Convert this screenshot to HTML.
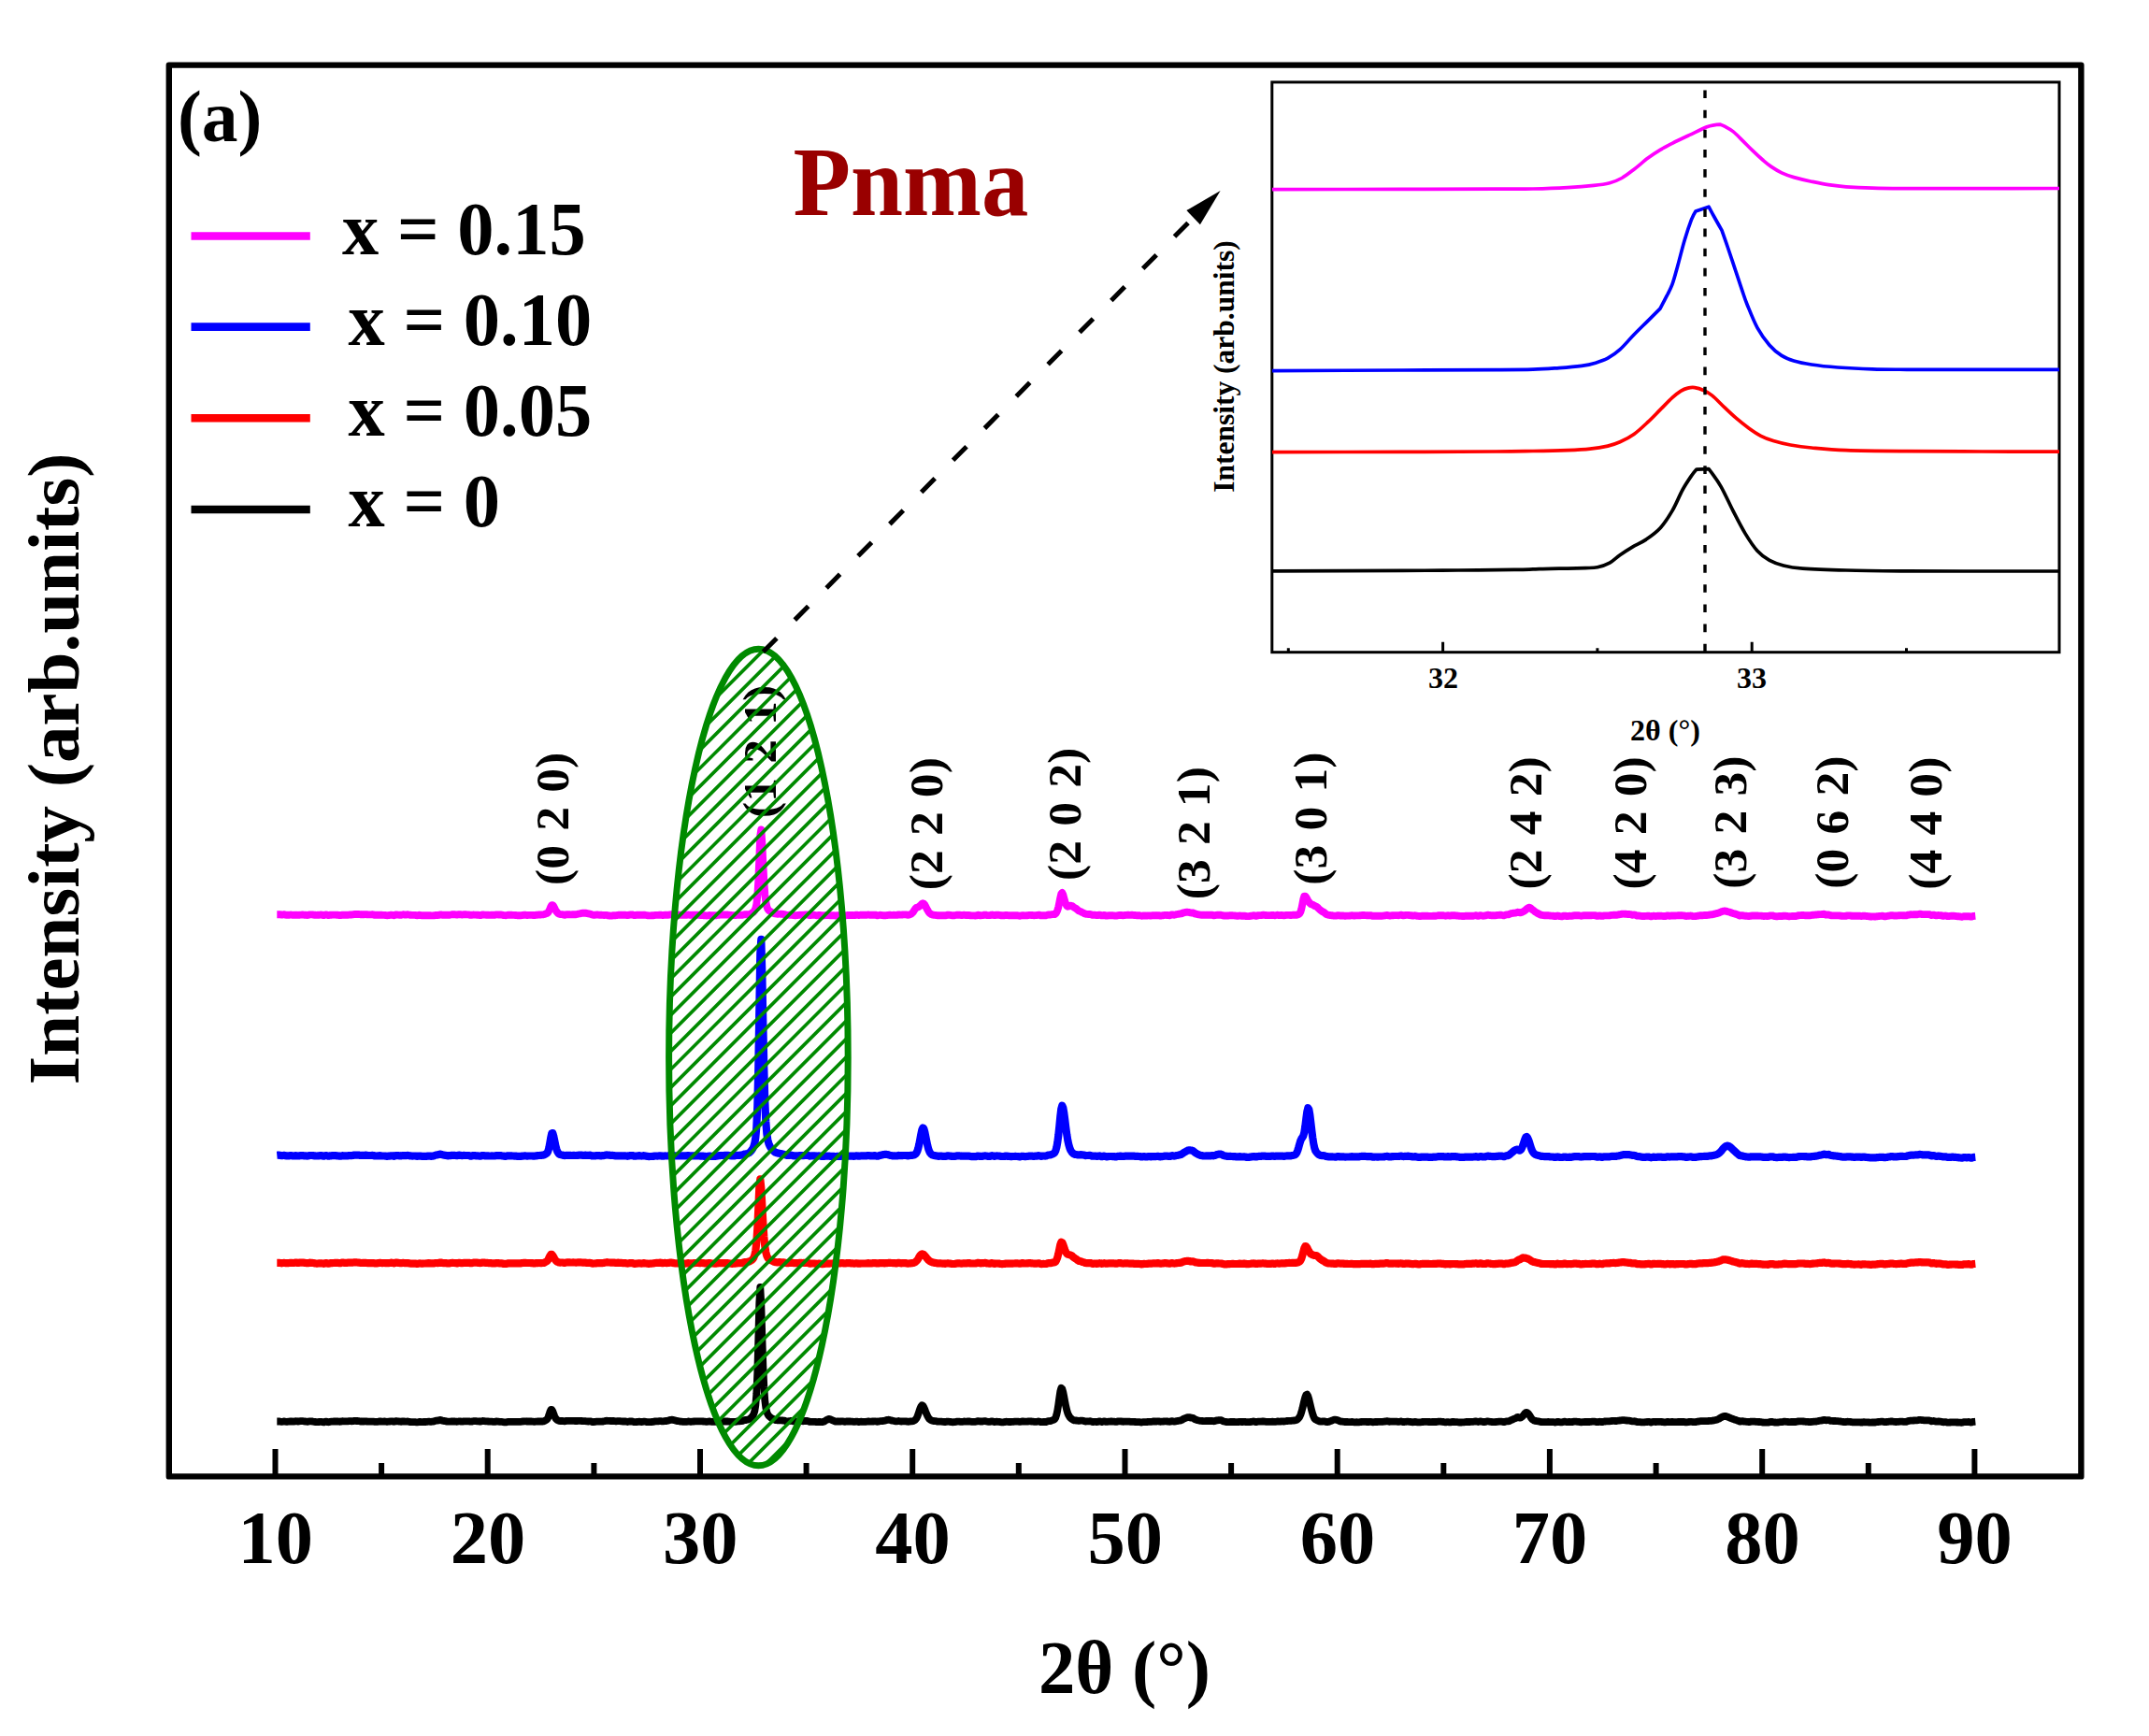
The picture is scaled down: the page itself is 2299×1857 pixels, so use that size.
<!DOCTYPE html>
<html lang="en"><head><meta charset="utf-8"><title>XRD patterns - Pnma</title>
<style>
html,body{margin:0;padding:0;background:#fff;}
body{width:2299px;height:1857px;overflow:hidden;}
svg{display:block;}
text{font-family:"Liberation Serif","Times New Roman",Times,serif;font-weight:bold;fill:#000;}
</style></head><body>
<svg width="2299" height="1857" viewBox="0 0 2299 1857" role="img" aria-label="XRD patterns with inset">
<rect x="0" y="0" width="2299" height="1857" fill="#fff"/>
<g font-size="51.6" word-spacing="2.3">
<text transform="translate(608.3 947.0) rotate(-90)" x="0" y="0">(0 2 0)</text>
<text transform="translate(830.3 874.9) rotate(-90)" x="0" y="0">(1 2 1)</text>
<text transform="translate(1008.3 952.3) rotate(-90)" x="0" y="0">(2 2 0)</text>
<text transform="translate(1156.2 942.0) rotate(-90)" x="0" y="0">(2 0 2)</text>
<text transform="translate(1293.6 962.3) rotate(-90)" x="0" y="0">(3 2 1)</text>
<text transform="translate(1419.1 946.7) rotate(-90)" x="0" y="0">(3 0 1)</text>
<text transform="translate(1648.7 951.4) rotate(-90)" x="0" y="0">(2 4 2)</text>
<text transform="translate(1760.6 951.4) rotate(-90)" x="0" y="0">(4 2 0)</text>
<text transform="translate(1868.2 950.7) rotate(-90)" x="0" y="0">(3 2 3)</text>
<text transform="translate(1976.5 950.7) rotate(-90)" x="0" y="0">(0 6 2)</text>
<text transform="translate(2076.8 951.8) rotate(-90)" x="0" y="0">(4 4 0)</text>
</g>
<path d="M296.3 1520.5 L297.3 1520.5 L298.3 1520.5 L299.3 1520.5 L300.3 1520.7 L301.3 1520.9 L302.3 1520.7 L303.3 1520.5 L304.3 1520.5 L305.3 1520.7 L306.3 1520.8 L307.3 1520.8 L308.3 1520.7 L309.3 1520.6 L310.3 1520.5 L311.3 1520.4 L312.3 1520.5 L313.3 1520.6 L314.3 1520.6 L315.3 1520.4 L316.3 1520.2 L317.3 1520.3 L318.3 1520.5 L319.3 1520.5 L320.3 1520.3 L321.3 1520.2 L322.3 1520.2 L323.3 1520.2 L324.3 1520.2 L325.3 1520.4 L326.3 1520.5 L327.3 1520.6 L328.3 1520.8 L329.3 1520.8 L330.3 1520.5 L331.3 1520.3 L332.3 1520.4 L333.3 1520.4 L334.3 1520.5 L335.3 1520.7 L336.3 1520.9 L337.3 1521.0 L338.3 1521.2 L339.3 1521.2 L340.3 1521.1 L341.3 1521.0 L342.3 1520.9 L343.3 1520.9 L344.3 1520.9 L345.3 1521.2 L346.3 1521.4 L347.3 1521.1 L348.3 1520.7 L349.3 1520.7 L350.3 1521.1 L351.3 1521.3 L352.3 1521.1 L353.3 1520.8 L354.3 1520.7 L355.3 1520.7 L356.3 1520.6 L357.3 1520.5 L358.3 1520.5 L359.3 1520.5 L360.3 1520.5 L361.3 1520.5 L362.3 1520.6 L363.3 1520.8 L364.3 1520.7 L365.3 1520.4 L366.3 1520.2 L367.3 1520.3 L368.3 1520.4 L369.3 1520.4 L370.3 1520.4 L371.3 1520.4 L372.3 1520.3 L373.3 1520.2 L374.3 1520.2 L375.3 1520.2 L376.3 1520.3 L377.3 1520.2 L378.3 1520.0 L379.3 1519.9 L380.3 1519.9 L381.3 1520.0 L382.3 1520.0 L383.3 1520.1 L384.3 1520.2 L385.3 1520.4 L386.3 1520.6 L387.3 1520.5 L388.3 1520.5 L389.3 1520.5 L390.3 1520.4 L391.3 1520.4 L392.3 1520.5 L393.3 1520.7 L394.3 1520.7 L395.3 1520.7 L396.3 1520.6 L397.3 1520.6 L398.3 1520.6 L399.3 1520.6 L400.3 1520.8 L401.3 1520.9 L402.3 1520.9 L403.3 1520.8 L404.3 1520.8 L405.3 1520.6 L406.3 1520.4 L407.3 1520.5 L408.3 1520.6 L409.3 1520.6 L410.3 1520.6 L411.3 1520.5 L412.3 1520.6 L413.3 1520.8 L414.3 1520.8 L415.3 1520.7 L416.3 1520.6 L417.3 1520.5 L418.3 1520.3 L419.3 1520.3 L420.3 1520.6 L421.3 1520.8 L422.3 1520.6 L423.3 1520.2 L424.3 1520.2 L425.3 1520.3 L426.3 1520.4 L427.3 1520.6 L428.3 1520.7 L429.3 1520.8 L430.3 1520.5 L431.3 1520.4 L432.3 1520.5 L433.3 1520.7 L434.3 1520.7 L435.3 1520.6 L436.3 1520.5 L437.3 1520.7 L438.3 1521.0 L439.3 1521.1 L440.3 1521.2 L441.3 1521.2 L442.3 1521.2 L443.3 1521.1 L444.3 1521.2 L445.3 1521.3 L446.3 1521.4 L447.3 1521.2 L448.3 1521.0 L449.3 1520.9 L450.3 1521.1 L451.3 1521.2 L452.3 1521.1 L453.3 1521.0 L454.3 1521.0 L455.3 1521.0 L456.3 1520.9 L457.3 1520.8 L458.3 1520.7 L459.3 1520.7 L460.3 1520.8 L461.3 1520.8 L462.3 1520.7 L463.3 1520.6 L464.3 1520.4 L465.3 1520.0 L466.3 1519.7 L467.3 1519.6 L468.3 1519.5 L469.3 1519.4 L470.3 1519.1 L471.3 1518.9 L472.3 1519.2 L473.3 1519.7 L474.3 1519.9 L475.3 1520.0 L476.3 1520.1 L477.3 1520.4 L478.3 1520.6 L479.3 1520.7 L480.3 1520.7 L481.3 1520.7 L482.3 1520.6 L483.3 1520.4 L484.3 1520.4 L485.3 1520.5 L486.3 1520.5 L487.3 1520.6 L488.3 1520.8 L489.3 1520.7 L490.3 1520.5 L491.3 1520.3 L492.3 1520.4 L493.3 1520.6 L494.3 1520.7 L495.3 1520.5 L496.3 1520.4 L497.3 1520.4 L498.3 1520.4 L499.3 1520.4 L500.3 1520.3 L501.3 1520.3 L502.3 1520.4 L503.3 1520.7 L504.3 1520.7 L505.3 1520.4 L506.3 1520.2 L507.3 1520.2 L508.3 1520.2 L509.3 1520.2 L510.3 1520.3 L511.3 1520.3 L512.3 1520.4 L513.3 1520.6 L514.3 1520.5 L515.3 1520.2 L516.3 1520.0 L517.3 1520.1 L518.3 1520.2 L519.3 1520.3 L520.3 1520.3 L521.3 1520.4 L522.3 1520.5 L523.3 1520.7 L524.3 1520.7 L525.3 1520.7 L526.3 1520.7 L527.3 1520.8 L528.3 1520.9 L529.3 1520.9 L530.3 1520.6 L531.3 1520.5 L532.3 1520.6 L533.3 1520.7 L534.3 1520.8 L535.3 1520.8 L536.3 1520.8 L537.3 1521.0 L538.3 1521.2 L539.3 1521.3 L540.3 1521.4 L541.3 1521.4 L542.3 1521.2 L543.3 1520.8 L544.3 1520.8 L545.3 1520.8 L546.3 1520.8 L547.3 1520.8 L548.3 1520.8 L549.3 1520.8 L550.3 1520.8 L551.3 1520.8 L552.3 1520.8 L553.3 1520.9 L554.3 1520.9 L555.3 1520.9 L556.3 1520.9 L557.3 1520.8 L558.3 1520.6 L559.3 1520.5 L560.3 1520.4 L561.3 1520.3 L562.3 1520.3 L563.3 1520.5 L564.3 1520.5 L565.3 1520.5 L566.3 1520.4 L567.3 1520.5 L568.3 1520.5 L569.3 1520.6 L570.3 1520.7 L571.3 1520.8 L572.3 1520.8 L573.3 1520.6 L574.3 1520.6 L575.3 1520.5 L576.3 1520.5 L577.3 1520.5 L578.3 1520.5 L579.3 1520.5 L580.3 1520.5 L581.3 1520.4 L582.3 1520.1 L583.3 1519.5 L584.3 1519.0 L585.3 1518.2 L586.3 1516.5 L587.3 1513.6 L588.3 1510.3 L589.3 1508.0 L590.3 1507.9 L591.3 1509.7 L592.3 1512.4 L593.3 1515.0 L594.3 1517.0 L595.3 1518.3 L596.3 1519.1 L597.3 1519.6 L598.3 1519.9 L599.3 1520.0 L600.3 1519.9 L601.3 1519.9 L602.3 1520.1 L603.3 1520.3 L604.3 1520.3 L605.3 1520.0 L606.3 1519.9 L607.3 1519.9 L608.3 1519.8 L609.3 1519.8 L610.3 1519.9 L611.3 1519.9 L612.3 1519.9 L613.3 1519.9 L614.3 1519.9 L615.3 1520.0 L616.3 1520.0 L617.3 1520.0 L618.3 1519.9 L619.3 1519.9 L620.3 1519.9 L621.3 1519.9 L622.3 1520.0 L623.3 1520.1 L624.3 1520.1 L625.3 1520.1 L626.3 1520.2 L627.3 1520.3 L628.3 1520.4 L629.3 1520.5 L630.3 1520.4 L631.3 1520.3 L632.3 1520.6 L633.3 1521.0 L634.3 1521.1 L635.3 1521.0 L636.3 1520.9 L637.3 1520.8 L638.3 1520.6 L639.3 1520.6 L640.3 1520.7 L641.3 1520.7 L642.3 1520.7 L643.3 1520.6 L644.3 1520.6 L645.3 1520.5 L646.3 1520.3 L647.3 1520.1 L648.3 1519.8 L649.3 1519.7 L650.3 1519.9 L651.3 1519.9 L652.3 1519.9 L653.3 1520.0 L654.3 1520.1 L655.3 1520.0 L656.3 1520.0 L657.3 1520.1 L658.3 1520.3 L659.3 1520.3 L660.3 1520.2 L661.3 1520.2 L662.3 1520.2 L663.3 1520.2 L664.3 1520.3 L665.3 1520.4 L666.3 1520.5 L667.3 1520.5 L668.3 1520.5 L669.3 1520.5 L670.3 1520.8 L671.3 1521.0 L672.3 1520.8 L673.3 1520.5 L674.3 1520.5 L675.3 1520.5 L676.3 1520.5 L677.3 1520.8 L678.3 1521.2 L679.3 1521.2 L680.3 1521.1 L681.3 1521.0 L682.3 1520.9 L683.3 1520.7 L684.3 1520.7 L685.3 1520.9 L686.3 1521.0 L687.3 1520.9 L688.3 1520.7 L689.3 1520.6 L690.3 1520.8 L691.3 1521.0 L692.3 1521.1 L693.3 1521.2 L694.3 1521.2 L695.3 1521.1 L696.3 1521.1 L697.3 1521.0 L698.3 1520.9 L699.3 1520.8 L700.3 1520.5 L701.3 1520.4 L702.3 1520.3 L703.3 1520.3 L704.3 1520.3 L705.3 1520.2 L706.3 1520.1 L707.3 1520.2 L708.3 1520.4 L709.3 1520.4 L710.3 1520.2 L711.3 1520.1 L712.3 1520.0 L713.3 1520.0 L714.3 1519.8 L715.3 1519.4 L716.3 1519.1 L717.3 1518.9 L718.3 1518.7 L719.3 1518.7 L720.3 1518.9 L721.3 1519.2 L722.3 1519.4 L723.3 1519.7 L724.3 1520.0 L725.3 1520.1 L726.3 1520.3 L727.3 1520.5 L728.3 1520.6 L729.3 1520.7 L730.3 1520.8 L731.3 1520.9 L732.3 1520.9 L733.3 1520.9 L734.3 1520.9 L735.3 1520.7 L736.3 1520.5 L737.3 1520.6 L738.3 1520.8 L739.3 1520.8 L740.3 1520.7 L741.3 1520.6 L742.3 1520.5 L743.3 1520.4 L744.3 1520.3 L745.3 1520.3 L746.3 1520.3 L747.3 1520.4 L748.3 1520.4 L749.3 1520.4 L750.3 1520.4 L751.3 1520.4 L752.3 1520.5 L753.3 1520.6 L754.3 1520.7 L755.3 1520.8 L756.3 1520.8 L757.3 1520.7 L758.3 1520.5 L759.3 1520.5 L760.3 1520.7 L761.3 1520.8 L762.3 1520.8 L763.3 1520.9 L764.3 1520.9 L765.3 1520.9 L766.3 1520.9 L767.3 1520.8 L768.3 1520.5 L769.3 1520.5 L770.3 1520.4 L771.3 1520.4 L772.3 1520.5 L773.3 1520.5 L774.3 1520.5 L775.3 1520.5 L776.3 1520.5 L777.3 1520.5 L778.3 1520.5 L779.3 1520.6 L780.3 1520.7 L781.3 1520.9 L782.3 1520.9 L783.3 1521.0 L784.3 1521.0 L785.3 1520.9 L786.3 1520.9 L787.3 1520.7 L788.3 1520.5 L789.3 1520.4 L790.3 1520.4 L791.3 1520.3 L792.3 1520.2 L793.3 1520.2 L794.3 1520.0 L795.3 1519.5 L796.3 1519.1 L797.3 1519.0 L798.3 1519.0 L799.3 1518.8 L800.3 1518.5 L801.3 1518.1 L802.3 1517.5 L803.3 1516.8 L804.3 1515.8 L805.3 1514.5 L806.3 1512.7 L807.3 1509.5 L808.3 1503.4 L809.3 1491.1 L810.3 1468.2 L811.3 1432.7 L812.3 1393.4 L813.3 1376.8 L814.3 1395.0 L815.3 1428.5 L816.3 1460.2 L817.3 1483.4 L818.3 1497.9 L819.3 1505.9 L820.3 1510.4 L821.3 1512.9 L822.3 1514.4 L823.3 1515.3 L824.3 1516.2 L825.3 1516.9 L826.3 1517.4 L827.3 1518.0 L828.3 1518.6 L829.3 1519.0 L830.3 1519.1 L831.3 1519.3 L832.3 1519.3 L833.3 1519.2 L834.3 1519.3 L835.3 1519.4 L836.3 1519.4 L837.3 1519.5 L838.3 1519.6 L839.3 1519.7 L840.3 1520.1 L841.3 1520.3 L842.3 1520.3 L843.3 1520.3 L844.3 1520.2 L845.3 1520.0 L846.3 1519.8 L847.3 1520.0 L848.3 1520.3 L849.3 1520.4 L850.3 1520.4 L851.3 1520.5 L852.3 1520.4 L853.3 1520.3 L854.3 1520.2 L855.3 1520.1 L856.3 1520.1 L857.3 1520.1 L858.3 1520.2 L859.3 1520.3 L860.3 1520.1 L861.3 1520.0 L862.3 1520.0 L863.3 1520.0 L864.3 1520.1 L865.3 1520.6 L866.3 1520.9 L867.3 1520.9 L868.3 1520.8 L869.3 1520.8 L870.3 1520.8 L871.3 1520.8 L872.3 1520.9 L873.3 1521.1 L874.3 1521.2 L875.3 1521.0 L876.3 1520.9 L877.3 1521.0 L878.3 1521.2 L879.3 1521.1 L880.3 1521.0 L881.3 1520.8 L882.3 1520.3 L883.3 1519.5 L884.3 1518.9 L885.3 1518.4 L886.3 1518.0 L887.3 1517.9 L888.3 1518.2 L889.3 1518.7 L890.3 1519.2 L891.3 1519.6 L892.3 1520.1 L893.3 1520.5 L894.3 1520.6 L895.3 1520.5 L896.3 1520.5 L897.3 1520.5 L898.3 1520.6 L899.3 1520.5 L900.3 1520.4 L901.3 1520.3 L902.3 1520.5 L903.3 1520.8 L904.3 1520.8 L905.3 1520.6 L906.3 1520.4 L907.3 1520.4 L908.3 1520.5 L909.3 1520.5 L910.3 1520.6 L911.3 1520.6 L912.3 1520.7 L913.3 1520.9 L914.3 1520.9 L915.3 1520.7 L916.3 1520.6 L917.3 1520.7 L918.3 1521.0 L919.3 1521.0 L920.3 1520.8 L921.3 1520.7 L922.3 1520.8 L923.3 1520.8 L924.3 1520.8 L925.3 1520.8 L926.3 1520.8 L927.3 1520.7 L928.3 1520.5 L929.3 1520.5 L930.3 1520.6 L931.3 1520.7 L932.3 1520.6 L933.3 1520.5 L934.3 1520.5 L935.3 1520.4 L936.3 1520.3 L937.3 1520.5 L938.3 1520.8 L939.3 1520.7 L940.3 1520.4 L941.3 1520.2 L942.3 1520.2 L943.3 1520.2 L944.3 1520.0 L945.3 1519.9 L946.3 1519.7 L947.3 1519.4 L948.3 1519.1 L949.3 1518.9 L950.3 1518.7 L951.3 1518.8 L952.3 1519.0 L953.3 1519.4 L954.3 1519.6 L955.3 1519.8 L956.3 1520.0 L957.3 1520.2 L958.3 1520.4 L959.3 1520.4 L960.3 1520.2 L961.3 1520.0 L962.3 1520.2 L963.3 1520.4 L964.3 1520.5 L965.3 1520.4 L966.3 1520.3 L967.3 1520.3 L968.3 1520.4 L969.3 1520.4 L970.3 1520.6 L971.3 1520.8 L972.3 1520.7 L973.3 1520.5 L974.3 1520.4 L975.3 1520.4 L976.3 1520.2 L977.3 1519.9 L978.3 1519.5 L979.3 1518.7 L980.3 1517.4 L981.3 1515.5 L982.3 1512.9 L983.3 1509.8 L984.3 1506.8 L985.3 1504.4 L986.3 1503.2 L987.3 1503.6 L988.3 1505.2 L989.3 1507.5 L990.3 1510.2 L991.3 1512.7 L992.3 1514.9 L993.3 1516.7 L994.3 1518.0 L995.3 1518.8 L996.3 1519.3 L997.3 1519.7 L998.3 1519.9 L999.3 1520.1 L1000.3 1520.1 L1001.3 1520.2 L1002.3 1520.4 L1003.3 1520.7 L1004.3 1520.7 L1005.3 1520.7 L1006.3 1520.6 L1007.3 1520.7 L1008.3 1520.8 L1009.3 1520.9 L1010.3 1521.0 L1011.3 1521.0 L1012.3 1520.9 L1013.3 1520.6 L1014.3 1520.6 L1015.3 1520.8 L1016.3 1520.9 L1017.3 1521.0 L1018.3 1521.2 L1019.3 1521.3 L1020.3 1521.2 L1021.3 1521.2 L1022.3 1521.0 L1023.3 1520.7 L1024.3 1520.7 L1025.3 1520.7 L1026.3 1520.7 L1027.3 1520.8 L1028.3 1520.9 L1029.3 1520.9 L1030.3 1520.7 L1031.3 1520.5 L1032.3 1520.6 L1033.3 1520.6 L1034.3 1520.6 L1035.3 1520.5 L1036.3 1520.4 L1037.3 1520.5 L1038.3 1520.7 L1039.3 1520.8 L1040.3 1520.8 L1041.3 1520.8 L1042.3 1520.8 L1043.3 1520.8 L1044.3 1520.7 L1045.3 1520.3 L1046.3 1520.1 L1047.3 1520.3 L1048.3 1520.5 L1049.3 1520.5 L1050.3 1520.5 L1051.3 1520.5 L1052.3 1520.3 L1053.3 1520.1 L1054.3 1520.2 L1055.3 1520.5 L1056.3 1520.7 L1057.3 1520.8 L1058.3 1520.8 L1059.3 1520.8 L1060.3 1520.5 L1061.3 1520.4 L1062.3 1520.6 L1063.3 1521.0 L1064.3 1521.0 L1065.3 1520.8 L1066.3 1520.7 L1067.3 1520.8 L1068.3 1520.8 L1069.3 1520.9 L1070.3 1521.2 L1071.3 1521.3 L1072.3 1521.3 L1073.3 1521.3 L1074.3 1521.2 L1075.3 1520.9 L1076.3 1520.7 L1077.3 1520.8 L1078.3 1520.9 L1079.3 1521.0 L1080.3 1521.0 L1081.3 1521.0 L1082.3 1520.9 L1083.3 1520.8 L1084.3 1520.8 L1085.3 1520.7 L1086.3 1520.6 L1087.3 1520.6 L1088.3 1520.7 L1089.3 1520.7 L1090.3 1520.8 L1091.3 1520.9 L1092.3 1520.7 L1093.3 1520.4 L1094.3 1520.4 L1095.3 1520.6 L1096.3 1520.7 L1097.3 1520.7 L1098.3 1520.6 L1099.3 1520.6 L1100.3 1520.4 L1101.3 1520.3 L1102.3 1520.4 L1103.3 1520.5 L1104.3 1520.6 L1105.3 1520.7 L1106.3 1520.8 L1107.3 1520.8 L1108.3 1520.8 L1109.3 1520.8 L1110.3 1520.6 L1111.3 1520.5 L1112.3 1520.7 L1113.3 1521.1 L1114.3 1521.2 L1115.3 1521.1 L1116.3 1521.0 L1117.3 1521.0 L1118.3 1521.1 L1119.3 1521.0 L1120.3 1520.5 L1121.3 1520.2 L1122.3 1520.1 L1123.3 1520.1 L1124.3 1519.9 L1125.3 1519.5 L1126.3 1519.1 L1127.3 1518.8 L1128.3 1518.1 L1129.3 1516.4 L1130.3 1513.3 L1131.3 1508.7 L1132.3 1502.4 L1133.3 1495.1 L1134.3 1488.3 L1135.3 1484.8 L1136.3 1485.7 L1137.3 1489.1 L1138.3 1494.1 L1139.3 1499.4 L1140.3 1504.4 L1141.3 1508.6 L1142.3 1511.9 L1143.3 1514.1 L1144.3 1515.8 L1145.3 1516.9 L1146.3 1517.7 L1147.3 1518.4 L1148.3 1519.1 L1149.3 1519.4 L1150.3 1519.4 L1151.3 1519.5 L1152.3 1519.6 L1153.3 1519.8 L1154.3 1519.9 L1155.3 1519.7 L1156.3 1519.6 L1157.3 1519.7 L1158.3 1519.7 L1159.3 1519.9 L1160.3 1520.2 L1161.3 1520.5 L1162.3 1520.4 L1163.3 1520.4 L1164.3 1520.4 L1165.3 1520.3 L1166.3 1520.2 L1167.3 1520.5 L1168.3 1520.9 L1169.3 1521.0 L1170.3 1520.9 L1171.3 1520.8 L1172.3 1520.9 L1173.3 1521.0 L1174.3 1520.9 L1175.3 1520.6 L1176.3 1520.4 L1177.3 1520.6 L1178.3 1521.0 L1179.3 1521.0 L1180.3 1520.6 L1181.3 1520.4 L1182.3 1520.6 L1183.3 1520.9 L1184.3 1520.9 L1185.3 1520.7 L1186.3 1520.6 L1187.3 1520.6 L1188.3 1520.5 L1189.3 1520.5 L1190.3 1520.6 L1191.3 1520.6 L1192.3 1520.7 L1193.3 1520.9 L1194.3 1520.9 L1195.3 1520.6 L1196.3 1520.4 L1197.3 1520.4 L1198.3 1520.4 L1199.3 1520.4 L1200.3 1520.6 L1201.3 1520.8 L1202.3 1520.7 L1203.3 1520.6 L1204.3 1520.6 L1205.3 1520.6 L1206.3 1520.6 L1207.3 1520.7 L1208.3 1520.7 L1209.3 1520.8 L1210.3 1520.8 L1211.3 1520.8 L1212.3 1520.8 L1213.3 1520.9 L1214.3 1521.0 L1215.3 1521.1 L1216.3 1521.1 L1217.3 1521.1 L1218.3 1521.1 L1219.3 1521.2 L1220.3 1521.4 L1221.3 1521.5 L1222.3 1521.3 L1223.3 1521.1 L1224.3 1521.1 L1225.3 1521.1 L1226.3 1521.2 L1227.3 1521.0 L1228.3 1520.9 L1229.3 1520.8 L1230.3 1520.9 L1231.3 1520.9 L1232.3 1520.7 L1233.3 1520.5 L1234.3 1520.5 L1235.3 1520.5 L1236.3 1520.6 L1237.3 1520.5 L1238.3 1520.3 L1239.3 1520.3 L1240.3 1520.6 L1241.3 1520.8 L1242.3 1520.7 L1243.3 1520.6 L1244.3 1520.6 L1245.3 1520.4 L1246.3 1520.3 L1247.3 1520.3 L1248.3 1520.5 L1249.3 1520.5 L1250.3 1520.7 L1251.3 1520.8 L1252.3 1520.6 L1253.3 1520.2 L1254.3 1520.2 L1255.3 1520.5 L1256.3 1520.7 L1257.3 1520.5 L1258.3 1520.2 L1259.3 1520.1 L1260.3 1519.9 L1261.3 1519.7 L1262.3 1519.6 L1263.3 1519.4 L1264.3 1519.0 L1265.3 1518.3 L1266.3 1517.7 L1267.3 1517.3 L1268.3 1516.9 L1269.3 1516.5 L1270.3 1516.2 L1271.3 1516.1 L1272.3 1516.1 L1273.3 1516.4 L1274.3 1516.6 L1275.3 1516.7 L1276.3 1516.9 L1277.3 1517.5 L1278.3 1518.2 L1279.3 1518.6 L1280.3 1519.0 L1281.3 1519.3 L1282.3 1519.5 L1283.3 1519.7 L1284.3 1519.9 L1285.3 1519.9 L1286.3 1520.0 L1287.3 1520.1 L1288.3 1520.1 L1289.3 1520.1 L1290.3 1520.0 L1291.3 1519.9 L1292.3 1520.0 L1293.3 1520.0 L1294.3 1520.0 L1295.3 1520.0 L1296.3 1519.9 L1297.3 1520.1 L1298.3 1520.3 L1299.3 1520.2 L1300.3 1519.8 L1301.3 1519.5 L1302.3 1519.4 L1303.3 1519.2 L1304.3 1519.1 L1305.3 1519.1 L1306.3 1519.2 L1307.3 1519.6 L1308.3 1520.2 L1309.3 1520.5 L1310.3 1520.7 L1311.3 1520.9 L1312.3 1521.1 L1313.3 1521.1 L1314.3 1521.2 L1315.3 1521.1 L1316.3 1521.0 L1317.3 1521.0 L1318.3 1521.0 L1319.3 1521.0 L1320.3 1521.0 L1321.3 1521.1 L1322.3 1521.1 L1323.3 1521.1 L1324.3 1521.1 L1325.3 1521.0 L1326.3 1520.8 L1327.3 1520.9 L1328.3 1521.0 L1329.3 1521.0 L1330.3 1520.9 L1331.3 1520.8 L1332.3 1520.9 L1333.3 1521.2 L1334.3 1521.2 L1335.3 1521.2 L1336.3 1521.2 L1337.3 1521.1 L1338.3 1520.9 L1339.3 1520.8 L1340.3 1520.6 L1341.3 1520.5 L1342.3 1520.7 L1343.3 1521.1 L1344.3 1521.1 L1345.3 1520.8 L1346.3 1520.6 L1347.3 1520.6 L1348.3 1520.7 L1349.3 1520.7 L1350.3 1520.5 L1351.3 1520.4 L1352.3 1520.6 L1353.3 1520.7 L1354.3 1520.8 L1355.3 1520.9 L1356.3 1520.9 L1357.3 1520.9 L1358.3 1520.9 L1359.3 1520.9 L1360.3 1520.8 L1361.3 1520.7 L1362.3 1520.8 L1363.3 1520.9 L1364.3 1520.9 L1365.3 1520.7 L1366.3 1520.5 L1367.3 1520.5 L1368.3 1520.6 L1369.3 1520.6 L1370.3 1520.5 L1371.3 1520.4 L1372.3 1520.4 L1373.3 1520.5 L1374.3 1520.4 L1375.3 1520.2 L1376.3 1520.0 L1377.3 1520.0 L1378.3 1519.9 L1379.3 1519.8 L1380.3 1519.9 L1381.3 1519.8 L1382.3 1519.7 L1383.3 1519.6 L1384.3 1519.5 L1385.3 1519.4 L1386.3 1519.2 L1387.3 1518.8 L1388.3 1518.1 L1389.3 1517.1 L1390.3 1515.7 L1391.3 1513.5 L1392.3 1510.5 L1393.3 1506.8 L1394.3 1502.5 L1395.3 1498.2 L1396.3 1494.4 L1397.3 1492.0 L1398.3 1491.6 L1399.3 1493.4 L1400.3 1496.6 L1401.3 1500.8 L1402.3 1505.2 L1403.3 1509.2 L1404.3 1512.6 L1405.3 1515.4 L1406.3 1517.5 L1407.3 1518.5 L1408.3 1518.9 L1409.3 1519.4 L1410.3 1520.0 L1411.3 1520.4 L1412.3 1520.5 L1413.3 1520.6 L1414.3 1520.6 L1415.3 1520.4 L1416.3 1520.3 L1417.3 1520.6 L1418.3 1520.9 L1419.3 1521.0 L1420.3 1521.0 L1421.3 1520.9 L1422.3 1520.6 L1423.3 1520.2 L1424.3 1519.8 L1425.3 1519.4 L1426.3 1519.0 L1427.3 1518.6 L1428.3 1518.6 L1429.3 1518.8 L1430.3 1518.9 L1431.3 1519.2 L1432.3 1519.7 L1433.3 1520.2 L1434.3 1520.5 L1435.3 1520.6 L1436.3 1520.7 L1437.3 1520.8 L1438.3 1521.0 L1439.3 1521.0 L1440.3 1521.0 L1441.3 1521.0 L1442.3 1521.1 L1443.3 1521.1 L1444.3 1521.1 L1445.3 1521.1 L1446.3 1521.0 L1447.3 1521.1 L1448.3 1521.3 L1449.3 1521.3 L1450.3 1521.3 L1451.3 1521.2 L1452.3 1521.3 L1453.3 1521.3 L1454.3 1521.3 L1455.3 1521.1 L1456.3 1521.0 L1457.3 1520.9 L1458.3 1520.9 L1459.3 1520.9 L1460.3 1520.9 L1461.3 1520.9 L1462.3 1521.0 L1463.3 1521.1 L1464.3 1521.0 L1465.3 1520.9 L1466.3 1520.8 L1467.3 1521.0 L1468.3 1521.3 L1469.3 1521.3 L1470.3 1521.1 L1471.3 1521.0 L1472.3 1521.0 L1473.3 1521.0 L1474.3 1520.9 L1475.3 1520.9 L1476.3 1520.8 L1477.3 1520.8 L1478.3 1520.8 L1479.3 1520.8 L1480.3 1520.7 L1481.3 1520.6 L1482.3 1520.4 L1483.3 1520.2 L1484.3 1520.2 L1485.3 1520.5 L1486.3 1520.8 L1487.3 1520.7 L1488.3 1520.7 L1489.3 1520.7 L1490.3 1520.6 L1491.3 1520.6 L1492.3 1520.6 L1493.3 1520.7 L1494.3 1520.7 L1495.3 1520.8 L1496.3 1520.9 L1497.3 1520.7 L1498.3 1520.5 L1499.3 1520.5 L1500.3 1520.9 L1501.3 1521.1 L1502.3 1521.0 L1503.3 1520.8 L1504.3 1520.8 L1505.3 1520.7 L1506.3 1520.7 L1507.3 1520.8 L1508.3 1520.9 L1509.3 1521.0 L1510.3 1521.2 L1511.3 1521.3 L1512.3 1521.2 L1513.3 1520.9 L1514.3 1520.9 L1515.3 1521.2 L1516.3 1521.3 L1517.3 1521.3 L1518.3 1521.4 L1519.3 1521.4 L1520.3 1521.2 L1521.3 1521.0 L1522.3 1521.0 L1523.3 1520.9 L1524.3 1520.9 L1525.3 1520.9 L1526.3 1520.9 L1527.3 1520.9 L1528.3 1521.0 L1529.3 1521.0 L1530.3 1521.1 L1531.3 1521.1 L1532.3 1521.0 L1533.3 1521.0 L1534.3 1521.0 L1535.3 1521.0 L1536.3 1521.0 L1537.3 1520.9 L1538.3 1520.7 L1539.3 1520.6 L1540.3 1520.7 L1541.3 1520.7 L1542.3 1520.8 L1543.3 1520.9 L1544.3 1521.0 L1545.3 1521.2 L1546.3 1521.4 L1547.3 1521.3 L1548.3 1521.1 L1549.3 1521.2 L1550.3 1521.3 L1551.3 1521.4 L1552.3 1521.3 L1553.3 1521.0 L1554.3 1521.0 L1555.3 1521.0 L1556.3 1521.1 L1557.3 1521.1 L1558.3 1521.2 L1559.3 1521.2 L1560.3 1521.4 L1561.3 1521.5 L1562.3 1521.5 L1563.3 1521.5 L1564.3 1521.4 L1565.3 1521.4 L1566.3 1521.3 L1567.3 1521.2 L1568.3 1521.0 L1569.3 1520.9 L1570.3 1521.0 L1571.3 1521.0 L1572.3 1521.0 L1573.3 1520.9 L1574.3 1520.8 L1575.3 1520.8 L1576.3 1520.8 L1577.3 1520.6 L1578.3 1520.5 L1579.3 1520.5 L1580.3 1520.8 L1581.3 1521.0 L1582.3 1520.8 L1583.3 1520.5 L1584.3 1520.5 L1585.3 1520.8 L1586.3 1521.0 L1587.3 1521.0 L1588.3 1521.0 L1589.3 1520.9 L1590.3 1520.5 L1591.3 1520.3 L1592.3 1520.5 L1593.3 1520.7 L1594.3 1520.8 L1595.3 1520.9 L1596.3 1521.1 L1597.3 1521.1 L1598.3 1521.2 L1599.3 1521.2 L1600.3 1521.0 L1601.3 1520.9 L1602.3 1520.8 L1603.3 1520.7 L1604.3 1520.7 L1605.3 1520.7 L1606.3 1520.7 L1607.3 1520.8 L1608.3 1521.1 L1609.3 1521.1 L1610.3 1520.7 L1611.3 1520.4 L1612.3 1520.4 L1613.3 1520.4 L1614.3 1520.2 L1615.3 1519.7 L1616.3 1519.2 L1617.3 1518.8 L1618.3 1518.5 L1619.3 1517.9 L1620.3 1517.5 L1621.3 1517.1 L1622.3 1516.5 L1623.3 1515.9 L1624.3 1515.9 L1625.3 1516.4 L1626.3 1516.7 L1627.3 1516.3 L1628.3 1515.5 L1629.3 1514.5 L1630.3 1513.3 L1631.3 1512.0 L1632.3 1511.1 L1633.3 1510.9 L1634.3 1511.5 L1635.3 1512.5 L1636.3 1513.9 L1637.3 1515.5 L1638.3 1517.2 L1639.3 1518.3 L1640.3 1519.0 L1641.3 1519.6 L1642.3 1519.9 L1643.3 1520.0 L1644.3 1520.2 L1645.3 1520.3 L1646.3 1520.4 L1647.3 1520.7 L1648.3 1521.0 L1649.3 1521.1 L1650.3 1521.1 L1651.3 1521.2 L1652.3 1521.1 L1653.3 1521.1 L1654.3 1521.1 L1655.3 1521.1 L1656.3 1521.0 L1657.3 1521.1 L1658.3 1521.2 L1659.3 1521.2 L1660.3 1521.2 L1661.3 1521.1 L1662.3 1521.3 L1663.3 1521.5 L1664.3 1521.4 L1665.3 1521.0 L1666.3 1520.8 L1667.3 1520.9 L1668.3 1521.2 L1669.3 1521.3 L1670.3 1521.3 L1671.3 1521.3 L1672.3 1521.0 L1673.3 1520.7 L1674.3 1520.7 L1675.3 1521.0 L1676.3 1521.2 L1677.3 1521.1 L1678.3 1521.0 L1679.3 1521.0 L1680.3 1521.1 L1681.3 1521.1 L1682.3 1521.0 L1683.3 1520.7 L1684.3 1520.7 L1685.3 1520.7 L1686.3 1520.7 L1687.3 1520.8 L1688.3 1520.8 L1689.3 1520.9 L1690.3 1521.2 L1691.3 1521.3 L1692.3 1521.3 L1693.3 1521.1 L1694.3 1521.1 L1695.3 1521.0 L1696.3 1520.9 L1697.3 1521.0 L1698.3 1521.0 L1699.3 1521.0 L1700.3 1521.0 L1701.3 1520.9 L1702.3 1520.8 L1703.3 1520.7 L1704.3 1520.7 L1705.3 1520.7 L1706.3 1520.7 L1707.3 1520.9 L1708.3 1521.2 L1709.3 1521.2 L1710.3 1520.9 L1711.3 1520.7 L1712.3 1520.9 L1713.3 1521.1 L1714.3 1521.1 L1715.3 1520.7 L1716.3 1520.5 L1717.3 1520.5 L1718.3 1520.4 L1719.3 1520.4 L1720.3 1520.4 L1721.3 1520.4 L1722.3 1520.3 L1723.3 1520.1 L1724.3 1520.0 L1725.3 1519.9 L1726.3 1519.9 L1727.3 1519.9 L1728.3 1520.1 L1729.3 1520.0 L1730.3 1519.8 L1731.3 1519.7 L1732.3 1519.6 L1733.3 1519.4 L1734.3 1519.3 L1735.3 1519.2 L1736.3 1519.1 L1737.3 1519.1 L1738.3 1519.3 L1739.3 1519.4 L1740.3 1519.5 L1741.3 1519.7 L1742.3 1519.7 L1743.3 1519.7 L1744.3 1519.9 L1745.3 1520.2 L1746.3 1520.4 L1747.3 1520.4 L1748.3 1520.2 L1749.3 1520.4 L1750.3 1520.8 L1751.3 1521.1 L1752.3 1521.1 L1753.3 1521.1 L1754.3 1521.1 L1755.3 1521.3 L1756.3 1521.4 L1757.3 1521.4 L1758.3 1521.4 L1759.3 1521.3 L1760.3 1521.2 L1761.3 1521.1 L1762.3 1521.0 L1763.3 1520.8 L1764.3 1520.9 L1765.3 1521.2 L1766.3 1521.5 L1767.3 1521.2 L1768.3 1520.8 L1769.3 1520.8 L1770.3 1520.9 L1771.3 1521.0 L1772.3 1520.9 L1773.3 1520.9 L1774.3 1520.8 L1775.3 1520.8 L1776.3 1520.8 L1777.3 1520.9 L1778.3 1521.1 L1779.3 1521.2 L1780.3 1521.3 L1781.3 1521.4 L1782.3 1521.2 L1783.3 1520.9 L1784.3 1520.9 L1785.3 1521.1 L1786.3 1521.2 L1787.3 1521.1 L1788.3 1521.0 L1789.3 1521.0 L1790.3 1521.1 L1791.3 1521.2 L1792.3 1521.2 L1793.3 1521.2 L1794.3 1521.1 L1795.3 1521.0 L1796.3 1521.0 L1797.3 1521.0 L1798.3 1521.0 L1799.3 1521.0 L1800.3 1521.0 L1801.3 1521.0 L1802.3 1521.1 L1803.3 1521.4 L1804.3 1521.4 L1805.3 1521.2 L1806.3 1521.1 L1807.3 1520.9 L1808.3 1520.8 L1809.3 1520.8 L1810.3 1521.0 L1811.3 1521.2 L1812.3 1521.2 L1813.3 1521.1 L1814.3 1521.1 L1815.3 1520.8 L1816.3 1520.6 L1817.3 1520.5 L1818.3 1520.3 L1819.3 1520.2 L1820.3 1520.2 L1821.3 1520.2 L1822.3 1520.2 L1823.3 1520.1 L1824.3 1520.1 L1825.3 1520.2 L1826.3 1520.2 L1827.3 1520.1 L1828.3 1519.9 L1829.3 1519.9 L1830.3 1519.8 L1831.3 1519.8 L1832.3 1519.6 L1833.3 1519.4 L1834.3 1519.2 L1835.3 1519.0 L1836.3 1518.7 L1837.3 1518.4 L1838.3 1518.0 L1839.3 1517.5 L1840.3 1516.8 L1841.3 1516.3 L1842.3 1515.7 L1843.3 1515.2 L1844.3 1514.9 L1845.3 1514.9 L1846.3 1515.0 L1847.3 1515.3 L1848.3 1515.7 L1849.3 1516.1 L1850.3 1516.4 L1851.3 1516.9 L1852.3 1517.3 L1853.3 1517.7 L1854.3 1518.1 L1855.3 1518.4 L1856.3 1518.7 L1857.3 1519.1 L1858.3 1519.4 L1859.3 1519.7 L1860.3 1520.2 L1861.3 1520.6 L1862.3 1520.5 L1863.3 1520.2 L1864.3 1520.2 L1865.3 1520.5 L1866.3 1520.6 L1867.3 1520.7 L1868.3 1520.8 L1869.3 1520.8 L1870.3 1521.0 L1871.3 1521.1 L1872.3 1520.9 L1873.3 1520.6 L1874.3 1520.6 L1875.3 1520.7 L1876.3 1520.7 L1877.3 1520.7 L1878.3 1520.8 L1879.3 1520.8 L1880.3 1520.9 L1881.3 1521.0 L1882.3 1521.0 L1883.3 1521.1 L1884.3 1521.2 L1885.3 1521.4 L1886.3 1521.6 L1887.3 1521.6 L1888.3 1521.6 L1889.3 1521.6 L1890.3 1521.6 L1891.3 1521.7 L1892.3 1521.4 L1893.3 1521.1 L1894.3 1521.0 L1895.3 1521.0 L1896.3 1521.0 L1897.3 1521.2 L1898.3 1521.5 L1899.3 1521.5 L1900.3 1521.6 L1901.3 1521.6 L1902.3 1521.5 L1903.3 1521.3 L1904.3 1521.2 L1905.3 1521.2 L1906.3 1521.2 L1907.3 1521.0 L1908.3 1520.7 L1909.3 1520.6 L1910.3 1520.8 L1911.3 1520.8 L1912.3 1520.9 L1913.3 1521.1 L1914.3 1521.1 L1915.3 1521.1 L1916.3 1521.0 L1917.3 1521.0 L1918.3 1521.0 L1919.3 1521.0 L1920.3 1521.0 L1921.3 1521.0 L1922.3 1520.8 L1923.3 1520.5 L1924.3 1520.4 L1925.3 1520.4 L1926.3 1520.4 L1927.3 1520.4 L1928.3 1520.4 L1929.3 1520.5 L1930.3 1520.6 L1931.3 1520.8 L1932.3 1520.8 L1933.3 1520.9 L1934.3 1520.9 L1935.3 1521.1 L1936.3 1521.1 L1937.3 1521.0 L1938.3 1520.9 L1939.3 1520.8 L1940.3 1520.7 L1941.3 1520.6 L1942.3 1520.6 L1943.3 1520.5 L1944.3 1520.3 L1945.3 1520.1 L1946.3 1519.8 L1947.3 1519.7 L1948.3 1519.6 L1949.3 1519.4 L1950.3 1519.1 L1951.3 1518.9 L1952.3 1519.0 L1953.3 1519.3 L1954.3 1519.3 L1955.3 1519.1 L1956.3 1519.1 L1957.3 1519.4 L1958.3 1519.8 L1959.3 1519.9 L1960.3 1519.9 L1961.3 1520.0 L1962.3 1520.0 L1963.3 1520.0 L1964.3 1520.1 L1965.3 1520.1 L1966.3 1520.2 L1967.3 1520.3 L1968.3 1520.4 L1969.3 1520.5 L1970.3 1520.7 L1971.3 1520.9 L1972.3 1521.0 L1973.3 1521.1 L1974.3 1521.1 L1975.3 1520.9 L1976.3 1520.7 L1977.3 1520.8 L1978.3 1520.8 L1979.3 1520.9 L1980.3 1521.1 L1981.3 1521.3 L1982.3 1521.3 L1983.3 1521.4 L1984.3 1521.4 L1985.3 1521.4 L1986.3 1521.4 L1987.3 1521.3 L1988.3 1521.3 L1989.3 1521.3 L1990.3 1521.5 L1991.3 1521.6 L1992.3 1521.5 L1993.3 1521.2 L1994.3 1521.2 L1995.3 1521.3 L1996.3 1521.4 L1997.3 1521.4 L1998.3 1521.4 L1999.3 1521.5 L2000.3 1521.6 L2001.3 1521.7 L2002.3 1521.6 L2003.3 1521.4 L2004.3 1521.4 L2005.3 1521.5 L2006.3 1521.5 L2007.3 1521.3 L2008.3 1521.1 L2009.3 1521.0 L2010.3 1520.9 L2011.3 1520.8 L2012.3 1520.7 L2013.3 1520.7 L2014.3 1520.7 L2015.3 1521.0 L2016.3 1521.2 L2017.3 1521.1 L2018.3 1521.0 L2019.3 1520.9 L2020.3 1520.8 L2021.3 1520.6 L2022.3 1520.6 L2023.3 1520.4 L2024.3 1520.5 L2025.3 1520.7 L2026.3 1520.8 L2027.3 1520.9 L2028.3 1521.0 L2029.3 1520.9 L2030.3 1520.8 L2031.3 1520.8 L2032.3 1520.7 L2033.3 1520.6 L2034.3 1520.6 L2035.3 1520.7 L2036.3 1520.8 L2037.3 1520.8 L2038.3 1520.9 L2039.3 1520.8 L2040.3 1520.4 L2041.3 1520.1 L2042.3 1519.9 L2043.3 1519.7 L2044.3 1519.6 L2045.3 1519.6 L2046.3 1519.6 L2047.3 1519.5 L2048.3 1519.4 L2049.3 1519.3 L2050.3 1519.3 L2051.3 1519.3 L2052.3 1519.1 L2053.3 1518.8 L2054.3 1518.8 L2055.3 1519.0 L2056.3 1519.2 L2057.3 1519.2 L2058.3 1519.3 L2059.3 1519.3 L2060.3 1519.3 L2061.3 1519.3 L2062.3 1519.4 L2063.3 1519.3 L2064.3 1519.5 L2065.3 1519.9 L2066.3 1520.3 L2067.3 1520.2 L2068.3 1520.0 L2069.3 1520.1 L2070.3 1520.5 L2071.3 1520.7 L2072.3 1520.7 L2073.3 1520.5 L2074.3 1520.5 L2075.3 1520.6 L2076.3 1520.7 L2077.3 1520.9 L2078.3 1521.2 L2079.3 1521.3 L2080.3 1521.2 L2081.3 1521.1 L2082.3 1521.3 L2083.3 1521.7 L2084.3 1521.7 L2085.3 1521.6 L2086.3 1521.5 L2087.3 1521.4 L2088.3 1521.3 L2089.3 1521.3 L2090.3 1521.3 L2091.3 1521.3 L2092.3 1521.4 L2093.3 1521.5 L2094.3 1521.5 L2095.3 1521.6 L2096.3 1521.6 L2097.3 1521.7 L2098.3 1521.8 L2099.3 1521.7 L2100.3 1521.3 L2101.3 1521.1 L2102.3 1521.1 L2103.3 1521.2 L2104.3 1521.2 L2105.3 1521.1 L2106.3 1521.0 L2107.3 1521.2 L2108.3 1521.5 L2109.3 1521.4 L2110.3 1521.1 L2111.3 1520.8 L2112.3 1520.8 L2113.3 1520.7" fill="none" stroke="#000000" stroke-width="7.8" stroke-linejoin="round" stroke-linecap="butt"/>
<path d="M296.3 1350.9 L297.3 1350.9 L298.3 1350.9 L299.3 1350.9 L300.3 1351.1 L301.3 1351.3 L302.3 1351.1 L303.3 1350.9 L304.3 1350.9 L305.3 1351.1 L306.3 1351.2 L307.3 1351.2 L308.3 1351.1 L309.3 1351.0 L310.3 1350.9 L311.3 1350.8 L312.3 1350.9 L313.3 1351.0 L314.3 1351.0 L315.3 1350.8 L316.3 1350.6 L317.3 1350.7 L318.3 1350.9 L319.3 1350.9 L320.3 1350.7 L321.3 1350.6 L322.3 1350.6 L323.3 1350.6 L324.3 1350.6 L325.3 1350.8 L326.3 1350.9 L327.3 1351.0 L328.3 1351.2 L329.3 1351.2 L330.3 1350.9 L331.3 1350.7 L332.3 1350.8 L333.3 1350.9 L334.3 1350.9 L335.3 1351.1 L336.3 1351.3 L337.3 1351.4 L338.3 1351.6 L339.3 1351.6 L340.3 1351.5 L341.3 1351.4 L342.3 1351.4 L343.3 1351.3 L344.3 1351.4 L345.3 1351.6 L346.3 1351.8 L347.3 1351.6 L348.3 1351.2 L349.3 1351.1 L350.3 1351.5 L351.3 1351.7 L352.3 1351.5 L353.3 1351.2 L354.3 1351.2 L355.3 1351.1 L356.3 1351.0 L357.3 1351.0 L358.3 1350.9 L359.3 1350.9 L360.3 1350.9 L361.3 1350.9 L362.3 1351.0 L363.3 1351.2 L364.3 1351.2 L365.3 1350.8 L366.3 1350.6 L367.3 1350.7 L368.3 1350.8 L369.3 1350.8 L370.3 1350.8 L371.3 1350.8 L372.3 1350.7 L373.3 1350.6 L374.3 1350.6 L375.3 1350.7 L376.3 1350.7 L377.3 1350.6 L378.3 1350.4 L379.3 1350.4 L380.3 1350.4 L381.3 1350.4 L382.3 1350.5 L383.3 1350.6 L384.3 1350.6 L385.3 1350.9 L386.3 1351.0 L387.3 1351.0 L388.3 1350.9 L389.3 1350.9 L390.3 1350.9 L391.3 1350.9 L392.3 1351.0 L393.3 1351.1 L394.3 1351.2 L395.3 1351.1 L396.3 1351.1 L397.3 1351.1 L398.3 1351.0 L399.3 1351.0 L400.3 1351.2 L401.3 1351.4 L402.3 1351.3 L403.3 1351.3 L404.3 1351.2 L405.3 1351.0 L406.3 1350.9 L407.3 1350.9 L408.3 1351.1 L409.3 1351.1 L410.3 1351.0 L411.3 1351.0 L412.3 1351.1 L413.3 1351.2 L414.3 1351.2 L415.3 1351.1 L416.3 1351.1 L417.3 1350.9 L418.3 1350.7 L419.3 1350.8 L420.3 1351.1 L421.3 1351.3 L422.3 1351.0 L423.3 1350.7 L424.3 1350.6 L425.3 1350.8 L426.3 1350.9 L427.3 1351.0 L428.3 1351.2 L429.3 1351.2 L430.3 1351.0 L431.3 1350.9 L432.3 1351.0 L433.3 1351.2 L434.3 1351.2 L435.3 1351.1 L436.3 1351.0 L437.3 1351.2 L438.3 1351.5 L439.3 1351.6 L440.3 1351.7 L441.3 1351.7 L442.3 1351.7 L443.3 1351.6 L444.3 1351.6 L445.3 1351.8 L446.3 1351.9 L447.3 1351.7 L448.3 1351.5 L449.3 1351.4 L450.3 1351.6 L451.3 1351.7 L452.3 1351.6 L453.3 1351.5 L454.3 1351.5 L455.3 1351.5 L456.3 1351.4 L457.3 1351.3 L458.3 1351.2 L459.3 1351.2 L460.3 1351.4 L461.3 1351.4 L462.3 1351.4 L463.3 1351.4 L464.3 1351.4 L465.3 1351.1 L466.3 1351.0 L467.3 1351.0 L468.3 1351.1 L469.3 1351.0 L470.3 1350.7 L471.3 1350.6 L472.3 1350.7 L473.3 1351.0 L474.3 1351.1 L475.3 1351.0 L476.3 1351.0 L477.3 1351.2 L478.3 1351.3 L479.3 1351.4 L480.3 1351.3 L481.3 1351.3 L482.3 1351.1 L483.3 1350.9 L484.3 1350.9 L485.3 1351.0 L486.3 1351.0 L487.3 1351.1 L488.3 1351.3 L489.3 1351.3 L490.3 1351.0 L491.3 1350.8 L492.3 1351.0 L493.3 1351.1 L494.3 1351.2 L495.3 1351.0 L496.3 1350.9 L497.3 1350.9 L498.3 1350.9 L499.3 1350.8 L500.3 1350.8 L501.3 1350.8 L502.3 1350.9 L503.3 1351.2 L504.3 1351.2 L505.3 1350.9 L506.3 1350.7 L507.3 1350.7 L508.3 1350.7 L509.3 1350.7 L510.3 1350.7 L511.3 1350.8 L512.3 1350.9 L513.3 1351.1 L514.3 1351.0 L515.3 1350.7 L516.3 1350.5 L517.3 1350.6 L518.3 1350.7 L519.3 1350.8 L520.3 1350.8 L521.3 1350.9 L522.3 1351.0 L523.3 1351.2 L524.3 1351.2 L525.3 1351.2 L526.3 1351.3 L527.3 1351.3 L528.3 1351.4 L529.3 1351.4 L530.3 1351.2 L531.3 1351.0 L532.3 1351.1 L533.3 1351.2 L534.3 1351.3 L535.3 1351.3 L536.3 1351.3 L537.3 1351.5 L538.3 1351.8 L539.3 1351.8 L540.3 1351.9 L541.3 1351.9 L542.3 1351.7 L543.3 1351.4 L544.3 1351.3 L545.3 1351.3 L546.3 1351.3 L547.3 1351.3 L548.3 1351.3 L549.3 1351.3 L550.3 1351.3 L551.3 1351.3 L552.3 1351.3 L553.3 1351.4 L554.3 1351.4 L555.3 1351.4 L556.3 1351.4 L557.3 1351.3 L558.3 1351.1 L559.3 1351.0 L560.3 1350.9 L561.3 1350.8 L562.3 1350.9 L563.3 1351.0 L564.3 1351.0 L565.3 1351.0 L566.3 1351.0 L567.3 1351.0 L568.3 1351.1 L569.3 1351.1 L570.3 1351.3 L571.3 1351.4 L572.3 1351.3 L573.3 1351.2 L574.3 1351.2 L575.3 1351.1 L576.3 1351.0 L577.3 1351.0 L578.3 1351.1 L579.3 1351.1 L580.3 1351.0 L581.3 1351.0 L582.3 1350.7 L583.3 1350.1 L584.3 1349.6 L585.3 1349.0 L586.3 1347.7 L587.3 1345.6 L588.3 1343.4 L589.3 1341.9 L590.3 1341.8 L591.3 1343.0 L592.3 1344.8 L593.3 1346.6 L594.3 1348.1 L595.3 1349.1 L596.3 1349.8 L597.3 1350.2 L598.3 1350.5 L599.3 1350.6 L600.3 1350.5 L601.3 1350.5 L602.3 1350.6 L603.3 1350.9 L604.3 1350.9 L605.3 1350.6 L606.3 1350.4 L607.3 1350.4 L608.3 1350.4 L609.3 1350.4 L610.3 1350.5 L611.3 1350.5 L612.3 1350.5 L613.3 1350.4 L614.3 1350.5 L615.3 1350.5 L616.3 1350.6 L617.3 1350.5 L618.3 1350.4 L619.3 1350.4 L620.3 1350.4 L621.3 1350.4 L622.3 1350.5 L623.3 1350.6 L624.3 1350.7 L625.3 1350.7 L626.3 1350.7 L627.3 1350.8 L628.3 1351.0 L629.3 1351.0 L630.3 1350.9 L631.3 1350.9 L632.3 1351.1 L633.3 1351.5 L634.3 1351.6 L635.3 1351.5 L636.3 1351.5 L637.3 1351.4 L638.3 1351.2 L639.3 1351.2 L640.3 1351.2 L641.3 1351.2 L642.3 1351.2 L643.3 1351.2 L644.3 1351.1 L645.3 1351.0 L646.3 1350.9 L647.3 1350.6 L648.3 1350.4 L649.3 1350.2 L650.3 1350.4 L651.3 1350.5 L652.3 1350.5 L653.3 1350.6 L654.3 1350.6 L655.3 1350.5 L656.3 1350.5 L657.3 1350.7 L658.3 1350.8 L659.3 1350.9 L660.3 1350.8 L661.3 1350.7 L662.3 1350.8 L663.3 1350.8 L664.3 1350.8 L665.3 1351.0 L666.3 1351.1 L667.3 1351.1 L668.3 1351.0 L669.3 1351.1 L670.3 1351.4 L671.3 1351.6 L672.3 1351.4 L673.3 1351.1 L674.3 1351.1 L675.3 1351.1 L676.3 1351.1 L677.3 1351.3 L678.3 1351.8 L679.3 1351.8 L680.3 1351.7 L681.3 1351.6 L682.3 1351.5 L683.3 1351.3 L684.3 1351.3 L685.3 1351.5 L686.3 1351.6 L687.3 1351.5 L688.3 1351.2 L689.3 1351.2 L690.3 1351.4 L691.3 1351.5 L692.3 1351.6 L693.3 1351.8 L694.3 1351.8 L695.3 1351.7 L696.3 1351.7 L697.3 1351.6 L698.3 1351.4 L699.3 1351.4 L700.3 1351.1 L701.3 1351.0 L702.3 1350.9 L703.3 1351.0 L704.3 1350.9 L705.3 1350.8 L706.3 1350.7 L707.3 1350.8 L708.3 1351.1 L709.3 1351.1 L710.3 1351.0 L711.3 1350.9 L712.3 1351.0 L713.3 1351.1 L714.3 1351.0 L715.3 1350.9 L716.3 1350.7 L717.3 1350.7 L718.3 1350.7 L719.3 1350.8 L720.3 1351.1 L721.3 1351.2 L722.3 1351.3 L723.3 1351.4 L724.3 1351.5 L725.3 1351.4 L726.3 1351.4 L727.3 1351.5 L728.3 1351.5 L729.3 1351.5 L730.3 1351.5 L731.3 1351.6 L732.3 1351.6 L733.3 1351.6 L734.3 1351.5 L735.3 1351.3 L736.3 1351.2 L737.3 1351.3 L738.3 1351.4 L739.3 1351.4 L740.3 1351.3 L741.3 1351.3 L742.3 1351.2 L743.3 1351.0 L744.3 1351.0 L745.3 1351.0 L746.3 1350.9 L747.3 1351.0 L748.3 1351.1 L749.3 1351.1 L750.3 1351.0 L751.3 1351.0 L752.3 1351.1 L753.3 1351.3 L754.3 1351.3 L755.3 1351.4 L756.3 1351.5 L757.3 1351.3 L758.3 1351.1 L759.3 1351.1 L760.3 1351.3 L761.3 1351.5 L762.3 1351.5 L763.3 1351.5 L764.3 1351.6 L765.3 1351.6 L766.3 1351.6 L767.3 1351.4 L768.3 1351.2 L769.3 1351.2 L770.3 1351.1 L771.3 1351.1 L772.3 1351.1 L773.3 1351.2 L774.3 1351.2 L775.3 1351.2 L776.3 1351.2 L777.3 1351.2 L778.3 1351.2 L779.3 1351.3 L780.3 1351.5 L781.3 1351.6 L782.3 1351.7 L783.3 1351.8 L784.3 1351.7 L785.3 1351.7 L786.3 1351.6 L787.3 1351.5 L788.3 1351.3 L789.3 1351.2 L790.3 1351.2 L791.3 1351.2 L792.3 1351.1 L793.3 1351.1 L794.3 1350.9 L795.3 1350.4 L796.3 1350.1 L797.3 1350.1 L798.3 1350.1 L799.3 1349.9 L800.3 1349.8 L801.3 1349.5 L802.3 1349.1 L803.3 1348.5 L804.3 1347.8 L805.3 1346.8 L806.3 1345.4 L807.3 1342.8 L808.3 1338.0 L809.3 1329.1 L810.3 1313.9 L811.3 1292.3 L812.3 1270.2 L813.3 1261.4 L814.3 1270.8 L815.3 1289.0 L816.3 1307.7 L817.3 1322.8 L818.3 1333.2 L819.3 1339.5 L820.3 1343.2 L821.3 1345.4 L822.3 1346.6 L823.3 1347.2 L824.3 1347.9 L825.3 1348.4 L826.3 1348.8 L827.3 1349.3 L828.3 1349.8 L829.3 1350.1 L830.3 1350.2 L831.3 1350.3 L832.3 1350.3 L833.3 1350.2 L834.3 1350.2 L835.3 1350.3 L836.3 1350.3 L837.3 1350.4 L838.3 1350.4 L839.3 1350.5 L840.3 1350.9 L841.3 1351.1 L842.3 1351.1 L843.3 1351.1 L844.3 1351.0 L845.3 1350.7 L846.3 1350.6 L847.3 1350.7 L848.3 1351.0 L849.3 1351.1 L850.3 1351.2 L851.3 1351.2 L852.3 1351.1 L853.3 1351.0 L854.3 1351.0 L855.3 1350.9 L856.3 1350.8 L857.3 1350.9 L858.3 1351.0 L859.3 1351.0 L860.3 1350.8 L861.3 1350.8 L862.3 1350.8 L863.3 1350.8 L864.3 1350.9 L865.3 1351.3 L866.3 1351.6 L867.3 1351.6 L868.3 1351.5 L869.3 1351.5 L870.3 1351.5 L871.3 1351.5 L872.3 1351.7 L873.3 1351.9 L874.3 1351.9 L875.3 1351.8 L876.3 1351.6 L877.3 1351.8 L878.3 1352.0 L879.3 1352.1 L880.3 1352.1 L881.3 1352.0 L882.3 1351.9 L883.3 1351.6 L884.3 1351.6 L885.3 1351.6 L886.3 1351.6 L887.3 1351.6 L888.3 1351.5 L889.3 1351.5 L890.3 1351.5 L891.3 1351.4 L892.3 1351.5 L893.3 1351.6 L894.3 1351.6 L895.3 1351.4 L896.3 1351.3 L897.3 1351.3 L898.3 1351.3 L899.3 1351.3 L900.3 1351.1 L901.3 1351.0 L902.3 1351.2 L903.3 1351.5 L904.3 1351.5 L905.3 1351.3 L906.3 1351.1 L907.3 1351.2 L908.3 1351.2 L909.3 1351.2 L910.3 1351.3 L911.3 1351.3 L912.3 1351.4 L913.3 1351.6 L914.3 1351.6 L915.3 1351.4 L916.3 1351.3 L917.3 1351.5 L918.3 1351.7 L919.3 1351.7 L920.3 1351.6 L921.3 1351.5 L922.3 1351.5 L923.3 1351.5 L924.3 1351.5 L925.3 1351.5 L926.3 1351.5 L927.3 1351.4 L928.3 1351.2 L929.3 1351.2 L930.3 1351.4 L931.3 1351.5 L932.3 1351.4 L933.3 1351.2 L934.3 1351.2 L935.3 1351.1 L936.3 1351.0 L937.3 1351.2 L938.3 1351.5 L939.3 1351.5 L940.3 1351.2 L941.3 1351.0 L942.3 1351.0 L943.3 1351.1 L944.3 1351.1 L945.3 1351.2 L946.3 1351.3 L947.3 1351.2 L948.3 1351.1 L949.3 1351.1 L950.3 1350.9 L951.3 1350.9 L952.3 1350.9 L953.3 1351.0 L954.3 1351.0 L955.3 1351.1 L956.3 1351.1 L957.3 1351.2 L958.3 1351.3 L959.3 1351.3 L960.3 1351.0 L961.3 1350.8 L962.3 1351.0 L963.3 1351.2 L964.3 1351.3 L965.3 1351.2 L966.3 1351.1 L967.3 1351.1 L968.3 1351.2 L969.3 1351.2 L970.3 1351.5 L971.3 1351.6 L972.3 1351.5 L973.3 1351.4 L974.3 1351.3 L975.3 1351.2 L976.3 1351.1 L977.3 1350.9 L978.3 1350.5 L979.3 1349.9 L980.3 1349.0 L981.3 1347.9 L982.3 1346.4 L983.3 1344.6 L984.3 1343.0 L985.3 1341.9 L986.3 1341.4 L987.3 1341.5 L988.3 1342.1 L989.3 1343.1 L990.3 1344.3 L991.3 1345.6 L992.3 1346.8 L993.3 1347.9 L994.3 1348.8 L995.3 1349.4 L996.3 1349.9 L997.3 1350.3 L998.3 1350.6 L999.3 1350.8 L1000.3 1350.9 L1001.3 1351.0 L1002.3 1351.2 L1003.3 1351.4 L1004.3 1351.5 L1005.3 1351.4 L1006.3 1351.4 L1007.3 1351.5 L1008.3 1351.6 L1009.3 1351.7 L1010.3 1351.7 L1011.3 1351.8 L1012.3 1351.6 L1013.3 1351.4 L1014.3 1351.4 L1015.3 1351.5 L1016.3 1351.6 L1017.3 1351.8 L1018.3 1352.0 L1019.3 1352.0 L1020.3 1352.0 L1021.3 1352.0 L1022.3 1351.8 L1023.3 1351.5 L1024.3 1351.4 L1025.3 1351.4 L1026.3 1351.4 L1027.3 1351.5 L1028.3 1351.6 L1029.3 1351.6 L1030.3 1351.4 L1031.3 1351.3 L1032.3 1351.3 L1033.3 1351.3 L1034.3 1351.3 L1035.3 1351.2 L1036.3 1351.1 L1037.3 1351.2 L1038.3 1351.5 L1039.3 1351.5 L1040.3 1351.5 L1041.3 1351.5 L1042.3 1351.5 L1043.3 1351.5 L1044.3 1351.4 L1045.3 1351.1 L1046.3 1350.8 L1047.3 1351.0 L1048.3 1351.2 L1049.3 1351.3 L1050.3 1351.2 L1051.3 1351.2 L1052.3 1351.1 L1053.3 1350.9 L1054.3 1350.9 L1055.3 1351.2 L1056.3 1351.5 L1057.3 1351.5 L1058.3 1351.6 L1059.3 1351.6 L1060.3 1351.3 L1061.3 1351.1 L1062.3 1351.4 L1063.3 1351.7 L1064.3 1351.8 L1065.3 1351.6 L1066.3 1351.5 L1067.3 1351.5 L1068.3 1351.6 L1069.3 1351.7 L1070.3 1351.9 L1071.3 1352.1 L1072.3 1352.1 L1073.3 1352.0 L1074.3 1352.0 L1075.3 1351.7 L1076.3 1351.5 L1077.3 1351.6 L1078.3 1351.7 L1079.3 1351.7 L1080.3 1351.7 L1081.3 1351.7 L1082.3 1351.7 L1083.3 1351.6 L1084.3 1351.5 L1085.3 1351.5 L1086.3 1351.4 L1087.3 1351.4 L1088.3 1351.4 L1089.3 1351.5 L1090.3 1351.6 L1091.3 1351.7 L1092.3 1351.5 L1093.3 1351.2 L1094.3 1351.1 L1095.3 1351.4 L1096.3 1351.5 L1097.3 1351.5 L1098.3 1351.4 L1099.3 1351.4 L1100.3 1351.2 L1101.3 1351.1 L1102.3 1351.2 L1103.3 1351.3 L1104.3 1351.4 L1105.3 1351.5 L1106.3 1351.6 L1107.3 1351.6 L1108.3 1351.6 L1109.3 1351.6 L1110.3 1351.4 L1111.3 1351.3 L1112.3 1351.6 L1113.3 1352.0 L1114.3 1352.1 L1115.3 1352.0 L1116.3 1351.9 L1117.3 1352.0 L1118.3 1352.0 L1119.3 1351.9 L1120.3 1351.5 L1121.3 1351.2 L1122.3 1351.2 L1123.3 1351.2 L1124.3 1351.1 L1125.3 1350.8 L1126.3 1350.6 L1127.3 1350.5 L1128.3 1350.3 L1129.3 1349.5 L1130.3 1347.7 L1131.3 1345.0 L1132.3 1341.1 L1133.3 1336.2 L1134.3 1331.4 L1135.3 1328.8 L1136.3 1329.1 L1137.3 1331.2 L1138.3 1334.3 L1139.3 1337.2 L1140.3 1339.5 L1141.3 1341.0 L1142.3 1341.8 L1143.3 1342.0 L1144.3 1342.2 L1145.3 1342.6 L1146.3 1343.0 L1147.3 1343.8 L1148.3 1344.8 L1149.3 1345.6 L1150.3 1346.2 L1151.3 1346.8 L1152.3 1347.6 L1153.3 1348.3 L1154.3 1348.9 L1155.3 1349.1 L1156.3 1349.3 L1157.3 1349.7 L1158.3 1350.0 L1159.3 1350.2 L1160.3 1350.7 L1161.3 1351.0 L1162.3 1351.1 L1163.3 1351.1 L1164.3 1351.1 L1165.3 1351.0 L1166.3 1351.0 L1167.3 1351.3 L1168.3 1351.7 L1169.3 1351.8 L1170.3 1351.7 L1171.3 1351.6 L1172.3 1351.7 L1173.3 1351.8 L1174.3 1351.7 L1175.3 1351.4 L1176.3 1351.2 L1177.3 1351.4 L1178.3 1351.8 L1179.3 1351.7 L1180.3 1351.4 L1181.3 1351.2 L1182.3 1351.4 L1183.3 1351.7 L1184.3 1351.7 L1185.3 1351.5 L1186.3 1351.4 L1187.3 1351.3 L1188.3 1351.3 L1189.3 1351.3 L1190.3 1351.4 L1191.3 1351.4 L1192.3 1351.5 L1193.3 1351.7 L1194.3 1351.7 L1195.3 1351.4 L1196.3 1351.2 L1197.3 1351.2 L1198.3 1351.2 L1199.3 1351.2 L1200.3 1351.4 L1201.3 1351.6 L1202.3 1351.5 L1203.3 1351.4 L1204.3 1351.5 L1205.3 1351.4 L1206.3 1351.4 L1207.3 1351.5 L1208.3 1351.6 L1209.3 1351.6 L1210.3 1351.6 L1211.3 1351.6 L1212.3 1351.7 L1213.3 1351.8 L1214.3 1351.8 L1215.3 1351.9 L1216.3 1351.9 L1217.3 1351.9 L1218.3 1351.9 L1219.3 1352.0 L1220.3 1352.2 L1221.3 1352.3 L1222.3 1352.2 L1223.3 1351.9 L1224.3 1351.9 L1225.3 1352.0 L1226.3 1352.0 L1227.3 1351.9 L1228.3 1351.7 L1229.3 1351.6 L1230.3 1351.7 L1231.3 1351.7 L1232.3 1351.6 L1233.3 1351.4 L1234.3 1351.3 L1235.3 1351.4 L1236.3 1351.4 L1237.3 1351.3 L1238.3 1351.2 L1239.3 1351.2 L1240.3 1351.5 L1241.3 1351.6 L1242.3 1351.6 L1243.3 1351.5 L1244.3 1351.4 L1245.3 1351.2 L1246.3 1351.1 L1247.3 1351.2 L1248.3 1351.3 L1249.3 1351.4 L1250.3 1351.6 L1251.3 1351.7 L1252.3 1351.5 L1253.3 1351.1 L1254.3 1351.1 L1255.3 1351.4 L1256.3 1351.6 L1257.3 1351.4 L1258.3 1351.2 L1259.3 1351.1 L1260.3 1351.0 L1261.3 1350.9 L1262.3 1350.8 L1263.3 1350.7 L1264.3 1350.4 L1265.3 1349.9 L1266.3 1349.5 L1267.3 1349.3 L1268.3 1349.1 L1269.3 1348.9 L1270.3 1348.9 L1271.3 1348.9 L1272.3 1349.0 L1273.3 1349.3 L1274.3 1349.4 L1275.3 1349.3 L1276.3 1349.3 L1277.3 1349.7 L1278.3 1350.2 L1279.3 1350.4 L1280.3 1350.5 L1281.3 1350.7 L1282.3 1350.8 L1283.3 1350.9 L1284.3 1351.0 L1285.3 1351.0 L1286.3 1351.0 L1287.3 1351.0 L1288.3 1351.0 L1289.3 1351.0 L1290.3 1351.0 L1291.3 1350.9 L1292.3 1350.9 L1293.3 1351.0 L1294.3 1351.0 L1295.3 1351.0 L1296.3 1351.1 L1297.3 1351.3 L1298.3 1351.6 L1299.3 1351.7 L1300.3 1351.5 L1301.3 1351.4 L1302.3 1351.4 L1303.3 1351.4 L1304.3 1351.5 L1305.3 1351.5 L1306.3 1351.5 L1307.3 1351.8 L1308.3 1352.1 L1309.3 1352.3 L1310.3 1352.3 L1311.3 1352.3 L1312.3 1352.3 L1313.3 1352.2 L1314.3 1352.2 L1315.3 1352.1 L1316.3 1352.0 L1317.3 1352.0 L1318.3 1351.9 L1319.3 1351.9 L1320.3 1352.0 L1321.3 1352.0 L1322.3 1352.0 L1323.3 1352.0 L1324.3 1352.0 L1325.3 1351.8 L1326.3 1351.7 L1327.3 1351.8 L1328.3 1351.9 L1329.3 1351.9 L1330.3 1351.7 L1331.3 1351.7 L1332.3 1351.8 L1333.3 1352.1 L1334.3 1352.1 L1335.3 1352.1 L1336.3 1352.1 L1337.3 1351.9 L1338.3 1351.7 L1339.3 1351.7 L1340.3 1351.5 L1341.3 1351.4 L1342.3 1351.6 L1343.3 1352.0 L1344.3 1352.0 L1345.3 1351.7 L1346.3 1351.5 L1347.3 1351.5 L1348.3 1351.6 L1349.3 1351.6 L1350.3 1351.4 L1351.3 1351.4 L1352.3 1351.5 L1353.3 1351.7 L1354.3 1351.7 L1355.3 1351.8 L1356.3 1351.8 L1357.3 1351.9 L1358.3 1351.9 L1359.3 1351.9 L1360.3 1351.7 L1361.3 1351.7 L1362.3 1351.7 L1363.3 1351.9 L1364.3 1351.8 L1365.3 1351.6 L1366.3 1351.4 L1367.3 1351.5 L1368.3 1351.6 L1369.3 1351.6 L1370.3 1351.4 L1371.3 1351.4 L1372.3 1351.4 L1373.3 1351.5 L1374.3 1351.4 L1375.3 1351.2 L1376.3 1351.1 L1377.3 1351.0 L1378.3 1351.0 L1379.3 1350.9 L1380.3 1351.0 L1381.3 1351.0 L1382.3 1350.9 L1383.3 1350.8 L1384.3 1350.8 L1385.3 1350.8 L1386.3 1350.8 L1387.3 1350.7 L1388.3 1350.5 L1389.3 1350.1 L1390.3 1349.5 L1391.3 1348.4 L1392.3 1346.2 L1393.3 1343.0 L1394.3 1339.1 L1395.3 1335.3 L1396.3 1333.1 L1397.3 1333.3 L1398.3 1334.7 L1399.3 1336.7 L1400.3 1338.5 L1401.3 1340.1 L1402.3 1341.3 L1403.3 1342.0 L1404.3 1342.3 L1405.3 1342.7 L1406.3 1342.9 L1407.3 1343.0 L1408.3 1343.1 L1409.3 1343.7 L1410.3 1344.7 L1411.3 1345.7 L1412.3 1346.5 L1413.3 1347.3 L1414.3 1348.0 L1415.3 1348.5 L1416.3 1349.0 L1417.3 1349.7 L1418.3 1350.5 L1419.3 1350.9 L1420.3 1351.2 L1421.3 1351.4 L1422.3 1351.5 L1423.3 1351.5 L1424.3 1351.6 L1425.3 1351.7 L1426.3 1351.7 L1427.3 1351.8 L1428.3 1351.8 L1429.3 1351.8 L1430.3 1351.5 L1431.3 1351.3 L1432.3 1351.4 L1433.3 1351.6 L1434.3 1351.6 L1435.3 1351.6 L1436.3 1351.6 L1437.3 1351.7 L1438.3 1351.9 L1439.3 1351.9 L1440.3 1351.9 L1441.3 1351.9 L1442.3 1352.0 L1443.3 1352.0 L1444.3 1352.0 L1445.3 1351.9 L1446.3 1351.9 L1447.3 1352.0 L1448.3 1352.2 L1449.3 1352.2 L1450.3 1352.2 L1451.3 1352.1 L1452.3 1352.2 L1453.3 1352.2 L1454.3 1352.2 L1455.3 1352.0 L1456.3 1351.9 L1457.3 1351.8 L1458.3 1351.8 L1459.3 1351.8 L1460.3 1351.8 L1461.3 1351.8 L1462.3 1351.9 L1463.3 1352.0 L1464.3 1351.9 L1465.3 1351.8 L1466.3 1351.7 L1467.3 1351.9 L1468.3 1352.2 L1469.3 1352.2 L1470.3 1352.0 L1471.3 1351.9 L1472.3 1351.9 L1473.3 1351.9 L1474.3 1351.8 L1475.3 1351.8 L1476.3 1351.7 L1477.3 1351.7 L1478.3 1351.7 L1479.3 1351.7 L1480.3 1351.6 L1481.3 1351.5 L1482.3 1351.3 L1483.3 1351.1 L1484.3 1351.1 L1485.3 1351.5 L1486.3 1351.7 L1487.3 1351.7 L1488.3 1351.7 L1489.3 1351.6 L1490.3 1351.6 L1491.3 1351.5 L1492.3 1351.5 L1493.3 1351.6 L1494.3 1351.6 L1495.3 1351.7 L1496.3 1351.8 L1497.3 1351.6 L1498.3 1351.4 L1499.3 1351.5 L1500.3 1351.8 L1501.3 1352.0 L1502.3 1351.9 L1503.3 1351.7 L1504.3 1351.7 L1505.3 1351.7 L1506.3 1351.6 L1507.3 1351.7 L1508.3 1351.8 L1509.3 1351.9 L1510.3 1352.1 L1511.3 1352.2 L1512.3 1352.1 L1513.3 1351.9 L1514.3 1351.8 L1515.3 1352.1 L1516.3 1352.2 L1517.3 1352.3 L1518.3 1352.3 L1519.3 1352.3 L1520.3 1352.1 L1521.3 1351.9 L1522.3 1351.9 L1523.3 1351.8 L1524.3 1351.8 L1525.3 1351.8 L1526.3 1351.8 L1527.3 1351.9 L1528.3 1351.9 L1529.3 1352.0 L1530.3 1352.0 L1531.3 1352.0 L1532.3 1352.0 L1533.3 1351.9 L1534.3 1351.9 L1535.3 1351.9 L1536.3 1352.0 L1537.3 1351.8 L1538.3 1351.6 L1539.3 1351.6 L1540.3 1351.6 L1541.3 1351.7 L1542.3 1351.8 L1543.3 1351.8 L1544.3 1351.9 L1545.3 1352.2 L1546.3 1352.3 L1547.3 1352.2 L1548.3 1352.1 L1549.3 1352.1 L1550.3 1352.2 L1551.3 1352.3 L1552.3 1352.2 L1553.3 1352.0 L1554.3 1352.0 L1555.3 1352.0 L1556.3 1352.0 L1557.3 1352.1 L1558.3 1352.1 L1559.3 1352.2 L1560.3 1352.3 L1561.3 1352.4 L1562.3 1352.4 L1563.3 1352.4 L1564.3 1352.4 L1565.3 1352.3 L1566.3 1352.3 L1567.3 1352.1 L1568.3 1351.9 L1569.3 1351.9 L1570.3 1351.9 L1571.3 1351.9 L1572.3 1351.9 L1573.3 1351.8 L1574.3 1351.8 L1575.3 1351.7 L1576.3 1351.7 L1577.3 1351.6 L1578.3 1351.4 L1579.3 1351.4 L1580.3 1351.7 L1581.3 1351.9 L1582.3 1351.7 L1583.3 1351.4 L1584.3 1351.4 L1585.3 1351.7 L1586.3 1352.0 L1587.3 1352.0 L1588.3 1352.0 L1589.3 1351.9 L1590.3 1351.5 L1591.3 1351.3 L1592.3 1351.4 L1593.3 1351.6 L1594.3 1351.7 L1595.3 1351.9 L1596.3 1352.0 L1597.3 1352.1 L1598.3 1352.2 L1599.3 1352.2 L1600.3 1351.9 L1601.3 1351.8 L1602.3 1351.8 L1603.3 1351.7 L1604.3 1351.7 L1605.3 1351.6 L1606.3 1351.6 L1607.3 1351.8 L1608.3 1352.1 L1609.3 1352.1 L1610.3 1351.7 L1611.3 1351.5 L1612.3 1351.5 L1613.3 1351.6 L1614.3 1351.5 L1615.3 1351.2 L1616.3 1350.9 L1617.3 1350.8 L1618.3 1350.7 L1619.3 1350.5 L1620.3 1350.3 L1621.3 1350.0 L1622.3 1349.3 L1623.3 1348.4 L1624.3 1347.8 L1625.3 1347.5 L1626.3 1347.1 L1627.3 1346.4 L1628.3 1345.8 L1629.3 1345.4 L1630.3 1345.5 L1631.3 1345.6 L1632.3 1345.8 L1633.3 1346.1 L1634.3 1346.5 L1635.3 1346.8 L1636.3 1347.3 L1637.3 1348.0 L1638.3 1348.9 L1639.3 1349.4 L1640.3 1349.7 L1641.3 1350.1 L1642.3 1350.3 L1643.3 1350.5 L1644.3 1350.7 L1645.3 1350.9 L1646.3 1351.1 L1647.3 1351.4 L1648.3 1351.8 L1649.3 1351.9 L1650.3 1352.0 L1651.3 1352.0 L1652.3 1352.0 L1653.3 1352.0 L1654.3 1352.0 L1655.3 1352.0 L1656.3 1352.0 L1657.3 1352.0 L1658.3 1352.1 L1659.3 1352.1 L1660.3 1352.1 L1661.3 1352.1 L1662.3 1352.2 L1663.3 1352.4 L1664.3 1352.4 L1665.3 1352.0 L1666.3 1351.7 L1667.3 1351.9 L1668.3 1352.2 L1669.3 1352.2 L1670.3 1352.2 L1671.3 1352.2 L1672.3 1352.0 L1673.3 1351.6 L1674.3 1351.6 L1675.3 1352.0 L1676.3 1352.2 L1677.3 1352.1 L1678.3 1352.0 L1679.3 1352.0 L1680.3 1352.1 L1681.3 1352.1 L1682.3 1351.9 L1683.3 1351.7 L1684.3 1351.7 L1685.3 1351.7 L1686.3 1351.7 L1687.3 1351.8 L1688.3 1351.8 L1689.3 1351.9 L1690.3 1352.2 L1691.3 1352.4 L1692.3 1352.3 L1693.3 1352.1 L1694.3 1352.1 L1695.3 1352.0 L1696.3 1351.9 L1697.3 1352.0 L1698.3 1352.0 L1699.3 1352.0 L1700.3 1352.0 L1701.3 1351.9 L1702.3 1351.8 L1703.3 1351.7 L1704.3 1351.7 L1705.3 1351.7 L1706.3 1351.7 L1707.3 1351.9 L1708.3 1352.2 L1709.3 1352.2 L1710.3 1351.9 L1711.3 1351.7 L1712.3 1351.9 L1713.3 1352.1 L1714.3 1352.1 L1715.3 1351.7 L1716.3 1351.5 L1717.3 1351.5 L1718.3 1351.4 L1719.3 1351.4 L1720.3 1351.4 L1721.3 1351.4 L1722.3 1351.3 L1723.3 1351.1 L1724.3 1351.0 L1725.3 1351.0 L1726.3 1350.9 L1727.3 1351.0 L1728.3 1351.1 L1729.3 1351.0 L1730.3 1350.9 L1731.3 1350.7 L1732.3 1350.6 L1733.3 1350.4 L1734.3 1350.3 L1735.3 1350.2 L1736.3 1350.1 L1737.3 1350.2 L1738.3 1350.3 L1739.3 1350.4 L1740.3 1350.6 L1741.3 1350.7 L1742.3 1350.8 L1743.3 1350.8 L1744.3 1350.9 L1745.3 1351.2 L1746.3 1351.4 L1747.3 1351.4 L1748.3 1351.3 L1749.3 1351.4 L1750.3 1351.8 L1751.3 1352.1 L1752.3 1352.2 L1753.3 1352.1 L1754.3 1352.2 L1755.3 1352.3 L1756.3 1352.5 L1757.3 1352.4 L1758.3 1352.4 L1759.3 1352.4 L1760.3 1352.2 L1761.3 1352.1 L1762.3 1352.0 L1763.3 1351.9 L1764.3 1351.9 L1765.3 1352.3 L1766.3 1352.5 L1767.3 1352.2 L1768.3 1351.9 L1769.3 1351.8 L1770.3 1351.9 L1771.3 1352.0 L1772.3 1352.0 L1773.3 1351.9 L1774.3 1351.9 L1775.3 1351.9 L1776.3 1351.8 L1777.3 1352.0 L1778.3 1352.2 L1779.3 1352.2 L1780.3 1352.3 L1781.3 1352.4 L1782.3 1352.2 L1783.3 1352.0 L1784.3 1351.9 L1785.3 1352.1 L1786.3 1352.3 L1787.3 1352.2 L1788.3 1352.1 L1789.3 1352.1 L1790.3 1352.2 L1791.3 1352.3 L1792.3 1352.3 L1793.3 1352.2 L1794.3 1352.2 L1795.3 1352.1 L1796.3 1352.0 L1797.3 1352.0 L1798.3 1352.0 L1799.3 1352.0 L1800.3 1352.0 L1801.3 1352.0 L1802.3 1352.2 L1803.3 1352.5 L1804.3 1352.5 L1805.3 1352.3 L1806.3 1352.1 L1807.3 1352.0 L1808.3 1351.8 L1809.3 1351.8 L1810.3 1352.1 L1811.3 1352.2 L1812.3 1352.2 L1813.3 1352.2 L1814.3 1352.1 L1815.3 1351.8 L1816.3 1351.6 L1817.3 1351.5 L1818.3 1351.3 L1819.3 1351.3 L1820.3 1351.3 L1821.3 1351.3 L1822.3 1351.2 L1823.3 1351.1 L1824.3 1351.1 L1825.3 1351.2 L1826.3 1351.2 L1827.3 1351.1 L1828.3 1350.9 L1829.3 1350.9 L1830.3 1350.8 L1831.3 1350.7 L1832.3 1350.6 L1833.3 1350.4 L1834.3 1350.2 L1835.3 1350.1 L1836.3 1349.9 L1837.3 1349.6 L1838.3 1349.4 L1839.3 1349.0 L1840.3 1348.6 L1841.3 1348.2 L1842.3 1347.8 L1843.3 1347.4 L1844.3 1347.3 L1845.3 1347.3 L1846.3 1347.4 L1847.3 1347.6 L1848.3 1347.8 L1849.3 1348.1 L1850.3 1348.3 L1851.3 1348.6 L1852.3 1348.9 L1853.3 1349.2 L1854.3 1349.5 L1855.3 1349.7 L1856.3 1349.9 L1857.3 1350.2 L1858.3 1350.5 L1859.3 1350.8 L1860.3 1351.3 L1861.3 1351.6 L1862.3 1351.5 L1863.3 1351.2 L1864.3 1351.3 L1865.3 1351.5 L1866.3 1351.7 L1867.3 1351.8 L1868.3 1351.9 L1869.3 1351.9 L1870.3 1352.0 L1871.3 1352.1 L1872.3 1352.0 L1873.3 1351.7 L1874.3 1351.7 L1875.3 1351.8 L1876.3 1351.8 L1877.3 1351.8 L1878.3 1351.9 L1879.3 1351.9 L1880.3 1352.0 L1881.3 1352.1 L1882.3 1352.1 L1883.3 1352.2 L1884.3 1352.3 L1885.3 1352.5 L1886.3 1352.7 L1887.3 1352.7 L1888.3 1352.7 L1889.3 1352.7 L1890.3 1352.7 L1891.3 1352.8 L1892.3 1352.5 L1893.3 1352.2 L1894.3 1352.1 L1895.3 1352.1 L1896.3 1352.1 L1897.3 1352.3 L1898.3 1352.6 L1899.3 1352.6 L1900.3 1352.7 L1901.3 1352.7 L1902.3 1352.6 L1903.3 1352.3 L1904.3 1352.3 L1905.3 1352.3 L1906.3 1352.3 L1907.3 1352.1 L1908.3 1351.8 L1909.3 1351.7 L1910.3 1351.9 L1911.3 1351.9 L1912.3 1352.0 L1913.3 1352.2 L1914.3 1352.2 L1915.3 1352.2 L1916.3 1352.1 L1917.3 1352.1 L1918.3 1352.1 L1919.3 1352.1 L1920.3 1352.1 L1921.3 1352.1 L1922.3 1351.9 L1923.3 1351.6 L1924.3 1351.5 L1925.3 1351.5 L1926.3 1351.5 L1927.3 1351.5 L1928.3 1351.5 L1929.3 1351.5 L1930.3 1351.7 L1931.3 1351.8 L1932.3 1351.9 L1933.3 1351.9 L1934.3 1351.9 L1935.3 1352.0 L1936.3 1352.1 L1937.3 1352.0 L1938.3 1351.8 L1939.3 1351.7 L1940.3 1351.6 L1941.3 1351.5 L1942.3 1351.5 L1943.3 1351.4 L1944.3 1351.3 L1945.3 1351.1 L1946.3 1350.9 L1947.3 1350.9 L1948.3 1350.9 L1949.3 1350.8 L1950.3 1350.6 L1951.3 1350.4 L1952.3 1350.7 L1953.3 1351.0 L1954.3 1351.1 L1955.3 1350.9 L1956.3 1350.9 L1957.3 1351.1 L1958.3 1351.5 L1959.3 1351.6 L1960.3 1351.6 L1961.3 1351.6 L1962.3 1351.6 L1963.3 1351.5 L1964.3 1351.5 L1965.3 1351.5 L1966.3 1351.5 L1967.3 1351.6 L1968.3 1351.7 L1969.3 1351.8 L1970.3 1352.0 L1971.3 1352.1 L1972.3 1352.2 L1973.3 1352.2 L1974.3 1352.2 L1975.3 1352.0 L1976.3 1351.9 L1977.3 1351.9 L1978.3 1352.0 L1979.3 1352.0 L1980.3 1352.3 L1981.3 1352.4 L1982.3 1352.5 L1983.3 1352.6 L1984.3 1352.6 L1985.3 1352.5 L1986.3 1352.5 L1987.3 1352.5 L1988.3 1352.4 L1989.3 1352.5 L1990.3 1352.7 L1991.3 1352.8 L1992.3 1352.6 L1993.3 1352.3 L1994.3 1352.3 L1995.3 1352.4 L1996.3 1352.5 L1997.3 1352.5 L1998.3 1352.6 L1999.3 1352.6 L2000.3 1352.8 L2001.3 1352.9 L2002.3 1352.8 L2003.3 1352.6 L2004.3 1352.5 L2005.3 1352.6 L2006.3 1352.6 L2007.3 1352.5 L2008.3 1352.2 L2009.3 1352.2 L2010.3 1352.0 L2011.3 1351.9 L2012.3 1351.9 L2013.3 1351.9 L2014.3 1351.9 L2015.3 1352.2 L2016.3 1352.4 L2017.3 1352.3 L2018.3 1352.1 L2019.3 1352.1 L2020.3 1351.9 L2021.3 1351.8 L2022.3 1351.7 L2023.3 1351.6 L2024.3 1351.6 L2025.3 1351.8 L2026.3 1352.0 L2027.3 1352.0 L2028.3 1352.1 L2029.3 1352.1 L2030.3 1351.9 L2031.3 1351.9 L2032.3 1351.8 L2033.3 1351.7 L2034.3 1351.7 L2035.3 1351.8 L2036.3 1351.9 L2037.3 1351.9 L2038.3 1351.9 L2039.3 1351.8 L2040.3 1351.4 L2041.3 1351.1 L2042.3 1351.0 L2043.3 1350.8 L2044.3 1350.7 L2045.3 1350.7 L2046.3 1350.7 L2047.3 1350.6 L2048.3 1350.5 L2049.3 1350.4 L2050.3 1350.4 L2051.3 1350.4 L2052.3 1350.2 L2053.3 1350.0 L2054.3 1350.0 L2055.3 1350.2 L2056.3 1350.4 L2057.3 1350.4 L2058.3 1350.4 L2059.3 1350.5 L2060.3 1350.4 L2061.3 1350.4 L2062.3 1350.5 L2063.3 1350.4 L2064.3 1350.6 L2065.3 1351.0 L2066.3 1351.4 L2067.3 1351.3 L2068.3 1351.1 L2069.3 1351.2 L2070.3 1351.6 L2071.3 1351.8 L2072.3 1351.7 L2073.3 1351.6 L2074.3 1351.6 L2075.3 1351.7 L2076.3 1351.8 L2077.3 1352.1 L2078.3 1352.4 L2079.3 1352.5 L2080.3 1352.3 L2081.3 1352.3 L2082.3 1352.5 L2083.3 1352.8 L2084.3 1352.9 L2085.3 1352.7 L2086.3 1352.6 L2087.3 1352.6 L2088.3 1352.5 L2089.3 1352.5 L2090.3 1352.5 L2091.3 1352.5 L2092.3 1352.6 L2093.3 1352.6 L2094.3 1352.7 L2095.3 1352.8 L2096.3 1352.8 L2097.3 1352.9 L2098.3 1353.0 L2099.3 1352.9 L2100.3 1352.5 L2101.3 1352.3 L2102.3 1352.3 L2103.3 1352.4 L2104.3 1352.4 L2105.3 1352.2 L2106.3 1352.2 L2107.3 1352.3 L2108.3 1352.7 L2109.3 1352.6 L2110.3 1352.2 L2111.3 1352.0 L2112.3 1352.0 L2113.3 1351.9" fill="none" stroke="#ff0000" stroke-width="8.2" stroke-linejoin="round" stroke-linecap="butt"/>
<path d="M296.3 1235.8 L297.3 1235.7 L298.3 1235.7 L299.3 1235.8 L300.3 1236.0 L301.3 1236.2 L302.3 1236.1 L303.3 1235.9 L304.3 1235.9 L305.3 1236.2 L306.3 1236.3 L307.3 1236.3 L308.3 1236.3 L309.3 1236.3 L310.3 1236.2 L311.3 1236.1 L312.3 1236.3 L313.3 1236.5 L314.3 1236.5 L315.3 1236.3 L316.3 1236.2 L317.3 1236.3 L318.3 1236.5 L319.3 1236.5 L320.3 1236.3 L321.3 1236.2 L322.3 1236.2 L323.3 1236.1 L324.3 1236.2 L325.3 1236.3 L326.3 1236.3 L327.3 1236.4 L328.3 1236.6 L329.3 1236.5 L330.3 1236.2 L331.3 1236.0 L332.3 1236.0 L333.3 1236.0 L334.3 1236.0 L335.3 1236.2 L336.3 1236.3 L337.3 1236.4 L338.3 1236.5 L339.3 1236.5 L340.3 1236.4 L341.3 1236.3 L342.3 1236.2 L343.3 1236.2 L344.3 1236.2 L345.3 1236.5 L346.3 1236.7 L347.3 1236.4 L348.3 1236.0 L349.3 1236.1 L350.3 1236.4 L351.3 1236.7 L352.3 1236.6 L353.3 1236.3 L354.3 1236.3 L355.3 1236.2 L356.3 1236.2 L357.3 1236.2 L358.3 1236.2 L359.3 1236.2 L360.3 1236.3 L361.3 1236.4 L362.3 1236.5 L363.3 1236.7 L364.3 1236.7 L365.3 1236.4 L366.3 1236.2 L367.3 1236.3 L368.3 1236.4 L369.3 1236.4 L370.3 1236.4 L371.3 1236.4 L372.3 1236.3 L373.3 1236.1 L374.3 1236.1 L375.3 1236.1 L376.3 1236.1 L377.3 1236.0 L378.3 1235.7 L379.3 1235.6 L380.3 1235.6 L381.3 1235.6 L382.3 1235.6 L383.3 1235.6 L384.3 1235.7 L385.3 1235.9 L386.3 1236.0 L387.3 1235.9 L388.3 1235.8 L389.3 1235.8 L390.3 1235.8 L391.3 1235.7 L392.3 1235.8 L393.3 1236.0 L394.3 1236.0 L395.3 1236.0 L396.3 1236.0 L397.3 1236.0 L398.3 1235.9 L399.3 1236.0 L400.3 1236.3 L401.3 1236.4 L402.3 1236.5 L403.3 1236.5 L404.3 1236.4 L405.3 1236.3 L406.3 1236.2 L407.3 1236.3 L408.3 1236.5 L409.3 1236.5 L410.3 1236.5 L411.3 1236.5 L412.3 1236.6 L413.3 1236.8 L414.3 1236.8 L415.3 1236.7 L416.3 1236.7 L417.3 1236.5 L418.3 1236.3 L419.3 1236.3 L420.3 1236.6 L421.3 1236.8 L422.3 1236.5 L423.3 1236.1 L424.3 1236.1 L425.3 1236.2 L426.3 1236.2 L427.3 1236.3 L428.3 1236.5 L429.3 1236.4 L430.3 1236.1 L431.3 1236.0 L432.3 1236.1 L433.3 1236.2 L434.3 1236.2 L435.3 1236.0 L436.3 1235.9 L437.3 1236.1 L438.3 1236.4 L439.3 1236.4 L440.3 1236.5 L441.3 1236.6 L442.3 1236.5 L443.3 1236.5 L444.3 1236.5 L445.3 1236.7 L446.3 1236.8 L447.3 1236.7 L448.3 1236.5 L449.3 1236.5 L450.3 1236.7 L451.3 1236.8 L452.3 1236.8 L453.3 1236.8 L454.3 1236.8 L455.3 1236.8 L456.3 1236.8 L457.3 1236.7 L458.3 1236.6 L459.3 1236.6 L460.3 1236.7 L461.3 1236.8 L462.3 1236.7 L463.3 1236.6 L464.3 1236.4 L465.3 1235.9 L466.3 1235.6 L467.3 1235.4 L468.3 1235.3 L469.3 1235.1 L470.3 1234.8 L471.3 1234.6 L472.3 1234.9 L473.3 1235.3 L474.3 1235.5 L475.3 1235.7 L476.3 1235.8 L477.3 1236.0 L478.3 1236.2 L479.3 1236.3 L480.3 1236.2 L481.3 1236.2 L482.3 1236.1 L483.3 1235.8 L484.3 1235.8 L485.3 1235.8 L486.3 1235.9 L487.3 1236.0 L488.3 1236.1 L489.3 1236.1 L490.3 1235.8 L491.3 1235.7 L492.3 1235.8 L493.3 1236.0 L494.3 1236.1 L495.3 1236.0 L496.3 1235.9 L497.3 1236.0 L498.3 1236.0 L499.3 1236.0 L500.3 1236.0 L501.3 1236.0 L502.3 1236.2 L503.3 1236.6 L504.3 1236.6 L505.3 1236.3 L506.3 1236.1 L507.3 1236.2 L508.3 1236.2 L509.3 1236.3 L510.3 1236.3 L511.3 1236.4 L512.3 1236.5 L513.3 1236.7 L514.3 1236.6 L515.3 1236.3 L516.3 1236.0 L517.3 1236.1 L518.3 1236.3 L519.3 1236.3 L520.3 1236.3 L521.3 1236.3 L522.3 1236.4 L523.3 1236.5 L524.3 1236.5 L525.3 1236.5 L526.3 1236.4 L527.3 1236.5 L528.3 1236.5 L529.3 1236.4 L530.3 1236.2 L531.3 1236.0 L532.3 1236.1 L533.3 1236.1 L534.3 1236.2 L535.3 1236.2 L536.3 1236.2 L537.3 1236.4 L538.3 1236.6 L539.3 1236.7 L540.3 1236.8 L541.3 1236.8 L542.3 1236.6 L543.3 1236.3 L544.3 1236.3 L545.3 1236.4 L546.3 1236.4 L547.3 1236.4 L548.3 1236.5 L549.3 1236.5 L550.3 1236.6 L551.3 1236.6 L552.3 1236.7 L553.3 1236.8 L554.3 1236.8 L555.3 1236.9 L556.3 1236.9 L557.3 1236.8 L558.3 1236.7 L559.3 1236.6 L560.3 1236.5 L561.3 1236.4 L562.3 1236.4 L563.3 1236.6 L564.3 1236.6 L565.3 1236.5 L566.3 1236.5 L567.3 1236.5 L568.3 1236.5 L569.3 1236.5 L570.3 1236.6 L571.3 1236.7 L572.3 1236.5 L573.3 1236.4 L574.3 1236.3 L575.3 1236.1 L576.3 1236.0 L577.3 1236.0 L578.3 1235.9 L579.3 1235.8 L580.3 1235.7 L581.3 1235.6 L582.3 1235.3 L583.3 1234.7 L584.3 1234.1 L585.3 1233.4 L586.3 1231.5 L587.3 1227.9 L588.3 1222.6 L589.3 1216.6 L590.3 1212.3 L591.3 1212.1 L592.3 1215.5 L593.3 1220.4 L594.3 1225.3 L595.3 1229.1 L596.3 1231.8 L597.3 1233.5 L598.3 1234.5 L599.3 1235.0 L600.3 1235.2 L601.3 1235.4 L602.3 1235.7 L603.3 1236.0 L604.3 1236.1 L605.3 1235.9 L606.3 1235.8 L607.3 1235.8 L608.3 1235.8 L609.3 1235.9 L610.3 1235.9 L611.3 1236.0 L612.3 1236.0 L613.3 1235.9 L614.3 1235.9 L615.3 1236.0 L616.3 1236.0 L617.3 1235.9 L618.3 1235.8 L619.3 1235.7 L620.3 1235.7 L621.3 1235.7 L622.3 1235.7 L623.3 1235.8 L624.3 1235.8 L625.3 1235.8 L626.3 1235.7 L627.3 1235.8 L628.3 1235.9 L629.3 1236.0 L630.3 1235.8 L631.3 1235.7 L632.3 1236.0 L633.3 1236.4 L634.3 1236.5 L635.3 1236.4 L636.3 1236.4 L637.3 1236.3 L638.3 1236.1 L639.3 1236.1 L640.3 1236.2 L641.3 1236.2 L642.3 1236.3 L643.3 1236.3 L644.3 1236.2 L645.3 1236.2 L646.3 1236.0 L647.3 1235.8 L648.3 1235.5 L649.3 1235.4 L650.3 1235.6 L651.3 1235.7 L652.3 1235.7 L653.3 1235.9 L654.3 1236.0 L655.3 1235.9 L656.3 1236.0 L657.3 1236.2 L658.3 1236.3 L659.3 1236.4 L660.3 1236.3 L661.3 1236.3 L662.3 1236.3 L663.3 1236.3 L664.3 1236.3 L665.3 1236.4 L666.3 1236.5 L667.3 1236.4 L668.3 1236.4 L669.3 1236.4 L670.3 1236.6 L671.3 1236.8 L672.3 1236.6 L673.3 1236.2 L674.3 1236.2 L675.3 1236.1 L676.3 1236.0 L677.3 1236.3 L678.3 1236.7 L679.3 1236.7 L680.3 1236.6 L681.3 1236.5 L682.3 1236.4 L683.3 1236.2 L684.3 1236.2 L685.3 1236.4 L686.3 1236.6 L687.3 1236.4 L688.3 1236.2 L689.3 1236.3 L690.3 1236.5 L691.3 1236.7 L692.3 1236.8 L693.3 1237.0 L694.3 1237.1 L695.3 1237.0 L696.3 1237.0 L697.3 1237.0 L698.3 1236.9 L699.3 1236.8 L700.3 1236.6 L701.3 1236.5 L702.3 1236.5 L703.3 1236.6 L704.3 1236.5 L705.3 1236.4 L706.3 1236.3 L707.3 1236.5 L708.3 1236.7 L709.3 1236.7 L710.3 1236.6 L711.3 1236.4 L712.3 1236.5 L713.3 1236.5 L714.3 1236.5 L715.3 1236.3 L716.3 1236.1 L717.3 1236.0 L718.3 1236.0 L719.3 1236.0 L720.3 1236.2 L721.3 1236.4 L722.3 1236.4 L723.3 1236.5 L724.3 1236.5 L725.3 1236.4 L726.3 1236.4 L727.3 1236.4 L728.3 1236.4 L729.3 1236.4 L730.3 1236.4 L731.3 1236.4 L732.3 1236.4 L733.3 1236.4 L734.3 1236.4 L735.3 1236.2 L736.3 1236.1 L737.3 1236.3 L738.3 1236.4 L739.3 1236.5 L740.3 1236.4 L741.3 1236.4 L742.3 1236.4 L743.3 1236.3 L744.3 1236.3 L745.3 1236.3 L746.3 1236.3 L747.3 1236.4 L748.3 1236.5 L749.3 1236.6 L750.3 1236.6 L751.3 1236.5 L752.3 1236.7 L753.3 1236.8 L754.3 1236.9 L755.3 1237.0 L756.3 1237.0 L757.3 1236.9 L758.3 1236.6 L759.3 1236.6 L760.3 1236.8 L761.3 1236.9 L762.3 1236.9 L763.3 1236.9 L764.3 1236.8 L765.3 1236.8 L766.3 1236.7 L767.3 1236.5 L768.3 1236.3 L769.3 1236.2 L770.3 1236.1 L771.3 1236.0 L772.3 1236.0 L773.3 1236.0 L774.3 1236.0 L775.3 1235.9 L776.3 1235.9 L777.3 1235.9 L778.3 1235.9 L779.3 1235.9 L780.3 1236.1 L781.3 1236.2 L782.3 1236.3 L783.3 1236.4 L784.3 1236.4 L785.3 1236.3 L786.3 1236.3 L787.3 1236.1 L788.3 1235.9 L789.3 1235.8 L790.3 1235.8 L791.3 1235.8 L792.3 1235.7 L793.3 1235.7 L794.3 1235.5 L795.3 1235.0 L796.3 1234.6 L797.3 1234.4 L798.3 1234.4 L799.3 1234.1 L800.3 1233.7 L801.3 1233.2 L802.3 1232.4 L803.3 1231.4 L804.3 1230.2 L805.3 1228.6 L806.3 1226.4 L807.3 1223.0 L808.3 1217.2 L809.3 1205.9 L810.3 1183.1 L811.3 1141.7 L812.3 1081.1 L813.3 1020.1 L814.3 1004.9 L815.3 1039.9 L816.3 1093.4 L817.3 1142.3 L818.3 1177.7 L819.3 1199.7 L820.3 1212.3 L821.3 1219.2 L822.3 1223.1 L823.3 1225.5 L824.3 1227.3 L825.3 1228.8 L826.3 1229.9 L827.3 1230.9 L828.3 1231.9 L829.3 1232.6 L830.3 1233.0 L831.3 1233.3 L832.3 1233.6 L833.3 1233.6 L834.3 1233.9 L835.3 1234.1 L836.3 1234.3 L837.3 1234.5 L838.3 1234.7 L839.3 1234.9 L840.3 1235.4 L841.3 1235.8 L842.3 1235.8 L843.3 1235.9 L844.3 1235.9 L845.3 1235.7 L846.3 1235.6 L847.3 1235.9 L848.3 1236.2 L849.3 1236.3 L850.3 1236.4 L851.3 1236.5 L852.3 1236.4 L853.3 1236.3 L854.3 1236.3 L855.3 1236.2 L856.3 1236.1 L857.3 1236.1 L858.3 1236.2 L859.3 1236.2 L860.3 1236.0 L861.3 1235.9 L862.3 1235.9 L863.3 1235.8 L864.3 1235.9 L865.3 1236.3 L866.3 1236.6 L867.3 1236.5 L868.3 1236.4 L869.3 1236.4 L870.3 1236.4 L871.3 1236.3 L872.3 1236.5 L873.3 1236.7 L874.3 1236.7 L875.3 1236.5 L876.3 1236.4 L877.3 1236.6 L878.3 1236.8 L879.3 1236.9 L880.3 1236.9 L881.3 1237.0 L882.3 1236.8 L883.3 1236.6 L884.3 1236.6 L885.3 1236.7 L886.3 1236.7 L887.3 1236.7 L888.3 1236.8 L889.3 1236.8 L890.3 1236.8 L891.3 1236.8 L892.3 1236.9 L893.3 1237.1 L894.3 1237.1 L895.3 1236.9 L896.3 1236.8 L897.3 1236.9 L898.3 1236.9 L899.3 1236.9 L900.3 1236.7 L901.3 1236.6 L902.3 1236.8 L903.3 1237.1 L904.3 1237.1 L905.3 1236.8 L906.3 1236.6 L907.3 1236.6 L908.3 1236.6 L909.3 1236.6 L910.3 1236.6 L911.3 1236.6 L912.3 1236.7 L913.3 1236.8 L914.3 1236.7 L915.3 1236.5 L916.3 1236.3 L917.3 1236.5 L918.3 1236.7 L919.3 1236.7 L920.3 1236.5 L921.3 1236.4 L922.3 1236.4 L923.3 1236.4 L924.3 1236.4 L925.3 1236.4 L926.3 1236.4 L927.3 1236.3 L928.3 1236.1 L929.3 1236.1 L930.3 1236.3 L931.3 1236.5 L932.3 1236.4 L933.3 1236.3 L934.3 1236.3 L935.3 1236.2 L936.3 1236.2 L937.3 1236.4 L938.3 1236.7 L939.3 1236.7 L940.3 1236.3 L941.3 1235.9 L942.3 1235.8 L943.3 1235.6 L944.3 1235.3 L945.3 1235.1 L946.3 1234.9 L947.3 1234.8 L948.3 1234.9 L949.3 1235.1 L950.3 1235.3 L951.3 1235.6 L952.3 1235.9 L953.3 1236.1 L954.3 1236.3 L955.3 1236.3 L956.3 1236.4 L957.3 1236.4 L958.3 1236.5 L959.3 1236.5 L960.3 1236.2 L961.3 1235.9 L962.3 1236.1 L963.3 1236.2 L964.3 1236.2 L965.3 1236.1 L966.3 1236.0 L967.3 1236.0 L968.3 1236.0 L969.3 1236.0 L970.3 1236.2 L971.3 1236.3 L972.3 1236.2 L973.3 1236.0 L974.3 1235.9 L975.3 1235.9 L976.3 1235.7 L977.3 1235.5 L978.3 1235.2 L979.3 1234.6 L980.3 1233.4 L981.3 1231.4 L982.3 1228.3 L983.3 1223.9 L984.3 1218.7 L985.3 1213.3 L986.3 1208.7 L987.3 1206.4 L988.3 1207.3 L989.3 1210.8 L990.3 1215.7 L991.3 1220.8 L992.3 1225.5 L993.3 1229.3 L994.3 1231.9 L995.3 1233.6 L996.3 1234.7 L997.3 1235.4 L998.3 1235.8 L999.3 1236.0 L1000.3 1236.2 L1001.3 1236.3 L1002.3 1236.5 L1003.3 1236.7 L1004.3 1236.8 L1005.3 1236.7 L1006.3 1236.6 L1007.3 1236.7 L1008.3 1236.8 L1009.3 1236.8 L1010.3 1236.8 L1011.3 1236.9 L1012.3 1236.7 L1013.3 1236.4 L1014.3 1236.3 L1015.3 1236.5 L1016.3 1236.6 L1017.3 1236.7 L1018.3 1236.9 L1019.3 1236.9 L1020.3 1236.9 L1021.3 1236.9 L1022.3 1236.7 L1023.3 1236.4 L1024.3 1236.4 L1025.3 1236.4 L1026.3 1236.4 L1027.3 1236.5 L1028.3 1236.7 L1029.3 1236.7 L1030.3 1236.6 L1031.3 1236.5 L1032.3 1236.6 L1033.3 1236.7 L1034.3 1236.7 L1035.3 1236.6 L1036.3 1236.6 L1037.3 1236.8 L1038.3 1237.0 L1039.3 1237.1 L1040.3 1237.1 L1041.3 1237.1 L1042.3 1237.2 L1043.3 1237.2 L1044.3 1237.1 L1045.3 1236.8 L1046.3 1236.5 L1047.3 1236.7 L1048.3 1236.9 L1049.3 1236.9 L1050.3 1236.8 L1051.3 1236.8 L1052.3 1236.6 L1053.3 1236.4 L1054.3 1236.4 L1055.3 1236.6 L1056.3 1236.8 L1057.3 1236.8 L1058.3 1236.9 L1059.3 1236.8 L1060.3 1236.5 L1061.3 1236.2 L1062.3 1236.4 L1063.3 1236.8 L1064.3 1236.8 L1065.3 1236.6 L1066.3 1236.4 L1067.3 1236.5 L1068.3 1236.5 L1069.3 1236.6 L1070.3 1236.9 L1071.3 1237.0 L1072.3 1237.0 L1073.3 1237.0 L1074.3 1237.0 L1075.3 1236.7 L1076.3 1236.6 L1077.3 1236.7 L1078.3 1236.9 L1079.3 1236.9 L1080.3 1237.0 L1081.3 1237.1 L1082.3 1237.1 L1083.3 1237.0 L1084.3 1237.0 L1085.3 1237.0 L1086.3 1236.9 L1087.3 1237.0 L1088.3 1237.0 L1089.3 1237.1 L1090.3 1237.3 L1091.3 1237.4 L1092.3 1237.1 L1093.3 1236.8 L1094.3 1236.8 L1095.3 1237.0 L1096.3 1237.1 L1097.3 1237.1 L1098.3 1237.0 L1099.3 1236.9 L1100.3 1236.7 L1101.3 1236.5 L1102.3 1236.6 L1103.3 1236.7 L1104.3 1236.7 L1105.3 1236.8 L1106.3 1236.8 L1107.3 1236.7 L1108.3 1236.6 L1109.3 1236.6 L1110.3 1236.3 L1111.3 1236.2 L1112.3 1236.4 L1113.3 1236.8 L1114.3 1236.8 L1115.3 1236.6 L1116.3 1236.5 L1117.3 1236.5 L1118.3 1236.6 L1119.3 1236.4 L1120.3 1236.0 L1121.3 1235.6 L1122.3 1235.5 L1123.3 1235.4 L1124.3 1235.2 L1125.3 1234.8 L1126.3 1234.3 L1127.3 1233.8 L1128.3 1233.0 L1129.3 1231.0 L1130.3 1227.4 L1131.3 1222.0 L1132.3 1214.4 L1133.3 1204.8 L1134.3 1194.5 L1135.3 1186.1 L1136.3 1182.7 L1137.3 1184.9 L1138.3 1190.8 L1139.3 1198.4 L1140.3 1206.4 L1141.3 1213.7 L1142.3 1219.8 L1143.3 1224.4 L1144.3 1227.9 L1145.3 1230.3 L1146.3 1231.9 L1147.3 1233.2 L1148.3 1234.2 L1149.3 1234.7 L1150.3 1234.9 L1151.3 1235.0 L1152.3 1235.2 L1153.3 1235.4 L1154.3 1235.5 L1155.3 1235.3 L1156.3 1235.2 L1157.3 1235.3 L1158.3 1235.4 L1159.3 1235.5 L1160.3 1235.8 L1161.3 1236.1 L1162.3 1236.0 L1163.3 1236.0 L1164.3 1236.0 L1165.3 1235.9 L1166.3 1235.9 L1167.3 1236.2 L1168.3 1236.6 L1169.3 1236.7 L1170.3 1236.6 L1171.3 1236.6 L1172.3 1236.7 L1173.3 1236.8 L1174.3 1236.8 L1175.3 1236.6 L1176.3 1236.4 L1177.3 1236.7 L1178.3 1237.1 L1179.3 1237.1 L1180.3 1236.8 L1181.3 1236.6 L1182.3 1236.9 L1183.3 1237.3 L1184.3 1237.3 L1185.3 1237.2 L1186.3 1237.0 L1187.3 1237.0 L1188.3 1237.0 L1189.3 1237.0 L1190.3 1237.1 L1191.3 1237.1 L1192.3 1237.2 L1193.3 1237.4 L1194.3 1237.3 L1195.3 1237.0 L1196.3 1236.8 L1197.3 1236.8 L1198.3 1236.7 L1199.3 1236.7 L1200.3 1236.9 L1201.3 1237.0 L1202.3 1236.9 L1203.3 1236.7 L1204.3 1236.7 L1205.3 1236.6 L1206.3 1236.6 L1207.3 1236.6 L1208.3 1236.6 L1209.3 1236.6 L1210.3 1236.6 L1211.3 1236.6 L1212.3 1236.6 L1213.3 1236.7 L1214.3 1236.8 L1215.3 1236.9 L1216.3 1236.9 L1217.3 1236.9 L1218.3 1237.0 L1219.3 1237.0 L1220.3 1237.3 L1221.3 1237.4 L1222.3 1237.3 L1223.3 1237.2 L1224.3 1237.2 L1225.3 1237.3 L1226.3 1237.4 L1227.3 1237.3 L1228.3 1237.2 L1229.3 1237.1 L1230.3 1237.2 L1231.3 1237.3 L1232.3 1237.2 L1233.3 1237.0 L1234.3 1237.0 L1235.3 1237.1 L1236.3 1237.1 L1237.3 1237.0 L1238.3 1236.9 L1239.3 1236.9 L1240.3 1237.2 L1241.3 1237.3 L1242.3 1237.2 L1243.3 1237.1 L1244.3 1237.0 L1245.3 1236.8 L1246.3 1236.6 L1247.3 1236.7 L1248.3 1236.7 L1249.3 1236.7 L1250.3 1236.9 L1251.3 1237.0 L1252.3 1236.7 L1253.3 1236.3 L1254.3 1236.2 L1255.3 1236.5 L1256.3 1236.6 L1257.3 1236.4 L1258.3 1236.1 L1259.3 1235.9 L1260.3 1235.7 L1261.3 1235.5 L1262.3 1235.2 L1263.3 1235.0 L1264.3 1234.5 L1265.3 1233.8 L1266.3 1233.1 L1267.3 1232.5 L1268.3 1231.9 L1269.3 1231.3 L1270.3 1230.8 L1271.3 1230.5 L1272.3 1230.3 L1273.3 1230.4 L1274.3 1230.6 L1275.3 1230.7 L1276.3 1231.1 L1277.3 1231.9 L1278.3 1232.8 L1279.3 1233.5 L1280.3 1234.1 L1281.3 1234.6 L1282.3 1235.1 L1283.3 1235.5 L1284.3 1235.9 L1285.3 1236.1 L1286.3 1236.2 L1287.3 1236.4 L1288.3 1236.5 L1289.3 1236.5 L1290.3 1236.4 L1291.3 1236.4 L1292.3 1236.4 L1293.3 1236.4 L1294.3 1236.4 L1295.3 1236.3 L1296.3 1236.2 L1297.3 1236.2 L1298.3 1236.3 L1299.3 1236.1 L1300.3 1235.7 L1301.3 1235.3 L1302.3 1235.0 L1303.3 1234.8 L1304.3 1234.6 L1305.3 1234.6 L1306.3 1234.7 L1307.3 1235.1 L1308.3 1235.7 L1309.3 1236.1 L1310.3 1236.4 L1311.3 1236.6 L1312.3 1236.8 L1313.3 1236.9 L1314.3 1237.0 L1315.3 1236.9 L1316.3 1236.9 L1317.3 1237.0 L1318.3 1237.0 L1319.3 1237.1 L1320.3 1237.2 L1321.3 1237.2 L1322.3 1237.3 L1323.3 1237.4 L1324.3 1237.4 L1325.3 1237.3 L1326.3 1237.2 L1327.3 1237.3 L1328.3 1237.5 L1329.3 1237.5 L1330.3 1237.4 L1331.3 1237.4 L1332.3 1237.5 L1333.3 1237.8 L1334.3 1237.9 L1335.3 1237.8 L1336.3 1237.8 L1337.3 1237.7 L1338.3 1237.4 L1339.3 1237.4 L1340.3 1237.2 L1341.3 1237.1 L1342.3 1237.2 L1343.3 1237.5 L1344.3 1237.5 L1345.3 1237.1 L1346.3 1236.9 L1347.3 1236.9 L1348.3 1236.9 L1349.3 1236.8 L1350.3 1236.6 L1351.3 1236.5 L1352.3 1236.6 L1353.3 1236.7 L1354.3 1236.8 L1355.3 1236.8 L1356.3 1236.8 L1357.3 1236.8 L1358.3 1236.8 L1359.3 1236.8 L1360.3 1236.7 L1361.3 1236.6 L1362.3 1236.7 L1363.3 1236.8 L1364.3 1236.8 L1365.3 1236.6 L1366.3 1236.5 L1367.3 1236.6 L1368.3 1236.7 L1369.3 1236.7 L1370.3 1236.6 L1371.3 1236.6 L1372.3 1236.7 L1373.3 1236.8 L1374.3 1236.8 L1375.3 1236.6 L1376.3 1236.4 L1377.3 1236.4 L1378.3 1236.3 L1379.3 1236.3 L1380.3 1236.3 L1381.3 1236.3 L1382.3 1236.1 L1383.3 1235.9 L1384.3 1235.6 L1385.3 1235.3 L1386.3 1234.5 L1387.3 1233.0 L1388.3 1230.5 L1389.3 1227.2 L1390.3 1223.6 L1391.3 1220.3 L1392.3 1218.1 L1393.3 1216.8 L1394.3 1215.0 L1395.3 1211.3 L1396.3 1204.9 L1397.3 1196.8 L1398.3 1189.2 L1399.3 1185.2 L1400.3 1186.7 L1401.3 1192.5 L1402.3 1200.7 L1403.3 1209.3 L1404.3 1217.0 L1405.3 1223.5 L1406.3 1228.2 L1407.3 1231.0 L1408.3 1232.5 L1409.3 1233.7 L1410.3 1234.7 L1411.3 1235.4 L1412.3 1235.7 L1413.3 1236.0 L1414.3 1236.1 L1415.3 1236.1 L1416.3 1236.1 L1417.3 1236.4 L1418.3 1236.9 L1419.3 1237.1 L1420.3 1237.2 L1421.3 1237.3 L1422.3 1237.3 L1423.3 1237.3 L1424.3 1237.3 L1425.3 1237.4 L1426.3 1237.5 L1427.3 1237.5 L1428.3 1237.6 L1429.3 1237.6 L1430.3 1237.3 L1431.3 1237.1 L1432.3 1237.2 L1433.3 1237.4 L1434.3 1237.4 L1435.3 1237.4 L1436.3 1237.4 L1437.3 1237.4 L1438.3 1237.5 L1439.3 1237.6 L1440.3 1237.5 L1441.3 1237.5 L1442.3 1237.5 L1443.3 1237.5 L1444.3 1237.4 L1445.3 1237.3 L1446.3 1237.2 L1447.3 1237.3 L1448.3 1237.4 L1449.3 1237.4 L1450.3 1237.3 L1451.3 1237.3 L1452.3 1237.3 L1453.3 1237.3 L1454.3 1237.3 L1455.3 1237.1 L1456.3 1236.9 L1457.3 1236.9 L1458.3 1236.8 L1459.3 1236.9 L1460.3 1236.9 L1461.3 1237.0 L1462.3 1237.1 L1463.3 1237.2 L1464.3 1237.2 L1465.3 1237.1 L1466.3 1237.1 L1467.3 1237.3 L1468.3 1237.6 L1469.3 1237.7 L1470.3 1237.6 L1471.3 1237.5 L1472.3 1237.5 L1473.3 1237.6 L1474.3 1237.6 L1475.3 1237.5 L1476.3 1237.5 L1477.3 1237.5 L1478.3 1237.5 L1479.3 1237.5 L1480.3 1237.4 L1481.3 1237.3 L1482.3 1237.1 L1483.3 1236.9 L1484.3 1236.9 L1485.3 1237.2 L1486.3 1237.4 L1487.3 1237.3 L1488.3 1237.3 L1489.3 1237.2 L1490.3 1237.1 L1491.3 1237.0 L1492.3 1237.0 L1493.3 1237.0 L1494.3 1237.0 L1495.3 1237.0 L1496.3 1237.0 L1497.3 1236.9 L1498.3 1236.6 L1499.3 1236.6 L1500.3 1236.9 L1501.3 1237.1 L1502.3 1237.0 L1503.3 1236.8 L1504.3 1236.8 L1505.3 1236.8 L1506.3 1236.7 L1507.3 1236.8 L1508.3 1237.0 L1509.3 1237.0 L1510.3 1237.3 L1511.3 1237.5 L1512.3 1237.4 L1513.3 1237.2 L1514.3 1237.2 L1515.3 1237.5 L1516.3 1237.7 L1517.3 1237.8 L1518.3 1237.9 L1519.3 1237.9 L1520.3 1237.7 L1521.3 1237.6 L1522.3 1237.6 L1523.3 1237.6 L1524.3 1237.6 L1525.3 1237.6 L1526.3 1237.6 L1527.3 1237.7 L1528.3 1237.8 L1529.3 1237.8 L1530.3 1237.8 L1531.3 1237.8 L1532.3 1237.8 L1533.3 1237.7 L1534.3 1237.6 L1535.3 1237.6 L1536.3 1237.6 L1537.3 1237.4 L1538.3 1237.1 L1539.3 1237.1 L1540.3 1237.1 L1541.3 1237.1 L1542.3 1237.1 L1543.3 1237.1 L1544.3 1237.2 L1545.3 1237.4 L1546.3 1237.5 L1547.3 1237.4 L1548.3 1237.2 L1549.3 1237.2 L1550.3 1237.3 L1551.3 1237.4 L1552.3 1237.3 L1553.3 1237.1 L1554.3 1237.1 L1555.3 1237.1 L1556.3 1237.1 L1557.3 1237.2 L1558.3 1237.3 L1559.3 1237.4 L1560.3 1237.6 L1561.3 1237.8 L1562.3 1237.8 L1563.3 1237.8 L1564.3 1237.8 L1565.3 1237.8 L1566.3 1237.8 L1567.3 1237.7 L1568.3 1237.6 L1569.3 1237.6 L1570.3 1237.6 L1571.3 1237.7 L1572.3 1237.7 L1573.3 1237.6 L1574.3 1237.6 L1575.3 1237.6 L1576.3 1237.5 L1577.3 1237.4 L1578.3 1237.2 L1579.3 1237.2 L1580.3 1237.5 L1581.3 1237.7 L1582.3 1237.4 L1583.3 1237.1 L1584.3 1237.1 L1585.3 1237.3 L1586.3 1237.5 L1587.3 1237.5 L1588.3 1237.4 L1589.3 1237.3 L1590.3 1236.9 L1591.3 1236.6 L1592.3 1236.7 L1593.3 1236.8 L1594.3 1236.9 L1595.3 1237.0 L1596.3 1237.1 L1597.3 1237.2 L1598.3 1237.2 L1599.3 1237.2 L1600.3 1237.0 L1601.3 1236.8 L1602.3 1236.8 L1603.3 1236.7 L1604.3 1236.7 L1605.3 1236.7 L1606.3 1236.6 L1607.3 1236.8 L1608.3 1237.1 L1609.3 1237.1 L1610.3 1236.7 L1611.3 1236.3 L1612.3 1236.2 L1613.3 1236.1 L1614.3 1235.6 L1615.3 1234.8 L1616.3 1233.9 L1617.3 1233.1 L1618.3 1232.3 L1619.3 1231.4 L1620.3 1230.7 L1621.3 1230.2 L1622.3 1229.7 L1623.3 1229.5 L1624.3 1229.9 L1625.3 1230.6 L1626.3 1230.6 L1627.3 1229.5 L1628.3 1227.6 L1629.3 1224.9 L1630.3 1221.8 L1631.3 1218.7 L1632.3 1216.5 L1633.3 1216.0 L1634.3 1217.3 L1635.3 1219.6 L1636.3 1222.6 L1637.3 1225.9 L1638.3 1229.0 L1639.3 1231.3 L1640.3 1233.0 L1641.3 1234.1 L1642.3 1234.9 L1643.3 1235.3 L1644.3 1235.6 L1645.3 1235.9 L1646.3 1236.1 L1647.3 1236.4 L1648.3 1236.7 L1649.3 1236.9 L1650.3 1236.9 L1651.3 1237.0 L1652.3 1237.1 L1653.3 1237.1 L1654.3 1237.1 L1655.3 1237.1 L1656.3 1237.1 L1657.3 1237.2 L1658.3 1237.4 L1659.3 1237.5 L1660.3 1237.5 L1661.3 1237.5 L1662.3 1237.7 L1663.3 1238.0 L1664.3 1238.0 L1665.3 1237.6 L1666.3 1237.4 L1667.3 1237.6 L1668.3 1237.9 L1669.3 1238.0 L1670.3 1238.0 L1671.3 1238.0 L1672.3 1237.8 L1673.3 1237.5 L1674.3 1237.5 L1675.3 1237.8 L1676.3 1238.0 L1677.3 1237.9 L1678.3 1237.8 L1679.3 1237.7 L1680.3 1237.8 L1681.3 1237.8 L1682.3 1237.6 L1683.3 1237.3 L1684.3 1237.2 L1685.3 1237.2 L1686.3 1237.2 L1687.3 1237.2 L1688.3 1237.1 L1689.3 1237.2 L1690.3 1237.4 L1691.3 1237.6 L1692.3 1237.4 L1693.3 1237.3 L1694.3 1237.2 L1695.3 1237.1 L1696.3 1237.1 L1697.3 1237.1 L1698.3 1237.1 L1699.3 1237.1 L1700.3 1237.1 L1701.3 1237.1 L1702.3 1237.0 L1703.3 1237.0 L1704.3 1237.0 L1705.3 1237.0 L1706.3 1237.1 L1707.3 1237.3 L1708.3 1237.6 L1709.3 1237.7 L1710.3 1237.5 L1711.3 1237.3 L1712.3 1237.5 L1713.3 1237.8 L1714.3 1237.8 L1715.3 1237.5 L1716.3 1237.3 L1717.3 1237.3 L1718.3 1237.3 L1719.3 1237.3 L1720.3 1237.3 L1721.3 1237.4 L1722.3 1237.2 L1723.3 1237.0 L1724.3 1236.9 L1725.3 1236.9 L1726.3 1236.8 L1727.3 1236.8 L1728.3 1236.9 L1729.3 1236.8 L1730.3 1236.6 L1731.3 1236.4 L1732.3 1236.2 L1733.3 1235.9 L1734.3 1235.7 L1735.3 1235.4 L1736.3 1235.2 L1737.3 1235.2 L1738.3 1235.2 L1739.3 1235.2 L1740.3 1235.2 L1741.3 1235.2 L1742.3 1235.2 L1743.3 1235.2 L1744.3 1235.4 L1745.3 1235.6 L1746.3 1235.9 L1747.3 1235.9 L1748.3 1235.9 L1749.3 1236.1 L1750.3 1236.6 L1751.3 1237.0 L1752.3 1237.1 L1753.3 1237.1 L1754.3 1237.3 L1755.3 1237.5 L1756.3 1237.7 L1757.3 1237.8 L1758.3 1237.8 L1759.3 1237.9 L1760.3 1237.8 L1761.3 1237.7 L1762.3 1237.7 L1763.3 1237.6 L1764.3 1237.7 L1765.3 1238.1 L1766.3 1238.3 L1767.3 1238.1 L1768.3 1237.7 L1769.3 1237.7 L1770.3 1237.8 L1771.3 1237.9 L1772.3 1237.8 L1773.3 1237.7 L1774.3 1237.7 L1775.3 1237.6 L1776.3 1237.6 L1777.3 1237.7 L1778.3 1237.8 L1779.3 1237.8 L1780.3 1237.9 L1781.3 1237.9 L1782.3 1237.7 L1783.3 1237.4 L1784.3 1237.3 L1785.3 1237.5 L1786.3 1237.6 L1787.3 1237.4 L1788.3 1237.3 L1789.3 1237.3 L1790.3 1237.4 L1791.3 1237.4 L1792.3 1237.4 L1793.3 1237.3 L1794.3 1237.3 L1795.3 1237.2 L1796.3 1237.2 L1797.3 1237.2 L1798.3 1237.2 L1799.3 1237.2 L1800.3 1237.3 L1801.3 1237.3 L1802.3 1237.5 L1803.3 1237.8 L1804.3 1237.9 L1805.3 1237.7 L1806.3 1237.6 L1807.3 1237.5 L1808.3 1237.4 L1809.3 1237.4 L1810.3 1237.7 L1811.3 1237.9 L1812.3 1237.9 L1813.3 1238.0 L1814.3 1237.9 L1815.3 1237.6 L1816.3 1237.5 L1817.3 1237.3 L1818.3 1237.2 L1819.3 1237.1 L1820.3 1237.1 L1821.3 1237.0 L1822.3 1237.0 L1823.3 1236.9 L1824.3 1236.8 L1825.3 1236.9 L1826.3 1236.9 L1827.3 1236.7 L1828.3 1236.5 L1829.3 1236.4 L1830.3 1236.4 L1831.3 1236.3 L1832.3 1236.1 L1833.3 1235.9 L1834.3 1235.6 L1835.3 1235.4 L1836.3 1235.1 L1837.3 1234.6 L1838.3 1234.1 L1839.3 1233.3 L1840.3 1232.3 L1841.3 1231.3 L1842.3 1230.1 L1843.3 1228.8 L1844.3 1227.7 L1845.3 1226.8 L1846.3 1226.1 L1847.3 1225.7 L1848.3 1225.7 L1849.3 1226.0 L1850.3 1226.5 L1851.3 1227.2 L1852.3 1228.1 L1853.3 1229.1 L1854.3 1230.1 L1855.3 1231.0 L1856.3 1231.9 L1857.3 1232.9 L1858.3 1233.8 L1859.3 1234.5 L1860.3 1235.4 L1861.3 1236.1 L1862.3 1236.3 L1863.3 1236.3 L1864.3 1236.5 L1865.3 1236.9 L1866.3 1237.1 L1867.3 1237.3 L1868.3 1237.4 L1869.3 1237.5 L1870.3 1237.6 L1871.3 1237.7 L1872.3 1237.6 L1873.3 1237.3 L1874.3 1237.3 L1875.3 1237.3 L1876.3 1237.3 L1877.3 1237.3 L1878.3 1237.3 L1879.3 1237.3 L1880.3 1237.3 L1881.3 1237.4 L1882.3 1237.4 L1883.3 1237.4 L1884.3 1237.5 L1885.3 1237.7 L1886.3 1237.8 L1887.3 1237.8 L1888.3 1237.8 L1889.3 1237.8 L1890.3 1237.8 L1891.3 1237.9 L1892.3 1237.7 L1893.3 1237.3 L1894.3 1237.3 L1895.3 1237.3 L1896.3 1237.3 L1897.3 1237.5 L1898.3 1237.9 L1899.3 1238.0 L1900.3 1238.1 L1901.3 1238.1 L1902.3 1238.0 L1903.3 1237.9 L1904.3 1237.9 L1905.3 1237.9 L1906.3 1238.0 L1907.3 1237.8 L1908.3 1237.5 L1909.3 1237.5 L1910.3 1237.7 L1911.3 1237.8 L1912.3 1237.9 L1913.3 1238.1 L1914.3 1238.1 L1915.3 1238.0 L1916.3 1238.0 L1917.3 1238.0 L1918.3 1237.9 L1919.3 1237.9 L1920.3 1237.9 L1921.3 1237.9 L1922.3 1237.7 L1923.3 1237.3 L1924.3 1237.2 L1925.3 1237.1 L1926.3 1237.0 L1927.3 1237.0 L1928.3 1237.0 L1929.3 1237.0 L1930.3 1237.1 L1931.3 1237.2 L1932.3 1237.2 L1933.3 1237.3 L1934.3 1237.3 L1935.3 1237.3 L1936.3 1237.4 L1937.3 1237.3 L1938.3 1237.1 L1939.3 1237.0 L1940.3 1236.9 L1941.3 1236.8 L1942.3 1236.7 L1943.3 1236.6 L1944.3 1236.4 L1945.3 1236.1 L1946.3 1235.8 L1947.3 1235.7 L1948.3 1235.5 L1949.3 1235.3 L1950.3 1235.0 L1951.3 1234.7 L1952.3 1234.8 L1953.3 1235.1 L1954.3 1235.1 L1955.3 1235.0 L1956.3 1234.9 L1957.3 1235.3 L1958.3 1235.8 L1959.3 1236.0 L1960.3 1236.1 L1961.3 1236.3 L1962.3 1236.4 L1963.3 1236.4 L1964.3 1236.6 L1965.3 1236.7 L1966.3 1236.8 L1967.3 1236.9 L1968.3 1237.1 L1969.3 1237.2 L1970.3 1237.5 L1971.3 1237.6 L1972.3 1237.7 L1973.3 1237.7 L1974.3 1237.7 L1975.3 1237.5 L1976.3 1237.3 L1977.3 1237.3 L1978.3 1237.3 L1979.3 1237.3 L1980.3 1237.5 L1981.3 1237.7 L1982.3 1237.7 L1983.3 1237.8 L1984.3 1237.8 L1985.3 1237.7 L1986.3 1237.7 L1987.3 1237.6 L1988.3 1237.6 L1989.3 1237.6 L1990.3 1237.8 L1991.3 1238.0 L1992.3 1237.8 L1993.3 1237.6 L1994.3 1237.6 L1995.3 1237.8 L1996.3 1237.9 L1997.3 1238.0 L1998.3 1238.1 L1999.3 1238.1 L2000.3 1238.4 L2001.3 1238.5 L2002.3 1238.4 L2003.3 1238.3 L2004.3 1238.3 L2005.3 1238.4 L2006.3 1238.5 L2007.3 1238.3 L2008.3 1238.1 L2009.3 1238.1 L2010.3 1237.9 L2011.3 1237.8 L2012.3 1237.8 L2013.3 1237.8 L2014.3 1237.8 L2015.3 1238.1 L2016.3 1238.2 L2017.3 1238.1 L2018.3 1237.9 L2019.3 1237.8 L2020.3 1237.6 L2021.3 1237.4 L2022.3 1237.3 L2023.3 1237.1 L2024.3 1237.1 L2025.3 1237.3 L2026.3 1237.4 L2027.3 1237.4 L2028.3 1237.4 L2029.3 1237.3 L2030.3 1237.2 L2031.3 1237.1 L2032.3 1237.0 L2033.3 1236.8 L2034.3 1236.8 L2035.3 1236.9 L2036.3 1237.0 L2037.3 1237.0 L2038.3 1237.0 L2039.3 1236.9 L2040.3 1236.5 L2041.3 1236.2 L2042.3 1236.0 L2043.3 1235.8 L2044.3 1235.7 L2045.3 1235.7 L2046.3 1235.7 L2047.3 1235.6 L2048.3 1235.5 L2049.3 1235.4 L2050.3 1235.4 L2051.3 1235.4 L2052.3 1235.2 L2053.3 1234.9 L2054.3 1234.9 L2055.3 1235.1 L2056.3 1235.3 L2057.3 1235.3 L2058.3 1235.3 L2059.3 1235.3 L2060.3 1235.3 L2061.3 1235.3 L2062.3 1235.4 L2063.3 1235.4 L2064.3 1235.5 L2065.3 1236.0 L2066.3 1236.3 L2067.3 1236.3 L2068.3 1236.1 L2069.3 1236.3 L2070.3 1236.6 L2071.3 1236.9 L2072.3 1236.8 L2073.3 1236.7 L2074.3 1236.7 L2075.3 1236.8 L2076.3 1236.9 L2077.3 1237.1 L2078.3 1237.4 L2079.3 1237.5 L2080.3 1237.4 L2081.3 1237.3 L2082.3 1237.6 L2083.3 1237.9 L2084.3 1238.0 L2085.3 1237.9 L2086.3 1237.8 L2087.3 1237.8 L2088.3 1237.7 L2089.3 1237.7 L2090.3 1237.8 L2091.3 1237.8 L2092.3 1237.9 L2093.3 1238.1 L2094.3 1238.1 L2095.3 1238.3 L2096.3 1238.4 L2097.3 1238.5 L2098.3 1238.6 L2099.3 1238.6 L2100.3 1238.3 L2101.3 1238.1 L2102.3 1238.1 L2103.3 1238.3 L2104.3 1238.3 L2105.3 1238.2 L2106.3 1238.1 L2107.3 1238.3 L2108.3 1238.6 L2109.3 1238.6 L2110.3 1238.2 L2111.3 1237.9 L2112.3 1237.9 L2113.3 1237.8" fill="none" stroke="#0000ff" stroke-width="8.2" stroke-linejoin="round" stroke-linecap="butt"/>
<path d="M296.3 978.2 L297.3 978.2 L298.3 978.1 L299.3 978.2 L300.3 978.4 L301.3 978.6 L302.3 978.5 L303.3 978.3 L304.3 978.3 L305.3 978.6 L306.3 978.7 L307.3 978.7 L308.3 978.7 L309.3 978.7 L310.3 978.6 L311.3 978.5 L312.3 978.7 L313.3 978.9 L314.3 978.9 L315.3 978.7 L316.3 978.6 L317.3 978.7 L318.3 978.9 L319.3 978.9 L320.3 978.7 L321.3 978.6 L322.3 978.6 L323.3 978.5 L324.3 978.5 L325.3 978.7 L326.3 978.7 L327.3 978.8 L328.3 979.0 L329.3 978.9 L330.3 978.6 L331.3 978.4 L332.3 978.4 L333.3 978.4 L334.3 978.4 L335.3 978.6 L336.3 978.7 L337.3 978.8 L338.3 978.9 L339.3 978.9 L340.3 978.7 L341.3 978.7 L342.3 978.6 L343.3 978.5 L344.3 978.6 L345.3 978.9 L346.3 979.1 L347.3 978.8 L348.3 978.4 L349.3 978.4 L350.3 978.8 L351.3 979.1 L352.3 978.9 L353.3 978.7 L354.3 978.7 L355.3 978.6 L356.3 978.6 L357.3 978.6 L358.3 978.6 L359.3 978.6 L360.3 978.7 L361.3 978.8 L362.3 978.9 L363.3 979.1 L364.3 979.1 L365.3 978.8 L366.3 978.6 L367.3 978.7 L368.3 978.8 L369.3 978.8 L370.3 978.8 L371.3 978.8 L372.3 978.7 L373.3 978.5 L374.3 978.5 L375.3 978.5 L376.3 978.5 L377.3 978.3 L378.3 978.1 L379.3 978.0 L380.3 978.0 L381.3 977.9 L382.3 978.0 L383.3 978.0 L384.3 978.0 L385.3 978.2 L386.3 978.4 L387.3 978.3 L388.3 978.2 L389.3 978.2 L390.3 978.1 L391.3 978.1 L392.3 978.2 L393.3 978.4 L394.3 978.4 L395.3 978.4 L396.3 978.4 L397.3 978.4 L398.3 978.3 L399.3 978.4 L400.3 978.7 L401.3 978.8 L402.3 978.8 L403.3 978.8 L404.3 978.8 L405.3 978.7 L406.3 978.6 L407.3 978.7 L408.3 978.8 L409.3 978.9 L410.3 978.9 L411.3 978.9 L412.3 979.0 L413.3 979.1 L414.3 979.2 L415.3 979.1 L416.3 979.0 L417.3 978.9 L418.3 978.7 L419.3 978.7 L420.3 979.0 L421.3 979.2 L422.3 978.9 L423.3 978.5 L424.3 978.4 L425.3 978.6 L426.3 978.6 L427.3 978.7 L428.3 978.8 L429.3 978.8 L430.3 978.5 L431.3 978.3 L432.3 978.4 L433.3 978.6 L434.3 978.6 L435.3 978.4 L436.3 978.3 L437.3 978.5 L438.3 978.7 L439.3 978.8 L440.3 978.9 L441.3 978.9 L442.3 978.9 L443.3 978.9 L444.3 978.9 L445.3 979.1 L446.3 979.2 L447.3 979.1 L448.3 978.8 L449.3 978.9 L450.3 979.1 L451.3 979.2 L452.3 979.2 L453.3 979.2 L454.3 979.2 L455.3 979.2 L456.3 979.2 L457.3 979.2 L458.3 979.1 L459.3 979.1 L460.3 979.3 L461.3 979.4 L462.3 979.4 L463.3 979.4 L464.3 979.3 L465.3 979.1 L466.3 978.9 L467.3 979.0 L468.3 979.0 L469.3 978.9 L470.3 978.6 L471.3 978.4 L472.3 978.5 L473.3 978.8 L474.3 978.8 L475.3 978.7 L476.3 978.7 L477.3 978.7 L478.3 978.8 L479.3 978.8 L480.3 978.7 L481.3 978.7 L482.3 978.5 L483.3 978.3 L484.3 978.2 L485.3 978.3 L486.3 978.3 L487.3 978.4 L488.3 978.5 L489.3 978.5 L490.3 978.2 L491.3 978.1 L492.3 978.2 L493.3 978.4 L494.3 978.5 L495.3 978.4 L496.3 978.3 L497.3 978.3 L498.3 978.3 L499.3 978.4 L500.3 978.4 L501.3 978.4 L502.3 978.6 L503.3 978.9 L504.3 978.9 L505.3 978.7 L506.3 978.5 L507.3 978.6 L508.3 978.6 L509.3 978.6 L510.3 978.7 L511.3 978.7 L512.3 978.9 L513.3 979.0 L514.3 979.0 L515.3 978.6 L516.3 978.4 L517.3 978.5 L518.3 978.6 L519.3 978.6 L520.3 978.7 L521.3 978.7 L522.3 978.7 L523.3 978.9 L524.3 978.9 L525.3 978.8 L526.3 978.8 L527.3 978.8 L528.3 978.8 L529.3 978.8 L530.3 978.5 L531.3 978.4 L532.3 978.4 L533.3 978.5 L534.3 978.5 L535.3 978.5 L536.3 978.5 L537.3 978.7 L538.3 979.0 L539.3 979.1 L540.3 979.1 L541.3 979.2 L542.3 979.0 L543.3 978.7 L544.3 978.7 L545.3 978.7 L546.3 978.8 L547.3 978.8 L548.3 978.9 L549.3 978.9 L550.3 978.9 L551.3 979.0 L552.3 979.0 L553.3 979.2 L554.3 979.2 L555.3 979.3 L556.3 979.3 L557.3 979.2 L558.3 979.0 L559.3 979.0 L560.3 978.8 L561.3 978.7 L562.3 978.8 L563.3 979.0 L564.3 979.0 L565.3 978.9 L566.3 978.9 L567.3 978.9 L568.3 978.9 L569.3 978.9 L570.3 979.0 L571.3 979.1 L572.3 979.0 L573.3 978.8 L574.3 978.7 L575.3 978.6 L576.3 978.5 L577.3 978.5 L578.3 978.5 L579.3 978.4 L580.3 978.4 L581.3 978.3 L582.3 978.0 L583.3 977.6 L584.3 977.3 L585.3 977.0 L586.3 976.2 L587.3 974.5 L588.3 972.2 L589.3 969.8 L590.3 968.2 L591.3 968.2 L592.3 969.5 L593.3 971.4 L594.3 973.5 L595.3 975.1 L596.3 976.3 L597.3 977.2 L598.3 977.7 L599.3 978.0 L600.3 978.1 L601.3 978.1 L602.3 978.3 L603.3 978.6 L604.3 978.7 L605.3 978.4 L606.3 978.3 L607.3 978.3 L608.3 978.3 L609.3 978.3 L610.3 978.4 L611.3 978.4 L612.3 978.3 L613.3 978.3 L614.3 978.2 L615.3 978.2 L616.3 978.2 L617.3 978.0 L618.3 977.7 L619.3 977.5 L620.3 977.3 L621.3 977.1 L622.3 976.9 L623.3 976.8 L624.3 976.7 L625.3 976.6 L626.3 976.7 L627.3 976.9 L628.3 977.2 L629.3 977.4 L630.3 977.5 L631.3 977.6 L632.3 978.0 L633.3 978.5 L634.3 978.7 L635.3 978.7 L636.3 978.7 L637.3 978.6 L638.3 978.5 L639.3 978.5 L640.3 978.6 L641.3 978.7 L642.3 978.7 L643.3 978.8 L644.3 978.9 L645.3 978.9 L646.3 979.0 L647.3 978.9 L648.3 978.9 L649.3 978.9 L650.3 979.3 L651.3 979.5 L652.3 979.5 L653.3 979.6 L654.3 979.6 L655.3 979.4 L656.3 979.2 L657.3 979.2 L658.3 979.2 L659.3 979.1 L660.3 979.0 L661.3 978.8 L662.3 978.8 L663.3 978.8 L664.3 978.8 L665.3 978.8 L666.3 978.9 L667.3 978.8 L668.3 978.8 L669.3 978.8 L670.3 979.0 L671.3 979.1 L672.3 978.9 L673.3 978.6 L674.3 978.5 L675.3 978.5 L676.3 978.4 L677.3 978.7 L678.3 979.1 L679.3 979.1 L680.3 978.9 L681.3 978.8 L682.3 978.7 L683.3 978.6 L684.3 978.6 L685.3 978.8 L686.3 978.9 L687.3 978.8 L688.3 978.6 L689.3 978.6 L690.3 978.8 L691.3 979.0 L692.3 979.2 L693.3 979.4 L694.3 979.4 L695.3 979.4 L696.3 979.4 L697.3 979.3 L698.3 979.2 L699.3 979.2 L700.3 979.0 L701.3 978.9 L702.3 978.9 L703.3 978.9 L704.3 978.9 L705.3 978.8 L706.3 978.7 L707.3 978.8 L708.3 979.0 L709.3 979.0 L710.3 978.9 L711.3 978.8 L712.3 978.8 L713.3 978.9 L714.3 978.8 L715.3 978.6 L716.3 978.5 L717.3 978.4 L718.3 978.3 L719.3 978.3 L720.3 978.6 L721.3 978.7 L722.3 978.8 L723.3 978.8 L724.3 978.8 L725.3 978.8 L726.3 978.7 L727.3 978.7 L728.3 978.7 L729.3 978.7 L730.3 978.8 L731.3 978.8 L732.3 978.8 L733.3 978.8 L734.3 978.8 L735.3 978.6 L736.3 978.5 L737.3 978.6 L738.3 978.8 L739.3 978.9 L740.3 978.8 L741.3 978.8 L742.3 978.8 L743.3 978.7 L744.3 978.7 L745.3 978.7 L746.3 978.7 L747.3 978.8 L748.3 978.9 L749.3 979.0 L750.3 979.0 L751.3 979.0 L752.3 979.1 L753.3 979.3 L754.3 979.3 L755.3 979.4 L756.3 979.5 L757.3 979.3 L758.3 979.1 L759.3 979.0 L760.3 979.2 L761.3 979.3 L762.3 979.3 L763.3 979.3 L764.3 979.3 L765.3 979.3 L766.3 979.2 L767.3 979.0 L768.3 978.8 L769.3 978.7 L770.3 978.6 L771.3 978.5 L772.3 978.5 L773.3 978.5 L774.3 978.5 L775.3 978.5 L776.3 978.5 L777.3 978.5 L778.3 978.5 L779.3 978.6 L780.3 978.8 L781.3 978.9 L782.3 979.0 L783.3 979.1 L784.3 979.1 L785.3 979.1 L786.3 979.1 L787.3 979.0 L788.3 978.8 L789.3 978.8 L790.3 978.9 L791.3 978.9 L792.3 978.9 L793.3 978.9 L794.3 978.8 L795.3 978.5 L796.3 978.2 L797.3 978.2 L798.3 978.4 L799.3 978.3 L800.3 978.2 L801.3 978.0 L802.3 977.7 L803.3 977.3 L804.3 976.8 L805.3 976.1 L806.3 975.3 L807.3 973.9 L808.3 971.6 L809.3 967.4 L810.3 958.6 L811.3 942.4 L812.3 918.3 L813.3 893.6 L814.3 887.4 L815.3 901.5 L816.3 923.0 L817.3 942.5 L818.3 956.4 L819.3 964.9 L820.3 969.7 L821.3 972.3 L822.3 973.7 L823.3 974.4 L824.3 975.1 L825.3 975.7 L826.3 976.1 L827.3 976.6 L828.3 977.1 L829.3 977.4 L830.3 977.5 L831.3 977.7 L832.3 977.7 L833.3 977.6 L834.3 977.6 L835.3 977.7 L836.3 977.8 L837.3 977.9 L838.3 978.0 L839.3 978.2 L840.3 978.6 L841.3 978.9 L842.3 978.9 L843.3 978.9 L844.3 978.9 L845.3 978.6 L846.3 978.5 L847.3 978.7 L848.3 979.0 L849.3 979.1 L850.3 979.2 L851.3 979.2 L852.3 979.1 L853.3 979.0 L854.3 978.9 L855.3 978.8 L856.3 978.7 L857.3 978.8 L858.3 978.8 L859.3 978.8 L860.3 978.6 L861.3 978.5 L862.3 978.4 L863.3 978.4 L864.3 978.4 L865.3 978.9 L866.3 979.1 L867.3 979.0 L868.3 978.9 L869.3 978.9 L870.3 978.8 L871.3 978.8 L872.3 979.0 L873.3 979.2 L874.3 979.2 L875.3 979.0 L876.3 978.9 L877.3 979.0 L878.3 979.3 L879.3 979.3 L880.3 979.4 L881.3 979.4 L882.3 979.2 L883.3 979.0 L884.3 979.0 L885.3 979.1 L886.3 979.1 L887.3 979.1 L888.3 979.2 L889.3 979.2 L890.3 979.2 L891.3 979.2 L892.3 979.3 L893.3 979.5 L894.3 979.5 L895.3 979.3 L896.3 979.2 L897.3 979.2 L898.3 979.3 L899.3 979.3 L900.3 979.1 L901.3 979.0 L902.3 979.2 L903.3 979.5 L904.3 979.5 L905.3 979.2 L906.3 979.0 L907.3 979.0 L908.3 979.0 L909.3 978.9 L910.3 979.0 L911.3 979.0 L912.3 979.0 L913.3 979.1 L914.3 979.1 L915.3 978.8 L916.3 978.7 L917.3 978.8 L918.3 979.0 L919.3 979.0 L920.3 978.8 L921.3 978.7 L922.3 978.7 L923.3 978.7 L924.3 978.8 L925.3 978.8 L926.3 978.8 L927.3 978.7 L928.3 978.5 L929.3 978.5 L930.3 978.7 L931.3 978.8 L932.3 978.8 L933.3 978.7 L934.3 978.7 L935.3 978.6 L936.3 978.6 L937.3 978.9 L938.3 979.2 L939.3 979.2 L940.3 979.0 L941.3 978.8 L942.3 978.9 L943.3 979.0 L944.3 979.1 L945.3 979.2 L946.3 979.2 L947.3 979.2 L948.3 979.1 L949.3 979.0 L950.3 978.9 L951.3 978.8 L952.3 978.8 L953.3 978.9 L954.3 978.9 L955.3 978.9 L956.3 978.8 L957.3 978.9 L958.3 978.9 L959.3 978.9 L960.3 978.6 L961.3 978.4 L962.3 978.5 L963.3 978.6 L964.3 978.6 L965.3 978.5 L966.3 978.4 L967.3 978.4 L968.3 978.4 L969.3 978.4 L970.3 978.6 L971.3 978.7 L972.3 978.6 L973.3 978.3 L974.3 977.9 L975.3 977.3 L976.3 976.3 L977.3 975.0 L978.3 973.4 L979.3 971.9 L980.3 971.0 L981.3 970.6 L982.3 970.3 L983.3 969.7 L984.3 968.9 L985.3 967.8 L986.3 966.8 L987.3 966.3 L988.3 966.7 L989.3 967.9 L990.3 969.7 L991.3 971.7 L992.3 973.6 L993.3 975.3 L994.3 976.6 L995.3 977.4 L996.3 978.0 L997.3 978.4 L998.3 978.7 L999.3 978.9 L1000.3 978.9 L1001.3 979.0 L1002.3 979.1 L1003.3 979.3 L1004.3 979.3 L1005.3 979.2 L1006.3 979.1 L1007.3 979.2 L1008.3 979.2 L1009.3 979.2 L1010.3 979.3 L1011.3 979.3 L1012.3 979.1 L1013.3 978.8 L1014.3 978.7 L1015.3 978.8 L1016.3 978.9 L1017.3 979.0 L1018.3 979.2 L1019.3 979.3 L1020.3 979.2 L1021.3 979.2 L1022.3 979.0 L1023.3 978.7 L1024.3 978.7 L1025.3 978.7 L1026.3 978.7 L1027.3 978.9 L1028.3 979.0 L1029.3 979.0 L1030.3 978.9 L1031.3 978.8 L1032.3 978.9 L1033.3 979.0 L1034.3 979.0 L1035.3 978.9 L1036.3 978.9 L1037.3 979.1 L1038.3 979.3 L1039.3 979.4 L1040.3 979.4 L1041.3 979.4 L1042.3 979.4 L1043.3 979.5 L1044.3 979.4 L1045.3 979.1 L1046.3 978.8 L1047.3 978.9 L1048.3 979.2 L1049.3 979.2 L1050.3 979.1 L1051.3 979.1 L1052.3 978.9 L1053.3 978.6 L1054.3 978.6 L1055.3 978.9 L1056.3 979.1 L1057.3 979.1 L1058.3 979.1 L1059.3 979.1 L1060.3 978.7 L1061.3 978.5 L1062.3 978.7 L1063.3 979.0 L1064.3 979.1 L1065.3 978.8 L1066.3 978.7 L1067.3 978.7 L1068.3 978.8 L1069.3 978.9 L1070.3 979.1 L1071.3 979.3 L1072.3 979.3 L1073.3 979.3 L1074.3 979.3 L1075.3 979.0 L1076.3 978.9 L1077.3 979.0 L1078.3 979.1 L1079.3 979.2 L1080.3 979.3 L1081.3 979.4 L1082.3 979.3 L1083.3 979.3 L1084.3 979.3 L1085.3 979.2 L1086.3 979.2 L1087.3 979.3 L1088.3 979.3 L1089.3 979.4 L1090.3 979.6 L1091.3 979.7 L1092.3 979.5 L1093.3 979.1 L1094.3 979.1 L1095.3 979.3 L1096.3 979.4 L1097.3 979.4 L1098.3 979.3 L1099.3 979.2 L1100.3 979.0 L1101.3 978.9 L1102.3 978.9 L1103.3 979.0 L1104.3 979.0 L1105.3 979.1 L1106.3 979.2 L1107.3 979.1 L1108.3 979.1 L1109.3 979.0 L1110.3 978.8 L1111.3 978.6 L1112.3 978.9 L1113.3 979.3 L1114.3 979.3 L1115.3 979.2 L1116.3 979.1 L1117.3 979.2 L1118.3 979.2 L1119.3 979.2 L1120.3 978.8 L1121.3 978.5 L1122.3 978.5 L1123.3 978.5 L1124.3 978.4 L1125.3 978.2 L1126.3 978.0 L1127.3 978.0 L1128.3 978.0 L1129.3 977.4 L1130.3 976.0 L1131.3 973.7 L1132.3 970.3 L1133.3 965.5 L1134.3 960.3 L1135.3 956.1 L1136.3 955.0 L1137.3 957.0 L1138.3 960.7 L1139.3 964.4 L1140.3 967.2 L1141.3 969.0 L1142.3 969.7 L1143.3 969.5 L1144.3 969.1 L1145.3 968.8 L1146.3 968.9 L1147.3 969.4 L1148.3 970.2 L1149.3 970.8 L1150.3 971.4 L1151.3 972.0 L1152.3 972.9 L1153.3 973.7 L1154.3 974.4 L1155.3 974.8 L1156.3 975.2 L1157.3 975.8 L1158.3 976.2 L1159.3 976.7 L1160.3 977.3 L1161.3 977.7 L1162.3 977.9 L1163.3 977.9 L1164.3 978.0 L1165.3 978.0 L1166.3 978.0 L1167.3 978.3 L1168.3 978.8 L1169.3 978.9 L1170.3 978.8 L1171.3 978.8 L1172.3 978.9 L1173.3 979.1 L1174.3 979.1 L1175.3 978.8 L1176.3 978.7 L1177.3 978.9 L1178.3 979.3 L1179.3 979.4 L1180.3 979.1 L1181.3 978.9 L1182.3 979.1 L1183.3 979.5 L1184.3 979.6 L1185.3 979.4 L1186.3 979.3 L1187.3 979.3 L1188.3 979.2 L1189.3 979.2 L1190.3 979.3 L1191.3 979.4 L1192.3 979.5 L1193.3 979.6 L1194.3 979.6 L1195.3 979.3 L1196.3 979.1 L1197.3 979.0 L1198.3 978.9 L1199.3 978.9 L1200.3 979.1 L1201.3 979.2 L1202.3 979.1 L1203.3 979.0 L1204.3 978.9 L1205.3 978.9 L1206.3 978.8 L1207.3 978.8 L1208.3 978.9 L1209.3 978.9 L1210.3 978.8 L1211.3 978.8 L1212.3 978.9 L1213.3 979.0 L1214.3 979.0 L1215.3 979.1 L1216.3 979.2 L1217.3 979.2 L1218.3 979.2 L1219.3 979.3 L1220.3 979.5 L1221.3 979.7 L1222.3 979.6 L1223.3 979.4 L1224.3 979.4 L1225.3 979.5 L1226.3 979.6 L1227.3 979.5 L1228.3 979.4 L1229.3 979.4 L1230.3 979.5 L1231.3 979.5 L1232.3 979.4 L1233.3 979.2 L1234.3 979.2 L1235.3 979.3 L1236.3 979.3 L1237.3 979.3 L1238.3 979.1 L1239.3 979.1 L1240.3 979.4 L1241.3 979.6 L1242.3 979.5 L1243.3 979.3 L1244.3 979.2 L1245.3 979.0 L1246.3 978.9 L1247.3 978.9 L1248.3 979.0 L1249.3 979.0 L1250.3 979.1 L1251.3 979.2 L1252.3 978.9 L1253.3 978.5 L1254.3 978.4 L1255.3 978.6 L1256.3 978.7 L1257.3 978.5 L1258.3 978.2 L1259.3 978.0 L1260.3 977.8 L1261.3 977.6 L1262.3 977.5 L1263.3 977.4 L1264.3 977.1 L1265.3 976.6 L1266.3 976.3 L1267.3 976.1 L1268.3 975.9 L1269.3 975.8 L1270.3 975.8 L1271.3 975.9 L1272.3 976.0 L1273.3 976.3 L1274.3 976.5 L1275.3 976.4 L1276.3 976.5 L1277.3 976.9 L1278.3 977.4 L1279.3 977.7 L1280.3 977.9 L1281.3 978.1 L1282.3 978.3 L1283.3 978.5 L1284.3 978.6 L1285.3 978.7 L1286.3 978.7 L1287.3 978.8 L1288.3 978.8 L1289.3 978.9 L1290.3 978.8 L1291.3 978.7 L1292.3 978.7 L1293.3 978.8 L1294.3 978.8 L1295.3 978.7 L1296.3 978.7 L1297.3 978.9 L1298.3 979.2 L1299.3 979.2 L1300.3 979.0 L1301.3 978.9 L1302.3 978.8 L1303.3 978.8 L1304.3 978.8 L1305.3 978.8 L1306.3 978.8 L1307.3 979.0 L1308.3 979.4 L1309.3 979.5 L1310.3 979.5 L1311.3 979.6 L1312.3 979.5 L1313.3 979.5 L1314.3 979.5 L1315.3 979.3 L1316.3 979.3 L1317.3 979.3 L1318.3 979.3 L1319.3 979.4 L1320.3 979.4 L1321.3 979.5 L1322.3 979.6 L1323.3 979.7 L1324.3 979.7 L1325.3 979.6 L1326.3 979.5 L1327.3 979.6 L1328.3 979.7 L1329.3 979.7 L1330.3 979.6 L1331.3 979.6 L1332.3 979.8 L1333.3 980.1 L1334.3 980.1 L1335.3 980.1 L1336.3 980.1 L1337.3 979.9 L1338.3 979.7 L1339.3 979.6 L1340.3 979.4 L1341.3 979.3 L1342.3 979.4 L1343.3 979.7 L1344.3 979.7 L1345.3 979.4 L1346.3 979.1 L1347.3 979.1 L1348.3 979.1 L1349.3 979.1 L1350.3 978.9 L1351.3 978.8 L1352.3 978.8 L1353.3 979.0 L1354.3 979.0 L1355.3 979.1 L1356.3 979.1 L1357.3 979.1 L1358.3 979.1 L1359.3 979.1 L1360.3 979.0 L1361.3 978.9 L1362.3 979.0 L1363.3 979.2 L1364.3 979.2 L1365.3 979.0 L1366.3 978.8 L1367.3 978.9 L1368.3 979.1 L1369.3 979.1 L1370.3 979.0 L1371.3 979.0 L1372.3 979.1 L1373.3 979.2 L1374.3 979.2 L1375.3 979.0 L1376.3 978.9 L1377.3 978.9 L1378.3 978.9 L1379.3 978.9 L1380.3 979.0 L1381.3 979.0 L1382.3 978.9 L1383.3 978.8 L1384.3 978.8 L1385.3 978.8 L1386.3 978.8 L1387.3 978.7 L1388.3 978.4 L1389.3 978.0 L1390.3 977.3 L1391.3 975.6 L1392.3 972.2 L1393.3 967.3 L1394.3 961.9 L1395.3 958.6 L1396.3 958.6 L1397.3 959.8 L1398.3 961.5 L1399.3 963.4 L1400.3 964.9 L1401.3 966.1 L1402.3 967.0 L1403.3 967.4 L1404.3 967.7 L1405.3 968.3 L1406.3 969.0 L1407.3 969.4 L1408.3 969.7 L1409.3 970.4 L1410.3 971.5 L1411.3 972.5 L1412.3 973.3 L1413.3 974.1 L1414.3 974.9 L1415.3 975.4 L1416.3 975.9 L1417.3 976.7 L1418.3 977.6 L1419.3 978.1 L1420.3 978.5 L1421.3 978.8 L1422.3 979.0 L1423.3 979.0 L1424.3 979.2 L1425.3 979.3 L1426.3 979.5 L1427.3 979.6 L1428.3 979.6 L1429.3 979.6 L1430.3 979.4 L1431.3 979.2 L1432.3 979.3 L1433.3 979.5 L1434.3 979.5 L1435.3 979.5 L1436.3 979.5 L1437.3 979.5 L1438.3 979.7 L1439.3 979.7 L1440.3 979.6 L1441.3 979.6 L1442.3 979.6 L1443.3 979.6 L1444.3 979.5 L1445.3 979.4 L1446.3 979.3 L1447.3 979.4 L1448.3 979.5 L1449.3 979.5 L1450.3 979.4 L1451.3 979.4 L1452.3 979.4 L1453.3 979.4 L1454.3 979.4 L1455.3 979.2 L1456.3 979.1 L1457.3 979.0 L1458.3 979.0 L1459.3 979.0 L1460.3 979.1 L1461.3 979.1 L1462.3 979.2 L1463.3 979.3 L1464.3 979.4 L1465.3 979.3 L1466.3 979.2 L1467.3 979.4 L1468.3 979.8 L1469.3 979.8 L1470.3 979.7 L1471.3 979.6 L1472.3 979.7 L1473.3 979.7 L1474.3 979.7 L1475.3 979.7 L1476.3 979.7 L1477.3 979.7 L1478.3 979.7 L1479.3 979.6 L1480.3 979.5 L1481.3 979.4 L1482.3 979.3 L1483.3 979.0 L1484.3 979.0 L1485.3 979.3 L1486.3 979.5 L1487.3 979.5 L1488.3 979.4 L1489.3 979.3 L1490.3 979.2 L1491.3 979.1 L1492.3 979.1 L1493.3 979.1 L1494.3 979.1 L1495.3 979.1 L1496.3 979.2 L1497.3 979.0 L1498.3 978.7 L1499.3 978.8 L1500.3 979.1 L1501.3 979.3 L1502.3 979.1 L1503.3 979.0 L1504.3 978.9 L1505.3 978.9 L1506.3 978.9 L1507.3 979.0 L1508.3 979.1 L1509.3 979.2 L1510.3 979.4 L1511.3 979.6 L1512.3 979.5 L1513.3 979.3 L1514.3 979.4 L1515.3 979.6 L1516.3 979.8 L1517.3 979.9 L1518.3 980.0 L1519.3 980.1 L1520.3 979.9 L1521.3 979.8 L1522.3 979.7 L1523.3 979.7 L1524.3 979.7 L1525.3 979.7 L1526.3 979.8 L1527.3 979.8 L1528.3 979.9 L1529.3 979.9 L1530.3 979.9 L1531.3 979.9 L1532.3 979.9 L1533.3 979.8 L1534.3 979.8 L1535.3 979.7 L1536.3 979.7 L1537.3 979.5 L1538.3 979.3 L1539.3 979.2 L1540.3 979.2 L1541.3 979.2 L1542.3 979.2 L1543.3 979.3 L1544.3 979.3 L1545.3 979.5 L1546.3 979.7 L1547.3 979.5 L1548.3 979.4 L1549.3 979.3 L1550.3 979.5 L1551.3 979.6 L1552.3 979.4 L1553.3 979.2 L1554.3 979.2 L1555.3 979.2 L1556.3 979.3 L1557.3 979.4 L1558.3 979.5 L1559.3 979.5 L1560.3 979.7 L1561.3 979.9 L1562.3 979.9 L1563.3 979.9 L1564.3 980.0 L1565.3 980.0 L1566.3 980.0 L1567.3 979.9 L1568.3 979.7 L1569.3 979.7 L1570.3 979.8 L1571.3 979.8 L1572.3 979.8 L1573.3 979.8 L1574.3 979.7 L1575.3 979.7 L1576.3 979.7 L1577.3 979.5 L1578.3 979.3 L1579.3 979.3 L1580.3 979.6 L1581.3 979.8 L1582.3 979.6 L1583.3 979.2 L1584.3 979.2 L1585.3 979.5 L1586.3 979.7 L1587.3 979.6 L1588.3 979.5 L1589.3 979.4 L1590.3 979.0 L1591.3 978.7 L1592.3 978.8 L1593.3 979.0 L1594.3 979.0 L1595.3 979.2 L1596.3 979.3 L1597.3 979.3 L1598.3 979.4 L1599.3 979.3 L1600.3 979.1 L1601.3 979.0 L1602.3 978.9 L1603.3 978.9 L1604.3 978.8 L1605.3 978.8 L1606.3 978.8 L1607.3 979.0 L1608.3 979.3 L1609.3 979.2 L1610.3 978.8 L1611.3 978.4 L1612.3 978.4 L1613.3 978.4 L1614.3 978.1 L1615.3 977.7 L1616.3 977.2 L1617.3 977.0 L1618.3 976.9 L1619.3 976.7 L1620.3 976.6 L1621.3 976.6 L1622.3 976.2 L1623.3 975.8 L1624.3 975.9 L1625.3 976.2 L1626.3 976.4 L1627.3 976.2 L1628.3 975.8 L1629.3 975.3 L1630.3 974.8 L1631.3 974.1 L1632.3 973.2 L1633.3 972.3 L1634.3 971.6 L1635.3 970.9 L1636.3 970.7 L1637.3 971.2 L1638.3 972.1 L1639.3 973.0 L1640.3 973.7 L1641.3 974.5 L1642.3 975.3 L1643.3 975.9 L1644.3 976.6 L1645.3 977.1 L1646.3 977.6 L1647.3 978.1 L1648.3 978.6 L1649.3 978.8 L1650.3 979.0 L1651.3 979.1 L1652.3 979.2 L1653.3 979.2 L1654.3 979.3 L1655.3 979.3 L1656.3 979.3 L1657.3 979.4 L1658.3 979.5 L1659.3 979.6 L1660.3 979.6 L1661.3 979.7 L1662.3 979.8 L1663.3 980.1 L1664.3 980.1 L1665.3 979.7 L1666.3 979.5 L1667.3 979.7 L1668.3 980.1 L1669.3 980.1 L1670.3 980.2 L1671.3 980.2 L1672.3 979.9 L1673.3 979.6 L1674.3 979.6 L1675.3 979.9 L1676.3 980.1 L1677.3 980.0 L1678.3 979.9 L1679.3 979.8 L1680.3 979.9 L1681.3 979.9 L1682.3 979.7 L1683.3 979.4 L1684.3 979.3 L1685.3 979.3 L1686.3 979.3 L1687.3 979.3 L1688.3 979.3 L1689.3 979.3 L1690.3 979.5 L1691.3 979.7 L1692.3 979.6 L1693.3 979.4 L1694.3 979.3 L1695.3 979.2 L1696.3 979.2 L1697.3 979.2 L1698.3 979.2 L1699.3 979.3 L1700.3 979.2 L1701.3 979.2 L1702.3 979.2 L1703.3 979.1 L1704.3 979.1 L1705.3 979.1 L1706.3 979.2 L1707.3 979.4 L1708.3 979.8 L1709.3 979.8 L1710.3 979.6 L1711.3 979.4 L1712.3 979.6 L1713.3 979.9 L1714.3 979.9 L1715.3 979.6 L1716.3 979.4 L1717.3 979.4 L1718.3 979.4 L1719.3 979.4 L1720.3 979.4 L1721.3 979.4 L1722.3 979.3 L1723.3 979.0 L1724.3 978.9 L1725.3 978.9 L1726.3 978.8 L1727.3 978.8 L1728.3 978.9 L1729.3 978.8 L1730.3 978.6 L1731.3 978.4 L1732.3 978.2 L1733.3 978.1 L1734.3 977.9 L1735.3 977.7 L1736.3 977.6 L1737.3 977.6 L1738.3 977.7 L1739.3 977.8 L1740.3 977.9 L1741.3 978.0 L1742.3 978.0 L1743.3 978.0 L1744.3 978.2 L1745.3 978.4 L1746.3 978.7 L1747.3 978.6 L1748.3 978.5 L1749.3 978.7 L1750.3 979.1 L1751.3 979.5 L1752.3 979.5 L1753.3 979.5 L1754.3 979.6 L1755.3 979.8 L1756.3 980.0 L1757.3 980.0 L1758.3 980.0 L1759.3 980.0 L1760.3 979.9 L1761.3 979.9 L1762.3 979.8 L1763.3 979.7 L1764.3 979.8 L1765.3 980.2 L1766.3 980.4 L1767.3 980.2 L1768.3 979.8 L1769.3 979.8 L1770.3 979.9 L1771.3 980.0 L1772.3 979.9 L1773.3 979.8 L1774.3 979.8 L1775.3 979.7 L1776.3 979.7 L1777.3 979.8 L1778.3 979.9 L1779.3 980.0 L1780.3 980.0 L1781.3 980.1 L1782.3 979.8 L1783.3 979.5 L1784.3 979.4 L1785.3 979.6 L1786.3 979.7 L1787.3 979.6 L1788.3 979.4 L1789.3 979.4 L1790.3 979.5 L1791.3 979.5 L1792.3 979.5 L1793.3 979.4 L1794.3 979.4 L1795.3 979.3 L1796.3 979.3 L1797.3 979.3 L1798.3 979.3 L1799.3 979.3 L1800.3 979.4 L1801.3 979.4 L1802.3 979.6 L1803.3 979.9 L1804.3 980.0 L1805.3 979.8 L1806.3 979.7 L1807.3 979.7 L1808.3 979.5 L1809.3 979.6 L1810.3 979.9 L1811.3 980.1 L1812.3 980.1 L1813.3 980.1 L1814.3 980.0 L1815.3 979.8 L1816.3 979.6 L1817.3 979.5 L1818.3 979.3 L1819.3 979.3 L1820.3 979.2 L1821.3 979.2 L1822.3 979.1 L1823.3 979.0 L1824.3 979.0 L1825.3 979.0 L1826.3 979.0 L1827.3 978.8 L1828.3 978.6 L1829.3 978.5 L1830.3 978.4 L1831.3 978.3 L1832.3 978.1 L1833.3 977.9 L1834.3 977.6 L1835.3 977.4 L1836.3 977.2 L1837.3 976.9 L1838.3 976.7 L1839.3 976.3 L1840.3 975.8 L1841.3 975.4 L1842.3 975.0 L1843.3 974.7 L1844.3 974.5 L1845.3 974.5 L1846.3 974.6 L1847.3 974.9 L1848.3 975.2 L1849.3 975.5 L1850.3 975.7 L1851.3 976.1 L1852.3 976.4 L1853.3 976.8 L1854.3 977.1 L1855.3 977.3 L1856.3 977.6 L1857.3 977.9 L1858.3 978.3 L1859.3 978.6 L1860.3 979.1 L1861.3 979.5 L1862.3 979.4 L1863.3 979.2 L1864.3 979.2 L1865.3 979.5 L1866.3 979.6 L1867.3 979.7 L1868.3 979.8 L1869.3 979.9 L1870.3 980.0 L1871.3 980.0 L1872.3 979.9 L1873.3 979.6 L1874.3 979.5 L1875.3 979.5 L1876.3 979.5 L1877.3 979.5 L1878.3 979.5 L1879.3 979.5 L1880.3 979.5 L1881.3 979.6 L1882.3 979.6 L1883.3 979.6 L1884.3 979.6 L1885.3 979.8 L1886.3 980.0 L1887.3 980.0 L1888.3 979.9 L1889.3 979.9 L1890.3 980.0 L1891.3 980.0 L1892.3 979.8 L1893.3 979.4 L1894.3 979.4 L1895.3 979.4 L1896.3 979.4 L1897.3 979.7 L1898.3 980.0 L1899.3 980.1 L1900.3 980.2 L1901.3 980.2 L1902.3 980.1 L1903.3 980.0 L1904.3 980.0 L1905.3 980.0 L1906.3 980.1 L1907.3 979.9 L1908.3 979.6 L1909.3 979.6 L1910.3 979.8 L1911.3 979.9 L1912.3 980.0 L1913.3 980.2 L1914.3 980.2 L1915.3 980.1 L1916.3 980.1 L1917.3 980.0 L1918.3 980.0 L1919.3 980.0 L1920.3 980.0 L1921.3 980.0 L1922.3 979.7 L1923.3 979.4 L1924.3 979.2 L1925.3 979.1 L1926.3 979.1 L1927.3 979.0 L1928.3 979.0 L1929.3 979.0 L1930.3 979.1 L1931.3 979.2 L1932.3 979.2 L1933.3 979.2 L1934.3 979.2 L1935.3 979.2 L1936.3 979.2 L1937.3 979.1 L1938.3 978.9 L1939.3 978.8 L1940.3 978.7 L1941.3 978.6 L1942.3 978.5 L1943.3 978.5 L1944.3 978.4 L1945.3 978.2 L1946.3 978.1 L1947.3 978.1 L1948.3 978.1 L1949.3 978.0 L1950.3 977.9 L1951.3 977.8 L1952.3 978.1 L1953.3 978.5 L1954.3 978.6 L1955.3 978.5 L1956.3 978.5 L1957.3 978.8 L1958.3 979.2 L1959.3 979.4 L1960.3 979.4 L1961.3 979.4 L1962.3 979.4 L1963.3 979.4 L1964.3 979.4 L1965.3 979.4 L1966.3 979.4 L1967.3 979.4 L1968.3 979.5 L1969.3 979.6 L1970.3 979.8 L1971.3 979.9 L1972.3 979.9 L1973.3 979.9 L1974.3 979.9 L1975.3 979.6 L1976.3 979.4 L1977.3 979.4 L1978.3 979.4 L1979.3 979.4 L1980.3 979.6 L1981.3 979.8 L1982.3 979.8 L1983.3 979.8 L1984.3 979.8 L1985.3 979.8 L1986.3 979.7 L1987.3 979.7 L1988.3 979.7 L1989.3 979.7 L1990.3 979.9 L1991.3 980.0 L1992.3 979.9 L1993.3 979.7 L1994.3 979.7 L1995.3 979.8 L1996.3 980.0 L1997.3 980.0 L1998.3 980.1 L1999.3 980.2 L2000.3 980.4 L2001.3 980.6 L2002.3 980.5 L2003.3 980.4 L2004.3 980.4 L2005.3 980.5 L2006.3 980.5 L2007.3 980.4 L2008.3 980.2 L2009.3 980.1 L2010.3 980.0 L2011.3 979.9 L2012.3 979.9 L2013.3 979.8 L2014.3 979.8 L2015.3 980.1 L2016.3 980.3 L2017.3 980.2 L2018.3 980.0 L2019.3 979.9 L2020.3 979.7 L2021.3 979.5 L2022.3 979.4 L2023.3 979.2 L2024.3 979.2 L2025.3 979.4 L2026.3 979.5 L2027.3 979.5 L2028.3 979.5 L2029.3 979.5 L2030.3 979.4 L2031.3 979.3 L2032.3 979.2 L2033.3 979.1 L2034.3 979.1 L2035.3 979.2 L2036.3 979.3 L2037.3 979.3 L2038.3 979.4 L2039.3 979.3 L2040.3 978.9 L2041.3 978.7 L2042.3 978.6 L2043.3 978.4 L2044.3 978.3 L2045.3 978.4 L2046.3 978.4 L2047.3 978.3 L2048.3 978.2 L2049.3 978.2 L2050.3 978.2 L2051.3 978.2 L2052.3 978.0 L2053.3 977.7 L2054.3 977.7 L2055.3 977.9 L2056.3 978.1 L2057.3 978.1 L2058.3 978.1 L2059.3 978.1 L2060.3 978.1 L2061.3 978.1 L2062.3 978.1 L2063.3 978.1 L2064.3 978.2 L2065.3 978.6 L2066.3 979.0 L2067.3 978.9 L2068.3 978.7 L2069.3 978.8 L2070.3 979.1 L2071.3 979.3 L2072.3 979.2 L2073.3 979.0 L2074.3 979.1 L2075.3 979.1 L2076.3 979.2 L2077.3 979.4 L2078.3 979.7 L2079.3 979.7 L2080.3 979.6 L2081.3 979.5 L2082.3 979.7 L2083.3 980.1 L2084.3 980.1 L2085.3 980.0 L2086.3 979.9 L2087.3 979.8 L2088.3 979.8 L2089.3 979.8 L2090.3 979.8 L2091.3 979.9 L2092.3 980.0 L2093.3 980.1 L2094.3 980.2 L2095.3 980.3 L2096.3 980.4 L2097.3 980.5 L2098.3 980.7 L2099.3 980.7 L2100.3 980.3 L2101.3 980.1 L2102.3 980.2 L2103.3 980.3 L2104.3 980.3 L2105.3 980.2 L2106.3 980.1 L2107.3 980.3 L2108.3 980.6 L2109.3 980.6 L2110.3 980.2 L2111.3 979.9 L2112.3 979.9 L2113.3 979.8" fill="none" stroke="#ff00ff" stroke-width="7.9" stroke-linejoin="round" stroke-linecap="butt"/>
<defs><clipPath id="ell"><ellipse cx="811.4" cy="1131.0" rx="95.8" ry="436.8"/></clipPath></defs>
<g clip-path="url(#ell)" stroke="#008a00" stroke-width="3.7" fill="none">
<path d="M709.6 705.7 L913.2 502.1 M709.6 725.1 L913.2 521.5 M709.6 744.5 L913.2 540.9 M709.6 763.9 L913.2 560.3 M709.6 783.3 L913.2 579.7 M709.6 802.7 L913.2 599.1 M709.6 822.1 L913.2 618.5 M709.6 841.5 L913.2 637.9 M709.6 860.9 L913.2 657.3 M709.6 880.3 L913.2 676.7 M709.6 899.7 L913.2 696.1 M709.6 919.1 L913.2 715.5 M709.6 938.5 L913.2 734.9 M709.6 957.9 L913.2 754.3 M709.6 977.3 L913.2 773.7 M709.6 996.7 L913.2 793.1 M709.6 1016.1 L913.2 812.5 M709.6 1035.5 L913.2 831.9 M709.6 1054.9 L913.2 851.3 M709.6 1074.3 L913.2 870.7 M709.6 1093.7 L913.2 890.1 M709.6 1113.1 L913.2 909.5 M709.6 1132.5 L913.2 928.9 M709.6 1151.9 L913.2 948.3 M709.6 1171.3 L913.2 967.7 M709.6 1190.7 L913.2 987.1 M709.6 1210.1 L913.2 1006.5 M709.6 1229.5 L913.2 1025.9 M709.6 1248.9 L913.2 1045.3 M709.6 1268.3 L913.2 1064.7 M709.6 1287.7 L913.2 1084.1 M709.6 1307.1 L913.2 1103.5 M709.6 1326.5 L913.2 1122.9 M709.6 1345.9 L913.2 1142.3 M709.6 1365.3 L913.2 1161.7 M709.6 1384.7 L913.2 1181.1 M709.6 1404.1 L913.2 1200.5 M709.6 1423.5 L913.2 1219.9 M709.6 1442.9 L913.2 1239.3 M709.6 1462.3 L913.2 1258.7 M709.6 1481.7 L913.2 1278.1 M709.6 1501.1 L913.2 1297.5 M709.6 1520.5 L913.2 1316.9 M709.6 1539.9 L913.2 1336.3 M709.6 1559.3 L913.2 1355.7 M709.6 1578.7 L913.2 1375.1 M709.6 1598.1 L913.2 1394.5 M709.6 1617.5 L913.2 1413.9 M709.6 1636.9 L913.2 1433.3 M709.6 1656.3 L913.2 1452.7 M709.6 1675.7 L913.2 1472.1 M709.6 1695.1 L913.2 1491.5 M709.6 1714.5 L913.2 1510.9 M709.6 1733.9 L913.2 1530.3 M709.6 1753.3 L913.2 1549.7 M709.6 1772.7 L913.2 1569.1"/>
</g>
<ellipse cx="811.4" cy="1131.0" rx="95.8" ry="436.8" fill="none" stroke="#008a00" stroke-width="7"/>
<line x1="816.4" y1="697.3" x2="1280" y2="229.4" stroke="#000" stroke-width="5" stroke-dasharray="20.6 27.5"/>
<polygon points="1305.6,204 1269.4,225 1283.9,240.3" fill="#000"/>
<rect x="180.8" y="69.6" width="2045.6" height="1509.8" fill="none" stroke="#000" stroke-width="6.4" stroke-linejoin="round"/>
<path d="M294.5 1579.4 V1549.9 M408.1 1579.4 V1564.9 M521.7 1579.4 V1549.9 M635.4 1579.4 V1564.9 M749.0 1579.4 V1549.9 M862.6 1579.4 V1564.9 M976.2 1579.4 V1549.9 M1089.8 1579.4 V1564.9 M1203.5 1579.4 V1549.9 M1317.1 1579.4 V1564.9 M1430.7 1579.4 V1549.9 M1544.3 1579.4 V1564.9 M1657.9 1579.4 V1549.9 M1771.6 1579.4 V1564.9 M1885.2 1579.4 V1549.9 M1998.8 1579.4 V1564.9 M2112.4 1579.4 V1549.9" stroke="#000" stroke-width="6" fill="none"/>
<g font-size="80.5" text-anchor="middle">
<text x="294.7" y="1672.2">10</text>
<text x="521.9" y="1672.2">20</text>
<text x="749.2" y="1672.2">30</text>
<text x="976.4" y="1672.2">40</text>
<text x="1203.7" y="1672.2">50</text>
<text x="1430.9" y="1672.2">60</text>
<text x="1658.1" y="1672.2">70</text>
<text x="1885.4" y="1672.2">80</text>
<text x="2112.6" y="1672.2">90</text>
</g>
<text transform="translate(1203 1811) scale(0.972 1)" font-size="81" text-anchor="middle">2θ (°)</text>
<text transform="translate(84 1160.5) rotate(-90)" font-size="79">Intensity (arb.units)</text>
<text x="190" y="150.5" font-size="77.5">(a)</text>
<text transform="translate(848.5 230.2) scale(0.955 1)" font-size="105.5" style="fill:#990000">Pnma</text>
<line x1="204.5" y1="252.5" x2="331.8" y2="252.5" stroke="#ff00ff" stroke-width="8.6"/>
<text transform="translate(366.0 271.7) scale(0.972 1)" font-size="80.8">x = 0.15</text>
<line x1="204.5" y1="349.6" x2="331.8" y2="349.6" stroke="#0000ff" stroke-width="8.6"/>
<text transform="translate(372.5 369.4) scale(0.972 1)" font-size="80.8">x = 0.10</text>
<line x1="204.5" y1="447.2" x2="331.8" y2="447.2" stroke="#ff0000" stroke-width="8.6"/>
<text transform="translate(372.5 466.3) scale(0.972 1)" font-size="80.8">x = 0.05</text>
<line x1="204.5" y1="545.0" x2="331.8" y2="545.0" stroke="#000000" stroke-width="8.6"/>
<text transform="translate(372.5 562.9) scale(0.972 1)" font-size="80.8">x = 0</text>
<rect x="1360.8" y="87.9" width="842.2" height="609.8" fill="#fff" stroke="none"/>
<rect x="1360.8" y="87.9" width="842.2" height="609.8" fill="none" stroke="#000" stroke-width="3"/>
<clipPath id="ic"><rect x="1360.8" y="87.9" width="843.7" height="609.8"/></clipPath>
<g clip-path="url(#ic)" fill="none" stroke-width="3.7" stroke-linejoin="round">
<path d="M1360.8 610.8 C1384.0 610.7 1466.8 610.5 1500.0 610.4 C1533.2 610.3 1540.0 610.2 1560.0 610.0 C1580.0 609.8 1606.7 609.6 1620.0 609.4 C1633.3 609.2 1633.6 609.1 1640.0 608.9 C1646.4 608.7 1652.4 608.4 1658.6 608.3 C1664.8 608.2 1670.8 608.2 1677.0 608.1 C1683.2 608.0 1690.7 607.8 1696.0 607.6 C1701.3 607.4 1704.7 607.7 1709.0 606.8 C1713.3 605.9 1718.0 604.4 1722.0 602.2 C1726.0 600.0 1729.0 596.6 1733.0 593.8 C1737.0 591.0 1741.3 588.2 1746.0 585.4 C1750.7 582.6 1756.0 580.5 1761.0 577.1 C1766.0 573.7 1771.3 570.1 1776.0 565.0 C1780.7 559.9 1785.0 553.2 1789.0 546.4 C1793.0 539.6 1796.6 530.2 1800.0 524.0 C1803.4 517.8 1806.9 512.8 1809.4 509.1 C1811.9 505.5 1815.0 502.1 1815.0 502.1 C1815.0 502.1 1828.0 501.7 1828.0 501.7 C1828.0 501.7 1836.7 512.8 1841.0 520.3 C1845.3 527.8 1849.7 538.0 1854.0 546.4 C1858.3 554.8 1862.7 563.5 1867.0 570.6 C1871.3 577.7 1875.7 584.4 1880.0 589.2 C1884.3 594.0 1888.3 596.8 1893.0 599.4 C1897.7 602.0 1902.1 603.5 1908.0 605.0 C1913.9 606.5 1917.3 607.3 1928.5 608.1 C1939.7 608.9 1956.4 609.5 1975.0 610.0 C1993.6 610.5 2015.8 610.7 2040.0 610.9 C2064.2 611.1 2092.8 611.0 2120.0 611.0 C2147.2 611.0 2189.2 611.0 2203.0 611.0" stroke="#000000"/>
<path d="M1360.8 483.7 C1384.0 483.6 1460.1 483.5 1500.0 483.4 C1539.9 483.3 1576.7 483.1 1600.0 483.0 C1623.3 482.9 1627.2 482.7 1640.0 482.5 C1652.8 482.3 1666.8 482.0 1677.0 481.6 C1687.2 481.2 1693.8 480.9 1701.0 480.1 C1708.2 479.4 1714.7 478.3 1720.0 477.1 C1725.3 475.9 1728.3 474.9 1733.0 472.8 C1737.7 470.7 1743.0 468.1 1748.0 464.5 C1753.0 460.9 1758.3 455.8 1763.0 451.4 C1767.7 447.0 1771.7 442.7 1776.0 438.4 C1780.3 434.1 1785.3 428.8 1789.0 425.4 C1792.7 422.0 1795.2 420.0 1798.0 418.3 C1800.8 416.6 1803.2 415.7 1805.7 415.1 C1808.2 414.5 1810.2 414.2 1813.0 414.6 C1815.8 415.0 1819.3 416.1 1822.4 417.5 C1825.5 418.9 1828.0 420.1 1831.7 423.1 C1835.4 426.1 1840.4 431.5 1844.7 435.6 C1849.0 439.7 1853.5 444.0 1857.8 447.7 C1862.1 451.4 1866.5 454.8 1870.8 457.9 C1875.1 461.0 1879.4 464.0 1883.8 466.3 C1888.2 468.6 1891.7 469.9 1897.0 471.5 C1902.3 473.1 1908.7 474.8 1915.5 476.0 C1922.3 477.2 1928.1 478.1 1938.0 479.0 C1947.9 479.9 1958.0 481.0 1975.0 481.6 C1992.0 482.2 2015.8 482.4 2040.0 482.6 C2064.2 482.8 2092.8 482.9 2120.0 483.0 C2147.2 483.1 2189.2 483.2 2203.0 483.2" stroke="#ff0000"/>
<path d="M1360.8 396.6 C1384.0 396.5 1460.1 396.2 1500.0 396.0 C1539.9 395.8 1576.7 395.7 1600.0 395.6 C1623.3 395.5 1628.7 395.5 1640.0 395.2 C1651.3 394.9 1659.3 394.2 1668.0 393.6 C1676.7 393.0 1685.5 392.3 1692.0 391.4 C1698.5 390.5 1702.3 389.6 1707.0 388.2 C1711.7 386.8 1715.7 385.6 1720.0 383.2 C1724.3 380.8 1728.3 378.1 1733.0 373.9 C1737.7 369.7 1743.0 363.1 1748.0 358.0 C1753.0 352.9 1758.3 347.8 1763.0 343.1 C1767.7 338.5 1776.0 330.1 1776.0 330.1 C1776.0 330.1 1781.1 320.5 1783.3 316.2 C1785.5 311.9 1787.1 309.2 1789.0 304.1 C1790.9 299.0 1792.3 293.2 1794.5 285.4 C1796.7 277.6 1799.5 265.9 1802.0 257.5 C1804.5 249.1 1807.4 240.5 1809.4 235.2 C1811.4 229.9 1814.0 225.9 1814.0 225.9 C1814.0 225.9 1828.0 221.2 1828.0 221.2 C1828.0 221.2 1831.3 227.3 1833.6 231.5 C1835.9 235.7 1842.0 246.4 1842.0 246.4 C1842.0 246.4 1846.2 258.2 1848.5 265.0 C1850.8 271.8 1853.5 279.9 1856.0 287.3 C1858.5 294.7 1861.2 303.2 1863.4 309.6 C1865.6 316.0 1866.2 318.7 1869.0 325.5 C1871.8 332.3 1876.0 343.3 1880.0 350.6 C1884.0 357.9 1888.7 364.2 1893.0 369.2 C1897.3 374.2 1901.7 377.6 1906.0 380.4 C1910.3 383.2 1913.7 384.4 1919.0 386.0 C1924.3 387.6 1930.2 388.8 1938.0 390.0 C1945.8 391.2 1955.2 392.2 1966.0 393.0 C1976.8 393.8 1990.7 394.5 2003.0 394.9 C2015.3 395.3 2020.5 395.2 2040.0 395.3 C2059.5 395.4 2092.8 395.4 2120.0 395.4 C2147.2 395.4 2189.2 395.4 2203.0 395.4" stroke="#0000ff"/>
<path d="M1360.8 202.6 C1384.0 202.6 1460.1 202.5 1500.0 202.4 C1539.9 202.3 1576.7 202.3 1600.0 202.2 C1623.3 202.1 1627.2 202.3 1640.0 202.0 C1652.8 201.7 1666.2 201.2 1677.0 200.6 C1687.8 200.0 1697.5 199.2 1705.0 198.4 C1712.5 197.6 1717.0 197.0 1722.0 195.7 C1727.0 194.4 1730.7 192.9 1735.0 190.5 C1739.3 188.1 1743.3 184.8 1748.0 181.2 C1752.7 177.6 1758.3 172.6 1763.0 169.1 C1767.7 165.6 1771.7 163.0 1776.0 160.4 C1780.3 157.8 1783.8 156.0 1789.0 153.3 C1794.2 150.6 1801.3 147.3 1807.5 144.4 C1813.7 141.5 1821.7 137.6 1826.0 135.8 C1830.3 134.1 1831.2 134.3 1833.6 133.9 C1836.0 133.5 1840.5 133.2 1840.5 133.2 C1840.5 133.2 1842.8 134.0 1845.0 135.2 C1847.2 136.4 1850.9 138.2 1854.0 140.6 C1857.1 143.0 1860.0 146.2 1863.4 149.6 C1866.8 152.9 1870.8 157.1 1874.5 160.7 C1878.2 164.3 1882.3 168.1 1885.7 171.0 C1889.1 173.9 1891.6 176.1 1895.0 178.4 C1898.4 180.7 1902.0 183.0 1906.0 184.9 C1910.0 186.8 1913.7 188.1 1919.0 189.6 C1924.3 191.1 1931.8 192.9 1938.0 194.2 C1944.2 195.5 1949.8 196.7 1956.0 197.6 C1962.2 198.5 1967.2 199.2 1975.0 199.8 C1982.8 200.4 1992.2 200.9 2003.0 201.2 C2013.8 201.5 2020.5 201.6 2040.0 201.7 C2059.5 201.8 2092.8 201.6 2120.0 201.6 C2147.2 201.6 2189.2 201.5 2203.0 201.5" stroke="#ff00ff"/>
</g>
<line x1="1824" y1="96.5" x2="1824" y2="697.7" stroke="#000" stroke-width="3.4" stroke-dasharray="8.6 12.55"/>
<path d="M1378.3 697.7 V693.2 M1543.6 697.7 V686.7 M1708.9 697.7 V693.2 M1874.2 697.7 V686.7 M2039.5 697.7 V693.2" stroke="#000" stroke-width="3" fill="none"/>
<g font-size="32" text-anchor="middle">
<text x="1544" y="735.5">32</text>
<text x="1874" y="735.5">33</text>
<text x="1781.5" y="791.5">2θ (°)</text>
</g>
<text transform="translate(1320.3 526.8) rotate(-90)" font-size="31.5">Intensity (arb.units)</text>
</svg>
</body></html>
